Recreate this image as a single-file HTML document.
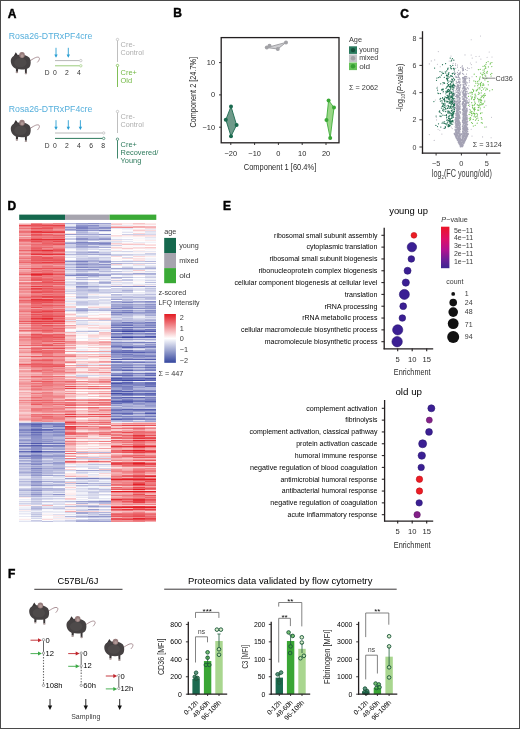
<!DOCTYPE html>
<html><head><meta charset="utf-8"><style>
html,body{margin:0;padding:0;background:#fff;}
body{width:520px;height:729px;overflow:hidden;}
svg{display:block;font-family:"Liberation Sans",sans-serif;will-change:transform;filter:blur(0.3px);}
</style></head><body>
<svg width="520" height="729" viewBox="0 0 520 729">
<rect x="0.5" y="0.5" width="519" height="728" fill="none" stroke="#4a4a4a" stroke-width="1"/>
<text x="7.80" y="17.90" font-size="12" fill="#000" font-weight="bold" style="stroke:#000;stroke-width:0.45px">A</text>
<text x="173.20" y="17.40" font-size="12" fill="#000" font-weight="bold" style="stroke:#000;stroke-width:0.45px">B</text>
<text x="400.20" y="17.80" font-size="12" fill="#000" font-weight="bold" style="stroke:#000;stroke-width:0.45px">C</text>
<text x="7.60" y="210.20" font-size="12" fill="#000" font-weight="bold" style="stroke:#000;stroke-width:0.45px">D</text>
<text x="223.00" y="210.30" font-size="12" fill="#000" font-weight="bold" style="stroke:#000;stroke-width:0.45px">E</text>
<text x="8.00" y="577.60" font-size="12" fill="#000" font-weight="bold" style="stroke:#000;stroke-width:0.45px">F</text>
<defs><symbol id="ms" viewBox="0 0 30 24" overflow="visible">
<path d="M20 9.3 C23.5 7.3 26.5 4.8 29 5.6 C30.6 6.3 29.8 8.6 28 10.4" fill="none" stroke="#a0858a" stroke-width="0.9" stroke-linecap="round"/>
<path d="M6.4 15.5 L6.3 20 L8.3 20.2 L8.7 15.5 Z" fill="#3b3738"/>
<ellipse cx="7.3" cy="20.7" rx="1.3" ry="0.8" fill="#a89696"/>
<path d="M15.2 16 L15.4 21.4 L17.2 21.4 L17.3 16 Z" fill="#3b3738"/>
<ellipse cx="16.3" cy="21.9" rx="1.3" ry="0.8" fill="#a89696"/>
<path d="M2.4 7.5 L6.2 0.6 L8.8 4.2 Z" fill="#343031"/>
<path d="M1.2 9.8 C1 5.8 4 3.6 8 3.3 C12 2.9 17 3.3 19.6 5.9 C21.6 8.3 21.6 13.4 19.6 15.8 C17.2 18 11.5 18.3 7.5 17.4 C3.8 16.5 1.4 13.2 1.2 9.8 Z" fill="#454142"/>
<ellipse cx="10.8" cy="11" rx="6.2" ry="4.6" fill="#4e4a4a"/>
<ellipse cx="12.4" cy="3.4" rx="2.8" ry="3" fill="#967c7c"/>
<ellipse cx="12.6" cy="4.2" rx="1.4" ry="1.6" fill="#b19b98"/>
</symbol>
<marker id="ab" viewBox="0 0 6 6" refX="3" refY="5" markerWidth="6" markerHeight="6" orient="auto-start-reverse" markerUnits="userSpaceOnUse"><path d="M0 0 L3 6 L6 0 Z" fill="#2b9fd3"/></marker>
</defs>
<text x="8.80" y="39.40" font-size="9" fill="#55afdc" textLength="83.6" lengthAdjust="spacingAndGlyphs">Rosa26-DTRxPF4cre</text>
<use href="#ms" x="9.60" y="51.70" width="30" height="24"/>
<line x1="56.00" y1="47.80" x2="56.00" y2="56.40" stroke="#2b9fd3" stroke-width="0.9"/>
<path d="M54.30 54.40 L57.70 54.40 L56.00 57.70 Z" fill="#2b9fd3"/>
<line x1="68.30" y1="47.80" x2="68.30" y2="56.40" stroke="#2b9fd3" stroke-width="0.9"/>
<path d="M66.60 54.40 L70.00 54.40 L68.30 57.70 Z" fill="#2b9fd3"/>
<line x1="55.00" y1="60.60" x2="79.60" y2="60.60" stroke="#b8b8b8" stroke-width="1.0"/>
<circle cx="80.80" cy="60.60" r="1.20" fill="#fff" stroke="#b8b8b8" stroke-width="0.7"/>
<line x1="55.00" y1="65.80" x2="79.60" y2="65.80" stroke="#9ccc7c" stroke-width="1.0"/>
<circle cx="80.80" cy="65.80" r="1.20" fill="#fff" stroke="#9ccc7c" stroke-width="0.7"/>
<text x="44.80" y="75.40" font-size="6.8" fill="#333" textLength="4.8" lengthAdjust="spacingAndGlyphs">D</text>
<text x="54.90" y="75.40" font-size="6.8" fill="#333" text-anchor="middle">0</text>
<text x="66.95" y="75.40" font-size="6.8" fill="#333" text-anchor="middle">2</text>
<text x="79.00" y="75.40" font-size="6.8" fill="#333" text-anchor="middle">4</text>
<circle cx="117.50" cy="39.50" r="1.20" fill="#fff" stroke="#b8b8b8" stroke-width="0.7"/>
<line x1="117.50" y1="40.70" x2="117.50" y2="62.00" stroke="#b8b8b8" stroke-width="0.9"/>
<text x="120.60" y="47.30" font-size="7.4" fill="#aeaeae">Cre-</text>
<text x="120.60" y="55.40" font-size="7.4" fill="#aeaeae" textLength="23.2" lengthAdjust="spacingAndGlyphs">Control</text>
<circle cx="117.50" cy="65.50" r="1.20" fill="#fff" stroke="#72b844" stroke-width="0.7"/>
<line x1="117.50" y1="66.70" x2="117.50" y2="87.00" stroke="#72b844" stroke-width="0.9"/>
<text x="120.60" y="75.30" font-size="7.4" fill="#72b844">Cre+</text>
<text x="120.60" y="83.30" font-size="7.4" fill="#72b844">Old</text>
<text x="8.80" y="111.50" font-size="9" fill="#55afdc" textLength="83.6" lengthAdjust="spacingAndGlyphs">Rosa26-DTRxPF4cre</text>
<use href="#ms" x="9.60" y="119.40" width="30" height="24"/>
<line x1="56.00" y1="120.20" x2="56.00" y2="128.80" stroke="#2b9fd3" stroke-width="0.9"/>
<path d="M54.30 126.80 L57.70 126.80 L56.00 130.10 Z" fill="#2b9fd3"/>
<line x1="68.30" y1="120.20" x2="68.30" y2="128.80" stroke="#2b9fd3" stroke-width="0.9"/>
<path d="M66.60 126.80 L70.00 126.80 L68.30 130.10 Z" fill="#2b9fd3"/>
<line x1="80.40" y1="120.20" x2="80.40" y2="128.80" stroke="#2b9fd3" stroke-width="0.9"/>
<path d="M78.70 126.80 L82.10 126.80 L80.40 130.10 Z" fill="#2b9fd3"/>
<line x1="55.00" y1="133.00" x2="102.50" y2="133.00" stroke="#b8b8b8" stroke-width="1.0"/>
<circle cx="103.70" cy="133.00" r="1.20" fill="#fff" stroke="#b8b8b8" stroke-width="0.7"/>
<line x1="55.00" y1="138.40" x2="102.50" y2="138.40" stroke="#2d7a5c" stroke-width="1.0"/>
<circle cx="103.70" cy="138.40" r="1.20" fill="#fff" stroke="#2d7a5c" stroke-width="0.7"/>
<text x="44.80" y="148.00" font-size="6.8" fill="#333" textLength="4.8" lengthAdjust="spacingAndGlyphs">D</text>
<text x="54.90" y="148.00" font-size="6.8" fill="#333" text-anchor="middle">0</text>
<text x="66.95" y="148.00" font-size="6.8" fill="#333" text-anchor="middle">2</text>
<text x="79.00" y="148.00" font-size="6.8" fill="#333" text-anchor="middle">4</text>
<text x="91.05" y="148.00" font-size="6.8" fill="#333" text-anchor="middle">6</text>
<text x="103.10" y="148.00" font-size="6.8" fill="#333" text-anchor="middle">8</text>
<circle cx="117.50" cy="111.50" r="1.20" fill="#fff" stroke="#b8b8b8" stroke-width="0.7"/>
<line x1="117.50" y1="112.70" x2="117.50" y2="133.00" stroke="#b8b8b8" stroke-width="0.9"/>
<text x="120.60" y="119.20" font-size="7.4" fill="#aeaeae">Cre-</text>
<text x="120.60" y="127.30" font-size="7.4" fill="#aeaeae" textLength="23.2" lengthAdjust="spacingAndGlyphs">Control</text>
<circle cx="117.50" cy="139.20" r="1.20" fill="#fff" stroke="#2d7a5c" stroke-width="0.7"/>
<line x1="117.50" y1="140.40" x2="117.50" y2="158.50" stroke="#2d7a5c" stroke-width="0.9"/>
<text x="120.60" y="147.40" font-size="7.4" fill="#2d7a5c">Cre+</text>
<text x="120.60" y="155.40" font-size="7.4" fill="#2d7a5c">Recovered/</text>
<text x="120.60" y="163.40" font-size="7.4" fill="#2d7a5c">Young</text>
<rect x="221.2" y="37.6" width="117.80" height="105.20" fill="none" stroke="#231f20" stroke-width="1.3"/>
<line x1="230.80" y1="142.80" x2="230.80" y2="145.00" stroke="#231f20" stroke-width="0.9"/>
<text x="230.80" y="155.80" font-size="7.4" fill="#2a2a2a" text-anchor="middle">−20</text>
<line x1="254.60" y1="142.80" x2="254.60" y2="145.00" stroke="#231f20" stroke-width="0.9"/>
<text x="254.60" y="155.80" font-size="7.4" fill="#2a2a2a" text-anchor="middle">−10</text>
<line x1="278.40" y1="142.80" x2="278.40" y2="145.00" stroke="#231f20" stroke-width="0.9"/>
<text x="278.40" y="155.80" font-size="7.4" fill="#2a2a2a" text-anchor="middle">0</text>
<line x1="302.20" y1="142.80" x2="302.20" y2="145.00" stroke="#231f20" stroke-width="0.9"/>
<text x="302.20" y="155.80" font-size="7.4" fill="#2a2a2a" text-anchor="middle">10</text>
<line x1="326.00" y1="142.80" x2="326.00" y2="145.00" stroke="#231f20" stroke-width="0.9"/>
<text x="326.00" y="155.80" font-size="7.4" fill="#2a2a2a" text-anchor="middle">20</text>
<line x1="219.00" y1="62.60" x2="221.20" y2="62.60" stroke="#231f20" stroke-width="0.9"/>
<text x="215.00" y="65.10" font-size="7.4" fill="#2a2a2a" text-anchor="end">10</text>
<line x1="219.00" y1="94.90" x2="221.20" y2="94.90" stroke="#231f20" stroke-width="0.9"/>
<text x="215.00" y="97.40" font-size="7.4" fill="#2a2a2a" text-anchor="end">0</text>
<line x1="219.00" y1="127.20" x2="221.20" y2="127.20" stroke="#231f20" stroke-width="0.9"/>
<text x="215.00" y="129.70" font-size="7.4" fill="#2a2a2a" text-anchor="end">−10</text>
<text x="280.00" y="170.20" font-size="9.6" fill="#2a2a2a" text-anchor="middle" textLength="72.5" lengthAdjust="spacingAndGlyphs">Component 1 [60.4%]</text>
<text x="196.00" y="92.30" font-size="9.6" fill="#2a2a2a" text-anchor="middle" textLength="70.5" lengthAdjust="spacingAndGlyphs" transform="rotate(-90 196.00 92.30)">Component 2 [24.7%]</text>
<polygon points="231.0,106.5 225.8,119.7 231.0,136.2 236.6,125.0" fill="#5f8f7d" fill-opacity="0.9" stroke="#1b6a4f" stroke-width="0.9"/>
<polygon points="266.8,47.6 277.8,49.0 286.0,42.4" fill="#c9c9cc" fill-opacity="0.9" stroke="#9a9a9e" stroke-width="0.9"/>
<polygon points="328.6,100.4 334.0,107.6 330.2,138.0 326.5,120.0" fill="#8fd27a" fill-opacity="0.9" stroke="#3fae3a" stroke-width="0.9"/>
<circle cx="231.00" cy="106.50" r="2.00" fill="#1b6a4f"/>
<circle cx="225.80" cy="119.70" r="2.00" fill="#1b6a4f"/>
<circle cx="231.00" cy="136.20" r="2.00" fill="#1b6a4f"/>
<circle cx="236.60" cy="125.00" r="2.00" fill="#1b6a4f"/>
<circle cx="266.80" cy="47.60" r="2.00" fill="#a2a2a6"/>
<circle cx="277.80" cy="49.00" r="2.00" fill="#a2a2a6"/>
<circle cx="286.00" cy="42.40" r="2.00" fill="#a2a2a6"/>
<circle cx="269.50" cy="45.80" r="2.00" fill="#a2a2a6"/>
<circle cx="328.60" cy="100.40" r="2.00" fill="#3aa935"/>
<circle cx="334.00" cy="107.60" r="2.00" fill="#3aa935"/>
<circle cx="330.20" cy="138.00" r="2.00" fill="#3aa935"/>
<circle cx="326.50" cy="120.00" r="2.00" fill="#3aa935"/>
<text x="349.00" y="41.80" font-size="7.3" fill="#3a3a3a">Age</text>
<rect x="349.0" y="46.30" width="8" height="7.6" fill="#2a7a5e"/>
<circle cx="353.00" cy="50.10" r="2.20" fill="#144f3a"/>
<text x="359.20" y="52.30" font-size="7.3" fill="#3a3a3a" textLength="19.5" lengthAdjust="spacingAndGlyphs">young</text>
<rect x="349.0" y="54.40" width="8" height="7.6" fill="#c4c4c8"/>
<circle cx="353.00" cy="58.20" r="2.20" fill="#a2a2a6"/>
<text x="359.20" y="60.40" font-size="7.3" fill="#3a3a3a" textLength="19.0" lengthAdjust="spacingAndGlyphs">mixed</text>
<rect x="349.0" y="62.50" width="8" height="7.6" fill="#67c15a"/>
<circle cx="353.00" cy="66.30" r="2.20" fill="#36a032"/>
<text x="359.20" y="68.50" font-size="7.3" fill="#3a3a3a" textLength="11.0" lengthAdjust="spacingAndGlyphs">old</text>
<text x="349.00" y="89.90" font-size="7.3" fill="#3a3a3a">Σ = 2062</text>
<line x1="422.50" y1="31.20" x2="422.50" y2="153.75" stroke="#231f20" stroke-width="1.3"/>
<line x1="421.85" y1="153.10" x2="500.40" y2="153.10" stroke="#231f20" stroke-width="1.3"/>
<line x1="419.40" y1="147.00" x2="422.50" y2="147.00" stroke="#231f20" stroke-width="0.9"/>
<text x="416.40" y="149.50" font-size="7" fill="#3a3a3a" text-anchor="end">0</text>
<line x1="419.40" y1="119.80" x2="422.50" y2="119.80" stroke="#231f20" stroke-width="0.9"/>
<text x="416.40" y="122.30" font-size="7" fill="#3a3a3a" text-anchor="end">2</text>
<line x1="419.40" y1="92.60" x2="422.50" y2="92.60" stroke="#231f20" stroke-width="0.9"/>
<text x="416.40" y="95.10" font-size="7" fill="#3a3a3a" text-anchor="end">4</text>
<line x1="419.40" y1="65.40" x2="422.50" y2="65.40" stroke="#231f20" stroke-width="0.9"/>
<text x="416.40" y="67.90" font-size="7" fill="#3a3a3a" text-anchor="end">6</text>
<line x1="419.40" y1="38.20" x2="422.50" y2="38.20" stroke="#231f20" stroke-width="0.9"/>
<text x="416.40" y="40.70" font-size="7" fill="#3a3a3a" text-anchor="end">8</text>
<line x1="436.10" y1="153.10" x2="436.10" y2="155.50" stroke="#231f20" stroke-width="0.9"/>
<text x="436.10" y="165.60" font-size="7.4" fill="#3a3a3a" text-anchor="middle">−5</text>
<line x1="461.40" y1="153.10" x2="461.40" y2="155.50" stroke="#231f20" stroke-width="0.9"/>
<text x="461.40" y="165.60" font-size="7.4" fill="#3a3a3a" text-anchor="middle">0</text>
<line x1="486.70" y1="153.10" x2="486.70" y2="155.50" stroke="#231f20" stroke-width="0.9"/>
<text x="486.70" y="165.60" font-size="7.4" fill="#3a3a3a" text-anchor="middle">5</text>
<text x="431.80" y="177.00" font-size="10" fill="#3a3a3a" textLength="60" lengthAdjust="spacingAndGlyphs">log<tspan font-size="6" dy="1.8">2</tspan><tspan dy="-1.8">(FC young/old)</tspan></text>
<text x="402.80" y="87.50" font-size="8.8" fill="#3a3a3a" text-anchor="middle" textLength="48" lengthAdjust="spacingAndGlyphs" transform="rotate(-90 402.80 87.50)">-log<tspan font-size="5.5" dy="1.8">10</tspan><tspan dy="-1.8">(</tspan><tspan font-style="italic">P</tspan>-value)</text>
<path d="M436.3 117.5h0M474.4 101.0h0M480.2 109.7h0M470.4 63.0h0M429.3 63.9h0M434.2 140.4h0M471.7 67.7h0M453.0 124.2h0M443.4 128.4h0M482.6 136.9h0M431.3 60.9h0M434.7 59.9h0M477.2 116.0h0M469.9 114.8h0M429.3 134.6h0M476.0 56.5h0M484.8 100.2h0M476.2 62.1h0M437.4 64.2h0M472.0 76.7h0M486.0 76.1h0M480.9 59.1h0M440.2 66.7h0M449.1 102.3h0M443.0 92.7h0M481.2 95.5h0M441.9 134.1h0M438.1 129.3h0M471.3 64.6h0M475.8 97.0h0M491.1 137.7h0M437.8 90.7h0M449.9 77.3h0M468.1 77.8h0M451.3 127.0h0M479.2 56.3h0M454.2 60.3h0M437.4 87.1h0M439.8 130.3h0M442.8 84.7h0M486.6 126.9h0M449.2 61.0h0M472.0 136.1h0M486.0 105.6h0M472.2 58.1h0M465.0 78.7h0M486.1 73.1h0M450.1 120.5h0M465.0 54.9h0M471.2 129.3h0M451.7 94.7h0M491.5 117.3h0M435.3 100.0h0M453.5 116.3h0M436.6 119.9h0M452.2 128.6h0M487.1 57.2h0M480.5 36.0h0M471.2 39.8h0M438.3 51.6h0M451.0 56.0h0M471.2 55.0h0M489.2 52.0h0M492.0 57.0h0" stroke="#b9b7c2" stroke-width="1.1" stroke-linecap="round" fill="none"/>
<path d="M449.8 121.5h0M452.5 94.4h0M448.3 105.5h0M448.7 73.9h0M454.4 111.0h0M444.7 105.4h0M453.1 88.8h0M451.8 82.3h0M453.1 115.2h0M450.3 103.3h0M454.6 85.5h0M446.5 78.4h0M452.5 98.4h0M454.3 85.7h0M451.5 110.7h0M445.0 115.4h0M449.3 86.3h0M454.1 80.2h0M447.3 86.7h0M442.9 109.1h0M449.5 90.3h0M446.0 124.1h0M452.9 103.3h0M443.3 91.7h0M454.1 95.1h0M451.3 108.6h0M449.8 123.0h0M453.0 104.2h0M450.8 89.1h0M454.1 87.8h0M453.4 87.1h0M452.9 94.7h0M445.6 111.5h0M442.1 106.3h0M451.5 101.5h0M448.7 126.6h0M454.1 111.1h0M441.4 75.0h0M451.9 95.7h0M444.8 103.0h0M447.8 68.7h0M443.6 99.5h0M450.0 84.4h0M449.0 103.1h0M447.4 83.6h0M450.3 101.4h0M448.1 107.2h0M445.4 127.7h0M451.9 85.2h0M452.5 76.3h0M447.1 123.2h0M452.0 85.6h0M443.1 105.3h0M449.4 93.6h0M442.1 103.6h0M449.9 100.2h0M450.3 125.1h0M448.1 101.3h0M438.5 123.8h0M452.7 106.9h0M448.1 95.2h0M450.9 115.1h0M448.5 84.5h0M451.9 81.4h0M452.5 115.5h0M442.7 89.9h0M436.1 116.0h0M453.2 83.8h0M442.5 64.7h0M451.3 82.1h0M447.4 97.4h0M453.7 60.1h0M437.5 90.0h0M451.2 121.1h0M440.1 77.2h0M453.1 106.9h0M442.1 102.1h0M437.0 88.0h0M451.3 115.5h0M454.1 105.0h0M452.3 101.9h0M441.0 116.1h0M444.6 101.3h0M448.0 105.4h0M450.3 85.9h0M440.0 99.2h0M448.7 99.3h0M442.8 73.6h0M446.9 78.9h0M447.9 76.4h0M447.8 119.8h0M451.4 111.0h0M444.6 121.8h0M453.4 95.8h0M448.6 106.0h0M444.7 128.3h0M450.0 98.8h0M449.4 119.1h0M450.2 93.3h0M439.9 116.1h0M447.9 80.3h0M448.1 126.4h0M450.2 84.5h0M454.0 100.4h0M452.7 97.9h0M449.8 103.1h0M452.1 107.1h0M442.9 115.2h0M452.3 86.4h0M451.5 75.9h0M451.8 100.2h0M452.7 97.5h0M454.6 79.5h0M447.1 77.8h0M450.0 90.0h0M448.4 85.7h0M452.8 89.4h0M451.6 96.3h0M446.6 117.8h0M453.2 117.4h0M451.7 79.0h0M454.1 111.3h0M443.0 82.5h0M448.4 125.1h0M449.1 118.7h0M453.7 106.2h0M447.2 75.4h0M448.6 118.4h0M448.9 111.3h0M446.5 115.5h0M451.3 122.2h0M441.5 89.9h0M446.7 87.2h0M447.1 95.5h0M441.4 108.1h0M452.1 121.3h0M453.3 99.0h0M447.8 112.9h0M444.4 98.3h0M451.2 106.1h0M447.1 98.7h0M446.8 117.0h0M452.1 87.6h0M453.6 93.2h0M440.8 127.0h0M452.6 114.4h0M443.6 73.4h0M452.2 93.7h0M449.5 94.6h0M451.5 118.3h0M443.4 103.5h0M452.5 103.0h0M442.4 106.2h0M451.7 60.0h0M449.2 108.4h0M438.8 93.5h0M450.8 122.2h0M453.1 84.9h0M452.2 97.4h0M452.8 121.0h0M453.8 113.7h0M439.2 111.7h0M452.1 97.1h0M450.8 76.0h0M454.2 111.8h0M450.1 87.6h0M442.1 123.2h0M448.3 120.7h0M452.9 109.2h0M448.3 84.9h0M452.2 73.5h0M451.9 117.7h0M453.5 112.0h0M448.2 112.2h0M451.1 91.9h0M449.2 116.3h0M454.0 107.5h0M452.7 120.3h0M448.3 82.1h0M446.5 114.7h0M453.4 106.2h0M448.6 124.6h0M451.9 85.6h0M454.0 105.3h0M454.7 101.7h0M448.6 89.4h0M445.3 126.7h0M433.9 101.6h0M451.6 81.9h0M446.7 70.9h0M452.3 80.2h0M453.3 106.0h0M450.4 119.2h0M453.6 100.7h0M436.9 78.1h0M451.2 66.5h0M448.4 91.4h0M454.2 98.3h0M448.6 111.0h0M449.1 111.3h0M452.0 124.4h0M452.0 100.3h0M454.2 94.1h0M453.3 104.4h0M447.0 92.4h0M453.6 102.4h0M454.8 73.1h0M448.9 72.5h0M449.3 92.8h0M446.0 88.3h0M448.1 78.3h0M451.7 113.7h0M453.6 113.4h0M443.4 89.1h0M447.9 96.5h0M443.7 111.0h0M454.5 107.8h0M450.6 113.2h0M444.8 100.6h0M452.6 101.2h0M444.3 77.3h0M440.5 93.6h0M438.4 77.6h0M449.4 91.0h0M452.6 96.0h0M443.5 109.0h0M451.5 104.1h0M446.0 92.1h0M446.0 91.4h0M440.4 101.0h0M452.5 79.3h0M445.0 109.7h0M447.4 91.5h0M447.7 69.6h0M440.0 71.5h0M444.8 107.4h0M450.6 107.2h0M453.6 68.3h0M448.3 126.7h0M444.1 107.1h0M451.4 114.0h0M448.5 106.3h0M450.7 75.7h0M447.8 122.1h0M447.4 80.8h0M452.8 65.4h0M440.0 112.3h0M449.5 121.5h0M448.0 97.0h0M446.7 120.2h0M448.6 124.6h0M451.8 118.4h0M444.6 99.1h0M450.3 65.5h0M452.8 103.2h0M444.5 100.2h0M450.7 102.5h0M449.4 95.9h0M451.4 76.0h0M448.9 96.4h0M437.9 93.1h0M451.9 101.5h0M445.8 73.1h0M451.6 68.7h0M454.6 93.6h0M449.3 115.6h0M449.0 116.9h0M454.6 74.3h0M445.1 96.9h0M449.1 113.5h0M453.6 99.0h0M453.7 78.3h0M450.4 87.2h0M449.6 125.2h0M453.9 108.0h0M442.3 89.0h0M445.1 123.6h0M447.7 101.3h0M450.0 86.7h0M448.8 120.7h0M452.7 110.9h0M452.6 86.5h0M434.6 68.0h0M450.2 103.1h0M452.8 85.4h0M446.1 108.8h0M437.5 126.6h0M450.2 58.0h0M452.2 92.9h0M448.4 74.8h0M435.9 125.4h0M450.2 121.4h0M449.7 112.4h0M440.7 83.8h0M454.4 109.4h0M450.9 86.7h0M453.1 88.9h0M450.3 106.5h0M449.0 91.6h0M451.7 116.1h0M450.9 91.4h0M448.6 91.1h0M454.2 104.5h0M451.8 123.9h0M453.0 120.8h0M453.1 114.5h0M444.0 123.4h0M447.1 102.2h0M448.7 126.0h0M449.7 126.1h0M447.5 108.4h0M453.3 94.3h0M441.9 100.7h0M452.0 98.9h0M445.5 108.3h0M448.7 98.8h0M452.1 113.2h0M447.1 90.8h0M439.8 76.8h0M443.0 106.6h0M453.4 68.6h0M452.4 58.5h0M454.5 105.5h0M442.8 98.5h0M451.1 61.0h0M444.6 83.3h0M448.1 112.4h0M454.6 101.5h0M454.2 93.8h0M452.5 103.4h0M451.0 97.4h0M450.8 108.1h0M441.8 89.7h0M446.4 75.8h0M450.7 76.1h0M450.0 107.1h0M452.5 121.2h0M447.9 97.2h0M450.1 118.6h0M454.0 68.4h0M448.1 68.0h0M454.5 104.7h0M452.8 112.5h0M447.3 111.1h0M453.8 84.7h0M445.1 104.0h0M454.5 103.6h0M451.9 97.1h0M450.1 106.4h0M447.7 89.9h0M448.5 116.8h0M445.3 71.8h0M441.0 116.5h0M453.0 121.9h0M440.7 98.3h0M448.2 73.8h0M445.9 93.8h0M451.9 99.5h0M453.1 114.5h0M453.7 85.0h0M446.4 97.5h0M453.2 73.0h0M452.2 115.7h0M451.4 92.2h0M439.7 110.8h0M451.0 104.8h0M453.2 81.8h0M449.6 120.5h0M447.8 91.6h0M442.6 97.6h0M444.4 82.9h0M450.6 96.0h0M450.8 88.6h0M454.2 69.9h0M453.9 94.6h0M452.2 120.5h0M447.9 91.4h0M447.8 86.2h0M449.4 102.0h0M449.6 99.8h0M450.7 83.7h0M450.5 67.8h0M452.1 96.0h0M451.3 110.3h0M450.5 120.9h0M451.2 68.8h0M446.6 75.1h0M436.5 80.3h0M443.1 122.1h0M446.2 101.2h0M449.1 77.0h0M450.1 81.2h0M449.9 97.8h0M445.6 63.5h0M451.6 93.1h0M443.7 104.3h0M454.4 111.4h0M443.0 105.0h0M454.1 104.4h0M448.7 97.9h0M446.1 97.6h0M442.7 110.6h0M454.5 105.0h0M442.0 72.2h0M446.0 106.0h0M450.7 123.3h0M447.3 79.4h0M450.8 92.0h0M454.2 69.5h0M447.0 124.9h0M443.4 82.9h0M452.9 116.3h0M441.3 113.5h0M449.7 121.8h0M450.6 122.0h0M450.0 119.3h0M452.1 86.7h0M451.5 102.6h0M452.5 73.8h0M453.1 91.0h0" stroke="#217054" stroke-width="1.25" stroke-linecap="round" fill="none"/>
<path d="M473.5 90.8h0M474.0 105.3h0M472.9 108.0h0M485.7 67.0h0M489.7 90.8h0M474.6 108.0h0M472.5 123.3h0M483.6 97.7h0M482.0 112.8h0M477.6 89.5h0M481.0 102.4h0M490.2 64.0h0M485.0 75.0h0M474.4 109.1h0M484.4 69.0h0M470.7 118.2h0M483.2 95.5h0M480.3 108.1h0M491.9 62.6h0M480.5 100.2h0M474.4 110.0h0M474.4 115.0h0M481.0 97.6h0M480.5 85.0h0M478.1 88.0h0M482.5 77.2h0M488.4 66.9h0M475.0 114.1h0M486.4 62.5h0M480.5 104.8h0M484.2 107.2h0M485.7 90.1h0M483.1 83.5h0M485.4 76.1h0M473.9 80.9h0M480.6 83.3h0M482.3 85.1h0M479.7 104.1h0M483.4 89.0h0M478.9 80.8h0M484.7 65.5h0M477.7 83.1h0M488.1 61.6h0M477.8 104.9h0M477.8 118.0h0M480.2 76.8h0M476.0 116.5h0M471.4 99.1h0M484.4 71.0h0M483.8 94.9h0M481.6 96.9h0M477.5 81.3h0M469.2 118.3h0M488.1 81.5h0M474.8 86.0h0M485.7 68.4h0M490.6 74.3h0M478.8 101.8h0M486.9 78.0h0M470.7 112.1h0M475.2 94.0h0M474.4 110.9h0M474.5 97.0h0M474.4 113.3h0M479.4 99.3h0M482.5 123.1h0M471.3 92.0h0M468.5 96.3h0M487.1 73.1h0M481.6 90.5h0M470.0 112.2h0M478.3 120.3h0M481.9 119.2h0M471.5 111.8h0M487.8 81.5h0M473.3 126.1h0M474.9 97.5h0M470.4 117.5h0M468.7 102.7h0M483.2 103.4h0M478.7 105.7h0M484.7 93.7h0M471.4 113.3h0M477.6 98.3h0M480.7 99.2h0M485.3 95.4h0M485.9 64.3h0M482.9 104.2h0M472.5 105.6h0M474.8 102.0h0M479.9 88.9h0M472.2 94.2h0M469.1 114.4h0M472.2 105.0h0M470.4 110.0h0M469.5 120.1h0M471.2 92.7h0M475.3 103.4h0M477.5 114.2h0M475.2 109.3h0M472.5 92.6h0M473.5 91.3h0M475.2 125.3h0M480.1 83.9h0M475.6 81.3h0M483.2 85.0h0M480.4 102.0h0M472.1 97.8h0M474.1 116.7h0M487.3 71.4h0M483.8 84.8h0M472.0 111.6h0M474.9 114.2h0M477.2 123.2h0M470.5 119.7h0M484.7 101.8h0M472.3 96.8h0M474.8 107.6h0M478.8 107.4h0M483.3 72.3h0M480.6 85.9h0M481.3 117.7h0M484.5 73.3h0M478.8 92.4h0M478.3 99.3h0M479.2 93.7h0M480.5 113.1h0M474.9 85.8h0M476.3 90.1h0M475.8 95.9h0M482.5 96.0h0M476.3 113.3h0M474.5 108.3h0M472.7 89.3h0M472.1 113.9h0M471.7 102.7h0M473.6 99.7h0M491.1 76.1h0M480.5 113.5h0M484.3 96.0h0M485.1 66.4h0M475.0 98.5h0M478.2 107.5h0M481.8 104.7h0M475.0 94.8h0M473.2 119.4h0M477.7 85.7h0M480.2 69.4h0M484.9 127.0h0M477.3 115.9h0M481.1 99.9h0M481.4 82.3h0M484.9 87.8h0M480.7 73.2h0M473.6 109.0h0M475.8 83.2h0M481.6 100.7h0M490.4 63.1h0M473.4 113.2h0M477.7 110.0h0M474.2 74.2h0M491.8 66.6h0M471.7 97.9h0M487.2 89.4h0M481.3 122.7h0M474.4 99.6h0M475.5 120.2h0M486.9 88.3h0M483.0 70.0h0M483.9 85.1h0M478.6 110.2h0M471.5 122.6h0M479.7 87.6h0M469.9 92.9h0M473.7 90.0h0M483.0 66.3h0M491.8 73.4h0M480.6 83.9h0M475.6 117.1h0M477.2 104.8h0M471.7 115.7h0M479.0 100.5h0M476.5 118.9h0M482.5 75.0h0M484.9 79.9h0M473.9 113.4h0M486.8 72.7h0M474.7 104.6h0M477.0 90.0h0M481.8 103.8h0M480.4 84.1h0M483.1 74.1h0M470.9 96.1h0M482.0 74.5h0M488.3 84.8h0M482.2 87.4h0M486.1 78.6h0M478.4 69.7h0M492.3 89.7h0M479.6 105.8h0M472.5 107.2h0M483.5 78.2h0M479.6 79.3h0M479.7 78.0h0M476.4 76.5h0M468.4 105.3h0M476.3 90.9h0M478.2 94.3h0M478.4 84.0h0M481.2 92.9h0" stroke="#72c456" stroke-width="1.25" stroke-linecap="round" fill="none"/>
<path d="M462.9 137.8h0M465.1 119.5h0M462.9 140.6h0M458.7 108.6h0M465.3 138.8h0M463.9 87.3h0M464.8 125.7h0M463.5 140.2h0M465.1 94.6h0M459.9 101.0h0M466.0 121.5h0M460.1 107.2h0M456.9 115.6h0M463.5 98.1h0M467.0 135.5h0M460.1 146.2h0M462.8 138.4h0M463.7 137.2h0M460.6 141.9h0M463.5 141.9h0M466.0 95.3h0M464.2 139.7h0M465.8 133.0h0M465.6 113.4h0M467.5 135.8h0M457.9 128.8h0M465.5 117.8h0M457.4 128.8h0M455.4 117.6h0M466.5 127.7h0M464.0 120.1h0M465.0 124.9h0M466.6 94.6h0M465.8 106.4h0M466.8 130.0h0M462.5 144.8h0M467.9 133.5h0M457.4 111.9h0M459.1 93.9h0M458.7 110.1h0M465.1 119.5h0M459.0 100.2h0M464.5 140.5h0M462.1 146.8h0M465.0 139.4h0M466.4 91.5h0M465.6 97.7h0M464.0 128.3h0M465.8 107.6h0M467.3 110.5h0M464.7 130.4h0M462.7 144.2h0M465.1 95.9h0M463.1 99.0h0M464.0 113.2h0M459.7 137.9h0M462.7 81.1h0M459.7 118.4h0M460.4 113.2h0M464.9 81.2h0M455.7 127.4h0M465.4 110.0h0M459.5 130.7h0M459.2 82.8h0M465.2 125.3h0M457.4 107.3h0M457.3 130.5h0M456.6 135.4h0M466.5 112.4h0M462.5 120.8h0M463.1 119.6h0M465.2 120.3h0M459.2 107.1h0M458.3 136.0h0M465.4 116.2h0M457.7 139.1h0M462.3 114.1h0M457.6 122.0h0M465.7 136.6h0M467.4 129.5h0M462.8 88.1h0M461.5 139.6h0M460.5 124.3h0M464.2 99.4h0M465.1 128.0h0M457.9 122.7h0M456.5 121.2h0M464.7 82.3h0M456.9 121.6h0M463.8 115.1h0M457.2 116.5h0M465.2 139.6h0M465.6 136.6h0M465.3 140.2h0M465.2 112.2h0M463.0 117.3h0M458.4 129.2h0M455.7 125.6h0M464.5 142.2h0M455.1 133.2h0M457.8 133.7h0M465.7 139.5h0M464.1 86.3h0M465.5 105.0h0M465.1 107.7h0M457.7 98.2h0M462.7 103.5h0M464.9 130.9h0M464.4 122.7h0M459.1 112.2h0M456.4 131.8h0M460.1 126.3h0M463.7 137.9h0M465.8 113.3h0M465.2 86.0h0M464.5 122.0h0M464.6 123.3h0M464.5 88.7h0M456.0 118.2h0M459.7 104.0h0M463.3 108.8h0M466.0 136.8h0M465.8 115.3h0M462.9 138.4h0M457.8 128.2h0M465.0 140.6h0M466.8 129.0h0M466.7 128.3h0M460.0 117.9h0M456.1 114.6h0M458.4 128.6h0M458.8 131.8h0M460.2 146.0h0M459.1 136.0h0M462.9 102.6h0M456.3 88.7h0M463.8 91.3h0M460.4 140.6h0M466.2 125.9h0M459.4 118.3h0M468.3 133.4h0M463.5 111.2h0M460.1 145.2h0M456.2 130.4h0M465.2 100.1h0M461.1 140.1h0M462.9 139.5h0M458.8 141.0h0M456.4 121.6h0M462.9 130.6h0M458.0 90.8h0M467.4 133.2h0M465.6 94.5h0M458.7 128.2h0M460.4 122.8h0M456.5 125.9h0M464.3 126.0h0M455.6 119.0h0M466.4 108.6h0M464.5 106.2h0M455.7 123.8h0M458.9 142.3h0M465.4 129.0h0M465.5 124.0h0M466.4 130.6h0M464.0 112.9h0M455.1 119.5h0M465.5 138.8h0M465.6 111.4h0M463.7 74.5h0M463.5 137.1h0M459.2 120.7h0M457.6 131.8h0M460.2 92.0h0M465.1 117.9h0M458.5 137.6h0M458.6 115.4h0M466.1 128.0h0M457.3 105.8h0M462.0 140.3h0M466.9 123.3h0M466.2 103.8h0M456.6 132.8h0M464.4 122.6h0M457.3 118.6h0M464.7 126.5h0M457.3 101.8h0M467.3 133.7h0M463.7 93.9h0M456.7 124.1h0M461.6 146.1h0M465.7 118.6h0M458.0 101.9h0M455.7 135.9h0M464.0 129.3h0M463.2 108.4h0M466.0 123.7h0M459.8 102.4h0M462.3 146.7h0M458.3 141.0h0M456.7 136.9h0M467.5 118.1h0M456.5 125.5h0M458.8 141.1h0M463.8 141.2h0M465.4 104.1h0M457.8 114.5h0M463.4 140.2h0M457.4 86.8h0M462.8 121.5h0M456.4 127.0h0M464.5 130.5h0M455.6 121.8h0M460.6 129.3h0M459.6 141.6h0M466.4 138.5h0M458.2 142.4h0M457.3 88.0h0M458.4 139.0h0M463.4 142.1h0M456.6 102.2h0M456.0 125.7h0M465.7 78.3h0M457.4 123.2h0M464.2 87.8h0M465.1 139.4h0M457.3 121.6h0M459.0 139.9h0M459.2 103.0h0M460.1 144.5h0M466.6 134.8h0M464.7 86.3h0M459.7 126.9h0M460.3 146.0h0M456.8 113.4h0M465.4 110.8h0M465.7 137.8h0M462.7 132.3h0M458.1 113.0h0M460.2 85.6h0M464.6 141.9h0M458.8 111.7h0M466.5 122.4h0M465.5 116.0h0M457.1 124.0h0M464.2 94.8h0M458.6 85.1h0M463.0 145.3h0M463.5 106.6h0M465.4 136.5h0M465.0 96.0h0M464.1 77.1h0M463.1 113.4h0M462.5 109.3h0M456.7 135.4h0M466.1 135.3h0M459.6 142.3h0M464.8 114.9h0M455.1 122.9h0M460.1 142.8h0M466.0 124.3h0M457.3 123.3h0M457.1 134.6h0M455.7 130.7h0M462.8 145.1h0M457.7 104.3h0M460.4 139.0h0M463.9 132.2h0M463.5 85.7h0M456.7 136.1h0M456.3 133.1h0M464.0 128.4h0M457.8 120.0h0M464.2 135.3h0M458.9 106.9h0M465.0 119.7h0M461.5 146.6h0M464.6 112.8h0M466.0 103.2h0M466.4 137.7h0M457.1 129.6h0M463.8 110.7h0M463.5 128.9h0M458.5 139.3h0M467.0 132.6h0M460.2 141.1h0M464.4 130.1h0M456.9 122.7h0M457.7 100.1h0M465.1 136.7h0M466.1 127.5h0M466.9 134.3h0M463.3 145.1h0M457.8 125.4h0M465.3 138.7h0M459.7 116.1h0M462.7 136.1h0M463.5 136.7h0M465.6 115.3h0M466.5 99.8h0M463.8 119.3h0M466.4 133.6h0M455.7 136.3h0M466.2 120.9h0M458.3 141.9h0M463.1 141.8h0M459.5 138.7h0M465.9 100.3h0M455.7 133.0h0M466.2 115.3h0M465.8 93.6h0M461.7 140.6h0M459.9 130.0h0M461.1 134.3h0M458.6 115.3h0M456.8 113.4h0M460.3 140.5h0M459.0 81.7h0M461.6 144.9h0M457.2 127.4h0M459.5 143.2h0M456.6 125.0h0M458.8 90.7h0M467.6 136.2h0M457.5 118.4h0M458.3 105.5h0M467.0 117.7h0M466.3 110.2h0M464.4 106.5h0M466.6 108.2h0M459.8 88.7h0M462.8 125.0h0M456.9 117.0h0M454.4 134.2h0M462.9 82.3h0M459.8 88.1h0M463.0 77.9h0M464.4 99.9h0M465.7 80.9h0M462.1 139.2h0M457.7 135.9h0M454.9 133.4h0M466.6 118.2h0M464.2 106.3h0M457.6 118.0h0M458.6 125.2h0M465.5 114.3h0M464.0 103.5h0M466.4 129.4h0M459.9 106.1h0M464.9 138.0h0M456.8 117.7h0M463.1 82.6h0M465.0 111.5h0M459.1 121.6h0M458.1 119.5h0M462.0 137.3h0M457.2 138.5h0M457.8 125.8h0M466.1 114.8h0M457.4 140.2h0M464.5 100.2h0M464.3 123.2h0M459.5 144.6h0M456.7 106.0h0M457.9 82.7h0M465.8 128.7h0M456.0 135.7h0M463.1 129.8h0M459.0 113.5h0M461.8 140.6h0M467.4 119.8h0M458.6 109.7h0M460.2 144.9h0M464.3 90.8h0M462.4 145.6h0M459.2 140.6h0M464.5 119.8h0M455.9 127.2h0M466.9 136.1h0M466.0 117.9h0M460.4 95.1h0M463.2 136.2h0M455.1 132.5h0M463.9 140.3h0M464.3 126.8h0M464.5 120.5h0M464.2 101.5h0M466.5 118.6h0M465.9 119.7h0M457.2 132.1h0M465.9 122.0h0M466.1 130.7h0M455.8 100.8h0M459.6 111.8h0M458.8 82.2h0M459.7 108.4h0M464.5 109.0h0M463.7 95.4h0M465.7 122.8h0M456.4 132.7h0M456.3 115.7h0M459.0 129.5h0M462.0 146.6h0M456.5 128.0h0M462.0 144.4h0M465.8 117.8h0M463.3 130.3h0M463.7 115.8h0M457.5 122.8h0M459.6 143.6h0M459.1 137.7h0M457.4 112.9h0M460.2 144.7h0M461.9 146.5h0M466.4 85.3h0M464.2 107.7h0M465.0 118.4h0M463.3 124.1h0M457.0 88.1h0M465.5 121.3h0M455.3 135.9h0M463.4 107.1h0M467.1 124.5h0M459.7 89.8h0M460.5 141.7h0M459.0 85.4h0M456.9 109.6h0M464.6 106.4h0M465.3 121.2h0M458.9 126.9h0M459.4 129.8h0M463.1 145.3h0M459.0 128.5h0M457.5 97.7h0M459.9 97.8h0M465.8 114.6h0M455.2 119.3h0M459.3 117.7h0M458.9 102.9h0M459.0 141.3h0M460.0 136.3h0M458.5 116.6h0M462.5 78.2h0M456.8 117.9h0M463.9 136.1h0M465.6 119.2h0M455.3 120.5h0M460.4 138.4h0M465.1 138.1h0M456.7 118.8h0M464.1 128.7h0M464.5 106.4h0M463.9 77.2h0M457.2 107.0h0M466.1 88.5h0M466.9 137.2h0M457.9 120.6h0M462.5 77.6h0M459.0 97.0h0M457.9 104.1h0M463.1 141.2h0M458.8 125.5h0M455.9 132.3h0M459.9 123.5h0M460.8 135.0h0M462.9 104.3h0M458.7 95.6h0M463.7 118.9h0M458.2 127.5h0M462.7 117.2h0M457.9 86.2h0M459.8 128.3h0M463.3 140.5h0M457.5 129.1h0M458.3 117.2h0M460.0 129.7h0M465.7 137.0h0M458.0 88.1h0M459.7 115.9h0M455.4 117.8h0M455.4 122.4h0M459.1 116.9h0M463.8 117.9h0M466.8 126.2h0M458.5 81.4h0M455.8 125.7h0M466.0 127.3h0M457.6 134.3h0M464.2 129.5h0M465.0 126.7h0M464.6 95.0h0M459.6 144.2h0M456.8 124.2h0M465.4 126.6h0M465.5 82.7h0M459.6 121.0h0M455.9 115.6h0M459.1 116.1h0M458.5 107.8h0M455.7 102.9h0M459.1 144.1h0M466.8 119.4h0M455.5 107.3h0M456.7 139.0h0M464.3 101.3h0M461.8 144.9h0M465.4 97.3h0M466.1 128.8h0M461.9 139.0h0M463.7 122.9h0M457.0 88.9h0M455.3 135.1h0M457.9 130.6h0M465.4 105.1h0M459.9 133.9h0M456.3 103.9h0M459.0 136.4h0M455.6 119.3h0M457.6 82.5h0M464.8 139.2h0M463.4 143.2h0M462.2 139.4h0M465.1 111.2h0M460.3 138.4h0M466.6 108.7h0M459.6 91.1h0M464.1 90.9h0M466.5 129.5h0M459.9 143.1h0M464.9 129.4h0M464.2 113.3h0M464.0 135.2h0M459.6 114.8h0M462.5 128.5h0M466.5 128.5h0M462.8 145.0h0M459.4 128.1h0M465.3 95.0h0M456.6 111.2h0M456.1 98.6h0M464.8 118.3h0M464.9 101.1h0M463.0 106.3h0M463.3 116.7h0M456.5 94.8h0M460.3 73.8h0M457.5 134.9h0M459.7 91.3h0M454.6 133.5h0M458.7 120.7h0M462.7 145.5h0M462.7 73.4h0M457.8 106.2h0M459.0 108.0h0M458.3 129.2h0M464.5 88.8h0M459.7 123.3h0M459.2 128.1h0M464.8 141.6h0M456.1 137.9h0M460.2 104.1h0M459.7 141.2h0M456.5 119.7h0M458.3 136.5h0M455.8 119.4h0M459.0 81.8h0M464.2 123.4h0M460.2 94.0h0M464.2 120.2h0M465.7 89.8h0M464.2 125.2h0M457.1 106.9h0M455.9 122.1h0M457.1 117.3h0M465.3 138.4h0M455.8 136.3h0M464.0 123.7h0M458.4 128.3h0M459.7 72.9h0M462.5 145.7h0M463.5 98.4h0M460.4 127.6h0M460.2 105.9h0M456.1 108.1h0M457.6 135.8h0M464.6 115.2h0M456.4 111.8h0M462.8 101.9h0M457.4 134.1h0M457.9 139.3h0M464.5 101.5h0M467.0 108.8h0M466.6 126.2h0M458.6 113.5h0M457.1 101.1h0M466.7 110.3h0M459.1 109.0h0M461.6 146.2h0M459.3 109.0h0M467.1 108.9h0M459.1 143.8h0M455.9 114.9h0M454.8 129.8h0M456.0 130.9h0M456.0 99.1h0M463.1 128.3h0M460.2 92.7h0M456.7 132.3h0M456.2 125.7h0M457.9 103.9h0M462.3 126.3h0M458.1 107.9h0M464.0 118.0h0M466.1 139.2h0M464.9 139.5h0M463.2 128.4h0M459.1 110.7h0M466.4 105.1h0M457.6 114.9h0M457.2 140.1h0M464.8 119.5h0M454.4 134.6h0M459.3 89.5h0M455.6 130.4h0M459.3 79.3h0M460.6 143.5h0M462.6 102.6h0M459.9 144.1h0M465.7 135.1h0M466.1 112.1h0M463.1 141.6h0M460.0 145.1h0M458.8 142.8h0M462.4 133.7h0M464.2 134.6h0M456.7 138.5h0M462.9 140.4h0M461.6 142.3h0M465.2 135.1h0M460.0 145.1h0M463.1 116.0h0M457.6 116.7h0M463.6 129.9h0M457.7 122.8h0M463.5 132.7h0M462.8 98.3h0M458.5 76.6h0M465.6 116.5h0M466.7 127.7h0M458.4 131.3h0M466.8 124.5h0M458.2 129.3h0M466.9 123.2h0M461.9 145.7h0M464.9 101.6h0M466.3 138.6h0M456.9 123.9h0M466.5 112.4h0M466.3 136.4h0M460.2 145.9h0M460.0 126.1h0M465.8 120.2h0M458.8 137.2h0M457.5 118.1h0M456.6 129.4h0M460.8 143.9h0M457.3 114.2h0M459.5 138.0h0M463.7 112.3h0M459.4 141.4h0M462.2 136.6h0M457.6 116.3h0M465.3 88.4h0M463.5 143.7h0M466.1 113.2h0M457.0 108.8h0M466.7 98.4h0M465.0 110.6h0M458.0 102.0h0M463.2 128.9h0M465.8 93.6h0M464.8 129.3h0M465.9 124.6h0M461.5 146.5h0M458.8 79.9h0M463.4 106.2h0M459.6 130.6h0M462.7 144.0h0M465.3 125.4h0M458.5 133.8h0M464.4 128.9h0M463.8 105.6h0M462.2 142.0h0M462.5 104.9h0M464.1 123.4h0M457.8 113.2h0M467.0 117.7h0M464.7 100.9h0M463.6 140.0h0M455.3 134.4h0M458.8 141.0h0M465.8 133.4h0M463.9 105.9h0M460.6 144.1h0M463.6 142.4h0M463.3 114.7h0M459.1 116.2h0M463.4 111.6h0M466.6 122.7h0M457.3 84.2h0M464.9 126.9h0M458.4 128.1h0M463.5 133.8h0M456.8 127.5h0M456.2 124.2h0M458.7 86.2h0M462.6 141.7h0M455.7 108.7h0M458.8 132.9h0M462.8 131.8h0M457.7 124.1h0M466.8 103.3h0M464.7 119.7h0M460.7 139.5h0M462.6 99.5h0M465.1 80.3h0M465.5 112.8h0M460.3 144.9h0M459.5 78.1h0M460.4 111.5h0M466.1 119.1h0M458.4 140.7h0M463.1 134.8h0M465.7 126.7h0M467.4 134.7h0M456.5 108.0h0M464.9 126.1h0M457.4 132.8h0M460.5 128.9h0M457.6 112.3h0M460.4 141.7h0M462.6 129.7h0M464.5 122.0h0M458.6 141.1h0M463.6 142.0h0M462.0 146.1h0M465.6 93.9h0M465.9 96.9h0M458.7 110.4h0M456.7 136.8h0M463.3 94.8h0M459.0 81.7h0M465.3 88.8h0M463.3 110.2h0M464.8 134.9h0M464.4 107.3h0M457.7 121.0h0M465.4 122.7h0M463.7 114.6h0M458.3 125.4h0M458.2 102.4h0M462.5 146.4h0M458.8 118.9h0M465.6 76.8h0M456.9 138.4h0M463.0 145.7h0M459.7 117.7h0M467.0 108.1h0M457.4 133.7h0M457.6 106.7h0M458.2 77.6h0M464.0 109.5h0M466.1 106.1h0M465.9 132.9h0M456.3 112.7h0M464.1 143.1h0M464.8 122.6h0M457.9 122.1h0M466.0 131.5h0M463.5 135.1h0M457.9 128.7h0M456.0 104.3h0M461.8 141.0h0M456.9 111.4h0M466.6 114.7h0M458.0 121.0h0M462.7 69.5h0M458.0 97.1h0M462.1 137.7h0M466.3 121.8h0M460.1 136.4h0M463.7 101.2h0M460.7 138.5h0M464.3 110.8h0M463.3 102.7h0M457.1 136.1h0M456.5 95.3h0M463.2 123.0h0M464.8 137.5h0M456.5 95.8h0M457.9 102.1h0M465.0 135.4h0M457.3 97.2h0M459.7 136.7h0M462.4 121.9h0M464.0 138.2h0M457.4 134.3h0M467.1 117.5h0M457.7 88.4h0M456.5 111.9h0M466.1 130.3h0M455.3 135.6h0M459.6 136.6h0M465.1 93.3h0M463.2 101.5h0M458.0 137.5h0M455.8 132.0h0M458.9 124.0h0M456.1 130.4h0M464.5 104.5h0M468.0 129.4h0M465.1 119.3h0M457.9 109.0h0M464.4 113.4h0M467.1 111.4h0M465.2 127.5h0M463.3 133.3h0M459.6 88.9h0M456.4 119.5h0M456.2 101.0h0M457.6 103.7h0M464.2 92.9h0M464.5 113.7h0M459.2 98.4h0M465.6 128.2h0M459.4 144.3h0M455.3 117.4h0M464.2 129.0h0M466.8 127.7h0M457.5 105.1h0M464.7 140.4h0M462.6 135.4h0M464.7 120.2h0M455.4 124.7h0M457.7 140.5h0M463.3 108.4h0M467.0 109.5h0M465.3 117.3h0M463.2 110.7h0M465.1 78.8h0M463.4 122.3h0M456.3 115.3h0M458.3 139.3h0M457.8 101.7h0M457.4 140.5h0M462.0 143.6h0M466.2 130.8h0M458.1 97.2h0M458.5 87.1h0M455.7 134.2h0M458.5 92.9h0M465.6 102.1h0M461.9 146.5h0M457.8 132.4h0M468.2 134.6h0M463.3 141.2h0M463.0 114.2h0M463.0 122.3h0M463.7 99.8h0M459.5 134.7h0M463.8 129.5h0M458.7 118.5h0M459.4 134.2h0M462.7 132.4h0M459.0 117.2h0M455.4 130.2h0M458.1 110.5h0M458.3 127.9h0M462.4 142.6h0M463.4 92.7h0M459.8 118.2h0M455.8 136.1h0M457.8 86.2h0M458.1 122.0h0M455.7 113.7h0M459.6 143.5h0M463.3 105.8h0M467.2 115.9h0M465.9 84.3h0M466.0 138.6h0M465.6 106.5h0M457.5 126.9h0M458.5 142.2h0M457.2 125.3h0M458.3 90.7h0M463.7 125.2h0M462.9 73.6h0M459.7 94.2h0M462.5 145.7h0M462.8 104.6h0M457.7 94.5h0M456.8 127.3h0M462.9 106.3h0M462.9 131.6h0M462.7 122.7h0M458.8 109.6h0M462.2 146.0h0M460.3 100.9h0M459.4 112.0h0M465.9 118.6h0M465.5 140.1h0M455.6 118.6h0M457.7 95.3h0M462.6 110.6h0M463.3 127.1h0M465.2 127.1h0M462.9 138.4h0M457.5 122.4h0M464.8 78.0h0M463.8 142.6h0M464.5 120.0h0M458.9 136.3h0M459.6 122.5h0M462.6 109.7h0M463.9 132.3h0M465.2 83.8h0M465.6 138.3h0M459.7 138.1h0M467.1 117.2h0M456.7 138.7h0M466.1 109.9h0M463.3 104.5h0M464.2 119.4h0M458.1 128.0h0M457.6 74.3h0M459.2 120.5h0M456.7 131.3h0M457.8 96.4h0M465.3 122.6h0M463.8 86.3h0M459.1 129.7h0M457.5 127.7h0M459.2 97.6h0M458.5 132.3h0M459.2 121.8h0M463.1 121.3h0M455.6 124.9h0M458.4 141.4h0M459.0 142.9h0M465.7 127.4h0M464.9 113.2h0M467.5 131.4h0M458.6 113.9h0M465.4 89.7h0M464.9 99.8h0M459.1 106.0h0M465.8 138.9h0M462.3 145.2h0M466.7 117.5h0M458.8 114.6h0M458.3 133.2h0M464.2 129.7h0M464.8 139.3h0M463.1 87.3h0M463.9 99.6h0M465.4 118.6h0M458.2 109.5h0M466.1 132.8h0M455.8 103.4h0M464.1 142.6h0M464.7 134.7h0M457.1 127.2h0M458.2 117.8h0M462.6 145.3h0M461.2 143.8h0M463.3 129.7h0M459.2 104.5h0M462.7 142.5h0M466.1 115.9h0M463.3 119.3h0M458.5 124.6h0M458.3 131.5h0M456.8 129.5h0M458.1 116.1h0M457.4 99.7h0M457.8 104.7h0M457.5 115.7h0M462.9 128.1h0M460.5 138.9h0M459.0 89.9h0M465.7 103.2h0M464.0 118.1h0M466.4 132.4h0M458.9 121.1h0M458.5 109.9h0M455.2 129.0h0M457.4 114.9h0M460.9 143.1h0M465.3 91.5h0M464.0 139.2h0M456.4 105.7h0M459.9 132.8h0M463.7 100.8h0M455.7 113.6h0M466.7 133.5h0M459.4 125.5h0M460.1 82.5h0M456.4 110.9h0M464.9 108.9h0M466.1 111.4h0M465.7 133.3h0M457.8 103.2h0M464.7 104.5h0M459.1 95.4h0M463.6 130.1h0M463.7 84.5h0M457.7 110.7h0M457.2 135.0h0M455.4 134.6h0M467.7 124.3h0M464.3 94.7h0M463.3 91.9h0M455.5 131.6h0M460.0 137.3h0M457.6 109.9h0M462.8 132.2h0M458.7 143.2h0M461.1 143.2h0M460.3 145.9h0M467.6 128.2h0M464.9 138.4h0M462.4 145.2h0M457.9 120.5h0M460.1 125.1h0M467.4 136.0h0M458.0 136.9h0M458.1 117.5h0M465.8 102.8h0M459.4 141.6h0M459.9 116.1h0M465.0 121.7h0M456.8 119.7h0M459.6 103.0h0M459.2 94.7h0M456.5 126.2h0M458.4 130.1h0M465.6 92.5h0M463.8 111.9h0M466.5 129.6h0M465.5 69.5h0M463.9 109.8h0M458.8 122.8h0M465.3 120.4h0M458.5 142.1h0M455.0 126.8h0M463.2 120.8h0M465.2 130.5h0M458.7 130.5h0M458.4 136.8h0M456.5 136.9h0M466.9 122.4h0M463.8 116.5h0M459.3 89.4h0M459.1 102.5h0M463.3 141.3h0M457.9 85.1h0M458.8 114.9h0M455.3 120.7h0M466.0 81.6h0M458.3 136.2h0M465.4 100.1h0M462.0 145.1h0M460.8 144.3h0M463.4 102.4h0M457.5 127.2h0M461.7 146.6h0M465.4 133.5h0M457.0 117.4h0M458.7 138.8h0M457.8 127.5h0M462.6 136.3h0M464.5 103.7h0M458.2 127.2h0M460.3 143.0h0M466.9 135.4h0M465.0 104.5h0M459.2 134.5h0M464.4 111.2h0M460.3 143.1h0M466.0 95.8h0M465.2 107.0h0M465.1 109.4h0M464.3 108.2h0M459.6 133.3h0M467.0 120.7h0M465.9 105.4h0M460.8 145.4h0M458.1 97.1h0M455.2 120.4h0M462.9 118.5h0M464.3 127.5h0M456.3 135.7h0M457.1 126.6h0M458.2 141.1h0M464.9 122.2h0M463.7 113.9h0M455.8 117.6h0M464.5 89.7h0M456.1 118.5h0M459.0 77.2h0M458.7 135.4h0M456.7 89.6h0M457.2 124.9h0M463.9 94.8h0M462.3 138.1h0M463.7 84.7h0M463.9 130.1h0M455.8 127.0h0M457.5 119.6h0M458.4 127.7h0M462.4 145.6h0M464.4 103.7h0M464.5 109.2h0M460.0 109.4h0M460.1 125.4h0M459.3 88.0h0M459.4 109.4h0M465.6 128.1h0M458.7 131.6h0M465.5 120.9h0M466.7 118.8h0M456.4 130.6h0M464.9 90.1h0M464.7 142.1h0M459.1 111.0h0M458.4 128.2h0M459.2 139.0h0M465.2 89.8h0M456.4 138.6h0M459.7 145.0h0M464.4 111.3h0M464.5 130.7h0M466.7 131.1h0M463.4 107.8h0M464.8 98.1h0M460.5 133.7h0M463.4 69.4h0M467.2 125.2h0M456.6 120.1h0M464.5 120.7h0M460.0 134.3h0M463.7 131.5h0M456.7 138.8h0M457.0 107.3h0M457.4 110.0h0M463.5 102.4h0M465.1 122.7h0M460.4 146.6h0M459.4 105.9h0M462.3 146.5h0M459.5 129.4h0M466.0 115.8h0M465.5 91.2h0M459.1 143.0h0M459.3 95.1h0M457.9 120.3h0M459.8 99.4h0M460.3 146.0h0M464.4 96.3h0M457.9 92.8h0M458.8 86.9h0M458.6 124.1h0M465.1 126.3h0M456.4 120.8h0M462.6 125.0h0M458.9 134.0h0M456.2 138.1h0M465.1 121.4h0M458.4 85.8h0M456.4 118.6h0M458.7 135.5h0M463.5 78.3h0M459.1 123.7h0M459.4 126.8h0M461.0 146.7h0M459.5 83.7h0M465.5 110.6h0M458.6 90.5h0M458.9 122.1h0M457.3 109.3h0M463.3 87.7h0M466.1 116.8h0M465.6 138.2h0M457.3 120.3h0M458.0 131.1h0M458.6 128.5h0M457.0 124.5h0M464.4 129.3h0M462.5 145.8h0M460.0 129.5h0M464.3 133.2h0M463.2 95.0h0M456.0 134.3h0M461.7 133.5h0M459.1 115.7h0M459.3 134.1h0M456.4 134.0h0M461.7 140.5h0M458.9 130.8h0M454.9 129.9h0M458.5 87.3h0M459.0 99.7h0M465.7 127.4h0M461.6 142.3h0M465.0 120.4h0M458.5 121.9h0M460.4 146.9h0M465.8 103.4h0M466.0 129.7h0M458.6 89.2h0M459.6 131.0h0M456.8 97.5h0M465.4 117.8h0M463.8 94.5h0M457.0 116.5h0M458.3 116.2h0M459.0 142.9h0M457.9 125.7h0M458.3 115.7h0M464.9 125.7h0M456.6 136.5h0M464.6 121.8h0M457.9 133.3h0M460.4 142.7h0M458.3 113.7h0M457.3 90.8h0M462.3 112.2h0M464.6 138.8h0M465.1 138.1h0M456.7 76.6h0M460.9 145.7h0M460.7 144.9h0M456.7 125.3h0M462.4 144.5h0M463.0 110.4h0M456.8 118.7h0M457.1 117.8h0M462.0 146.1h0M463.5 99.3h0M456.6 137.9h0M459.4 109.4h0M464.3 135.5h0M457.2 97.4h0M459.5 126.1h0M456.5 106.0h0M465.0 136.6h0M458.5 109.5h0M455.5 129.6h0M454.9 134.8h0M464.8 138.4h0M464.1 105.8h0M458.2 120.2h0M467.1 129.9h0M464.2 122.6h0M466.9 130.3h0M464.6 89.8h0M458.8 105.8h0M457.6 108.8h0M464.0 100.7h0M459.4 101.3h0M458.0 102.1h0M463.7 122.2h0M457.4 107.9h0M465.2 96.3h0M459.9 118.5h0M459.4 127.7h0M464.7 139.6h0M458.0 105.2h0M465.0 96.4h0M458.0 88.2h0M463.3 107.1h0M463.3 145.1h0M459.4 126.8h0M463.7 122.5h0M458.8 142.1h0M456.6 115.1h0M463.2 136.0h0M466.2 132.3h0M460.2 135.3h0M460.7 142.5h0M464.0 114.8h0M463.2 132.5h0M464.5 140.7h0M457.6 112.5h0M466.3 91.2h0M455.2 135.0h0M459.2 101.4h0M464.9 128.1h0M465.0 134.5h0M459.1 141.6h0M466.0 135.3h0M458.7 119.6h0M462.8 145.3h0M467.1 134.2h0M464.2 132.9h0M463.8 143.7h0M462.6 122.5h0M458.3 112.2h0M457.4 72.4h0M465.2 131.7h0M464.1 129.3h0M466.0 96.9h0M456.2 132.5h0M459.2 82.5h0M457.6 119.7h0M457.3 133.9h0M465.0 128.5h0M463.6 80.3h0M465.2 95.2h0M463.7 81.9h0M460.5 79.0h0M462.5 126.2h0M457.4 129.1h0M463.0 114.3h0M457.9 82.5h0M462.3 109.3h0M464.1 91.1h0M457.0 127.1h0M466.0 119.4h0M458.5 73.7h0M466.5 134.4h0M460.1 131.6h0M463.5 120.7h0M466.4 134.5h0M458.1 118.1h0M458.4 137.2h0M458.9 136.7h0M458.3 75.5h0M465.1 136.4h0M466.8 126.3h0M459.1 101.0h0M459.0 108.0h0M462.5 145.7h0M463.6 101.1h0M457.7 129.4h0M464.5 133.9h0M463.4 123.4h0M465.8 120.5h0M458.2 108.6h0M460.2 105.9h0M457.8 126.8h0M467.5 127.7h0M458.8 82.2h0M464.1 143.3h0M463.0 117.1h0M460.2 111.7h0M461.8 143.7h0M458.4 112.1h0M465.8 107.8h0M466.1 110.6h0M464.3 97.6h0M462.4 88.7h0M463.5 95.8h0M456.4 110.6h0M456.5 138.0h0M463.8 99.4h0M458.8 110.3h0M466.0 119.3h0M459.9 139.6h0M464.9 128.0h0M455.9 125.4h0M460.9 144.1h0M464.6 104.3h0M463.9 143.2h0M462.6 137.2h0M467.0 103.4h0M464.5 110.9h0M467.4 134.6h0M464.8 123.8h0M457.4 110.3h0M458.6 127.6h0M456.3 123.1h0M463.5 122.8h0M461.8 142.2h0M464.9 140.0h0M463.3 105.8h0M458.1 136.8h0M468.1 134.3h0M459.7 81.2h0M463.5 127.4h0M459.3 95.6h0M457.5 111.4h0M459.8 143.8h0M465.3 130.8h0M464.5 95.5h0M456.9 126.9h0M456.0 135.4h0M462.7 104.2h0M465.9 127.5h0M455.6 136.9h0M463.5 90.4h0M465.1 134.4h0M458.3 138.6h0M456.4 133.4h0M462.7 104.5h0M464.3 115.8h0M457.1 110.3h0M459.1 101.5h0M467.5 133.8h0M462.1 140.0h0M457.9 124.3h0M463.3 140.1h0M460.0 118.7h0M457.1 138.2h0M462.4 134.7h0M463.0 126.2h0M456.3 129.5h0M456.8 76.9h0M462.8 96.8h0M458.2 123.6h0M458.8 134.1h0M457.1 111.0h0M466.9 130.3h0M463.8 128.5h0M454.1 133.6h0M459.1 124.9h0M465.8 79.4h0M458.3 103.3h0M465.5 101.9h0M460.4 146.3h0M465.0 131.8h0M463.4 120.8h0M458.6 143.1h0M454.9 134.6h0M465.3 91.0h0M466.2 132.4h0M457.6 138.0h0M461.6 134.5h0M464.3 140.5h0M466.9 128.8h0M463.7 143.1h0M466.5 128.5h0M458.6 130.5h0M467.2 122.1h0M455.8 101.6h0M458.9 132.2h0M457.9 140.7h0M456.6 96.6h0M459.4 138.9h0M465.1 125.5h0M459.6 122.1h0M460.7 141.5h0M458.7 116.3h0M464.3 136.3h0M463.5 124.1h0M466.4 97.7h0M465.1 125.2h0M457.5 114.7h0M456.1 130.6h0M457.9 97.7h0M458.2 92.2h0M462.6 140.0h0M465.3 119.6h0M458.8 132.3h0M457.8 108.2h0M457.1 95.9h0M457.6 128.5h0M463.2 105.7h0M464.4 132.8h0M455.6 135.4h0M456.9 91.8h0M457.6 92.9h0M465.4 116.0h0M464.2 77.9h0M455.8 136.5h0M464.1 141.3h0M464.8 138.3h0M458.5 136.0h0M456.9 132.1h0M466.6 121.9h0M461.7 139.8h0M457.7 123.4h0M456.6 102.0h0M459.9 97.4h0M459.2 143.4h0M457.3 118.6h0M463.1 141.9h0M463.4 86.6h0M457.5 95.6h0M466.4 102.4h0M462.8 84.8h0M465.1 105.6h0M463.2 138.1h0M457.5 88.0h0M466.2 135.8h0M461.1 139.0h0M464.8 108.3h0M463.4 101.7h0M456.1 131.4h0M458.1 139.1h0M459.1 136.5h0M458.9 138.1h0M464.4 100.7h0M456.5 113.7h0M465.8 93.0h0M467.8 131.0h0M466.5 127.0h0M459.1 115.3h0M458.3 139.0h0M457.4 86.1h0M459.2 144.1h0M459.0 140.3h0M460.4 144.8h0M461.7 142.9h0M457.0 119.5h0M466.7 113.7h0M457.8 113.0h0M456.5 104.8h0M467.1 124.4h0M459.4 129.2h0M464.9 138.0h0M467.4 128.2h0M463.0 132.7h0M463.7 128.7h0M456.6 115.1h0M464.1 80.7h0M462.7 146.4h0M463.2 88.8h0M466.3 114.6h0M465.4 140.6h0M466.8 123.4h0M456.2 92.4h0M465.4 128.1h0M463.6 86.2h0M457.4 103.5h0M457.9 88.4h0M456.1 127.2h0M458.4 127.0h0M464.5 107.4h0M458.2 119.8h0M465.5 103.0h0M456.2 113.9h0M466.6 136.2h0M458.3 132.0h0M460.4 101.5h0M462.5 101.8h0M461.0 141.1h0M465.3 132.7h0M463.3 91.3h0M464.5 116.9h0M467.8 121.6h0M465.0 107.2h0M457.1 124.2h0M456.3 117.8h0M465.2 129.2h0M462.3 103.3h0M463.9 135.2h0M458.6 139.1h0M462.1 145.2h0M465.7 126.9h0M456.5 89.6h0M462.4 120.4h0M465.2 140.1h0M459.6 135.3h0M460.0 124.8h0M456.3 112.8h0M466.9 103.0h0M456.2 108.7h0M457.6 114.5h0M459.8 144.4h0M458.2 113.9h0M456.6 135.0h0M459.0 137.9h0M460.2 142.6h0M462.6 144.2h0M456.5 131.3h0M462.8 119.1h0M463.7 123.6h0M462.6 139.6h0M463.9 112.1h0M456.1 127.8h0M464.7 76.3h0M464.8 117.0h0M463.4 140.6h0M459.1 96.0h0M460.4 138.2h0M466.8 115.4h0M468.4 134.5h0M464.0 105.3h0M459.3 102.5h0M463.0 89.0h0M459.6 140.1h0M457.4 107.7h0M464.0 120.9h0M463.3 142.4h0M463.4 88.7h0M462.9 145.1h0M462.0 146.6h0M458.4 108.8h0M459.9 94.0h0M466.3 129.3h0M459.1 134.9h0M467.2 115.6h0M467.1 109.2h0M456.9 105.7h0M462.8 127.3h0M465.3 139.8h0M458.0 119.7h0M464.0 116.3h0M460.0 117.3h0M466.3 125.8h0M464.2 112.6h0M466.5 85.2h0M460.0 126.8h0M457.9 108.6h0M464.4 122.0h0M456.1 115.9h0M455.1 130.2h0M458.6 70.3h0M457.9 113.8h0M463.3 103.4h0M463.2 142.2h0M456.2 110.8h0M460.9 140.3h0M463.4 142.5h0M458.5 141.0h0M464.0 78.9h0M458.6 106.0h0M463.0 135.5h0M456.8 87.3h0M455.3 134.8h0M455.6 132.5h0M458.1 105.3h0M457.4 122.4h0M455.9 132.2h0M457.2 111.8h0M467.8 131.6h0M462.7 109.8h0M456.8 106.8h0M465.3 119.6h0M455.3 117.3h0M465.3 129.5h0M461.1 135.9h0M467.7 127.7h0M455.5 135.8h0M461.1 146.7h0M459.3 124.5h0M462.7 135.1h0M465.2 113.9h0M462.5 131.4h0M456.9 104.2h0M465.5 134.5h0M465.4 118.0h0M459.8 99.0h0M456.8 133.0h0M458.3 128.6h0M457.8 138.0h0M460.5 101.4h0M462.0 137.3h0M464.7 114.5h0M465.1 135.2h0M456.1 105.6h0M456.9 95.0h0M464.2 101.1h0M466.3 89.6h0M461.0 139.7h0M463.0 143.7h0M458.7 140.5h0M463.5 141.9h0M463.1 87.0h0M459.4 99.5h0M458.9 141.7h0M467.2 129.1h0M460.1 145.7h0M465.6 92.2h0M463.6 133.3h0M456.4 121.1h0M457.1 138.5h0M463.8 93.2h0M460.4 128.9h0M460.1 106.6h0M458.7 139.7h0M459.5 74.6h0M460.3 108.8h0M458.0 116.2h0M455.5 121.2h0M465.8 92.1h0M460.2 128.5h0M462.8 122.1h0M458.7 113.8h0M459.2 121.1h0M460.0 106.0h0M457.4 106.8h0M457.8 118.7h0M456.2 114.2h0M463.4 133.4h0M459.3 144.2h0M462.5 145.5h0M458.2 102.1h0M459.0 141.9h0M461.9 142.0h0M460.0 143.1h0M464.5 128.7h0M467.0 127.9h0M458.0 120.6h0M459.1 97.8h0M456.4 129.8h0M457.8 95.3h0M460.5 139.5h0M457.2 133.7h0M458.6 119.7h0M458.6 116.8h0M464.1 140.1h0M459.3 131.2h0M460.5 138.1h0M458.5 114.5h0M457.2 123.8h0M458.9 110.8h0M458.9 118.1h0M455.9 104.2h0M464.7 79.9h0M465.6 119.8h0M466.1 121.9h0M456.7 82.2h0M456.7 125.7h0M466.8 112.3h0M466.3 89.1h0M456.7 131.6h0M459.2 108.2h0M459.9 91.7h0M464.6 116.9h0M462.1 144.0h0M462.0 145.2h0M465.4 120.8h0M462.9 115.7h0M457.4 114.9h0M465.1 93.3h0M457.6 93.0h0M464.8 128.9h0M459.3 143.7h0M466.3 110.0h0M456.1 137.5h0M459.5 144.5h0M464.2 84.2h0M462.9 141.4h0M462.9 132.7h0M463.9 125.0h0M459.5 144.4h0M464.7 125.8h0M459.9 98.2h0M457.4 95.2h0M465.6 88.1h0M462.0 104.1h0M462.8 70.1h0M467.7 100.9h0M465.5 100.9h0M458.8 92.2h0M463.6 91.2h0M458.5 99.9h0M456.4 96.5h0M469.3 101.0h0M463.1 89.1h0M464.2 83.0h0M464.0 107.4h0M459.7 87.8h0M466.7 76.5h0M458.0 79.4h0M462.2 92.1h0M455.2 85.8h0M463.9 93.6h0M465.0 94.8h0M455.6 65.3h0M467.1 108.2h0M464.4 99.3h0M469.0 99.3h0M453.6 90.4h0M457.2 97.1h0M461.9 90.8h0M453.5 100.5h0M464.9 78.6h0M456.8 86.5h0M459.5 73.2h0M460.1 81.1h0M465.9 84.5h0M469.6 106.5h0M467.5 67.9h0M458.0 88.3h0M458.6 102.7h0M457.7 104.7h0M456.7 101.9h0M467.9 88.2h0M455.1 107.1h0M453.7 90.0h0M457.1 77.5h0M454.6 93.3h0M458.9 89.7h0M467.7 93.1h0M463.7 102.6h0M460.6 72.1h0M466.3 77.1h0M456.4 95.9h0M457.4 102.0h0M466.4 82.5h0M462.5 73.6h0M455.6 73.5h0M467.3 98.1h0M462.1 67.1h0M464.7 94.6h0M453.3 91.5h0M468.9 85.7h0M465.8 102.1h0M463.0 96.3h0M457.6 109.8h0M455.4 86.2h0M462.5 65.7h0M465.8 101.4h0M458.0 74.6h0M464.6 100.2h0M459.7 93.2h0M464.6 110.8h0M467.9 88.1h0M456.2 81.1h0M454.9 93.0h0M465.3 88.8h0M469.6 78.0h0M465.1 88.1h0M460.2 87.5h0M453.9 100.1h0M455.6 63.8h0M469.4 109.2h0M466.3 97.2h0M464.2 90.4h0M455.3 96.4h0M465.9 93.5h0M456.2 94.6h0M466.3 93.3h0M454.7 86.8h0M454.8 101.3h0M455.7 68.2h0M460.5 86.0h0M466.8 103.5h0M458.4 84.8h0M455.2 76.0h0M464.5 79.6h0M454.5 86.6h0M453.6 107.2h0M462.7 70.8h0M463.9 108.7h0M458.7 106.8h0M466.0 83.6h0M467.6 102.3h0M460.5 67.5h0M467.1 70.5h0M463.9 81.2h0M465.4 112.1h0M466.2 104.9h0M458.5 96.4h0M468.4 103.1h0M464.1 94.0h0M468.4 88.8h0M467.3 91.2h0M460.2 98.3h0M463.1 82.8h0M462.1 66.0h0M462.9 79.2h0M469.5 82.0h0M469.7 104.8h0M454.5 93.8h0M458.7 87.3h0M464.6 87.6h0M453.3 77.5h0M463.0 68.2h0M469.3 78.8h0M457.5 67.1h0M459.2 87.3h0M454.3 102.6h0M462.8 92.9h0M464.9 87.1h0M453.1 80.9h0M468.4 93.6h0M453.1 94.8h0M459.1 88.5h0M453.9 95.0h0M462.7 94.0h0M469.1 68.5h0M465.5 107.2h0M457.5 65.0h0M466.4 89.0h0M458.4 75.5h0M467.2 87.5h0M465.6 94.1h0M459.8 101.0h0M467.0 78.4h0M456.7 87.0h0M456.3 77.5h0M468.8 102.6h0M457.2 90.6h0M453.2 102.8h0M463.8 102.8h0M453.1 63.2h0M462.3 68.3h0M466.8 101.0h0M460.6 84.2h0M462.5 104.9h0M458.4 93.1h0M462.1 96.8h0M458.9 73.6h0M455.3 90.8h0M454.6 71.5h0M454.8 73.3h0M457.9 85.9h0M456.8 109.4h0M460.9 84.7h0M458.2 74.8h0M456.2 96.1h0M467.7 82.8h0M453.3 102.5h0M464.7 89.2h0M463.4 68.0h0M463.5 70.3h0M456.4 81.7h0M465.2 101.0h0M457.2 85.5h0M460.4 112.4h0M456.1 83.4h0M455.7 77.0h0M469.4 80.5h0M466.5 74.1h0M465.7 76.2h0" stroke="#a4a2b4" stroke-width="1.15" stroke-linecap="round" fill="none"/>
<line x1="482.30" y1="78.20" x2="495.20" y2="78.20" stroke="#808080" stroke-width="0.9"/>
<text x="495.60" y="80.90" font-size="7.2" fill="#3a3a3a">Cd36</text>
<text x="472.80" y="147.00" font-size="7.3" fill="#3a3a3a">Σ = 3124</text>
<rect x="19.2" y="214.6" width="45.80" height="5.3" fill="#15684d"/>
<rect x="65.0" y="214.6" width="44.60" height="5.3" fill="#a6a4ae"/>
<rect x="109.6" y="214.6" width="46.70" height="5.3" fill="#3aaa36"/>
<style>.hm rect{width:11.49px;height:1.057px}</style>
<g class="hm" shape-rendering="crispEdges" style="filter:blur(0.3px)">
<g transform="translate(19.20,0)">
<rect y="223.2" fill="#f9d3d4"/><rect y="224.2" fill="#f4a6a9"/><rect y="225.2" fill="#e8484f"/><rect y="226.2" fill="#ee7c81"/><rect y="227.2" fill="#f19498"/><rect y="228.2" fill="#ed7478"/><rect y="229.2" fill="#f3a1a5"/><rect y="230.2" fill="#f19195"/><rect y="231.2" fill="#ec6d72"/><rect y="232.2" fill="#ed7277"/><rect y="233.2" fill="#f29da0"/><rect y="234.2" fill="#f2969a"/><rect y="235.2" fill="#ef8489"/><rect y="236.2" fill="#f7c2c4"/><rect y="237.2" fill="#f18e92"/><rect y="238.2" fill="#f29b9e"/><rect y="239.2" fill="#eb6167"/><rect y="240.2" fill="#eb6268"/><rect y="241.2" fill="#ee777c"/><rect y="242.1" fill="#f39ea2"/><rect y="243.1" fill="#f19094"/><rect y="244.1" fill="#f0868a"/><rect y="245.1" fill="#f4adb0"/><rect y="246.1" fill="#f29699"/><rect y="247.1" fill="#f08c90"/><rect y="248.1" fill="#f08c91"/><rect y="249.1" fill="#f29599"/><rect y="250.1" fill="#eb6369"/><rect y="251.1" fill="#f19598"/><rect y="252.1" fill="#f3a4a7"/><rect y="253.1" fill="#ee7d81"/><rect y="254.1" fill="#f0868b"/><rect y="255.1" fill="#f6b6b8"/><rect y="256.1" fill="#f19094"/><rect y="257.1" fill="#f0898d"/><rect y="258.1" fill="#ed7277"/><rect y="259.1" fill="#f29da0"/><rect y="260.1" fill="#ef8084"/><rect y="261.1" fill="#ef8085"/><rect y="262.1" fill="#ec686d"/><rect y="263.1" fill="#f29a9d"/><rect y="264.1" fill="#f19498"/><rect y="265.1" fill="#f5b3b6"/><rect y="266.1" fill="#f29ca0"/><rect y="267.1" fill="#f4a6aa"/><rect y="268.1" fill="#ec6b71"/><rect y="269.1" fill="#f6b7ba"/><rect y="270.1" fill="#f3a1a5"/><rect y="271.1" fill="#f3a3a6"/><rect y="272.1" fill="#f08d91"/><rect y="273.1" fill="#f0868a"/><rect y="274.1" fill="#eb5f65"/><rect y="275.1" fill="#f3a2a5"/><rect y="276.1" fill="#f6b8bb"/><rect y="277.1" fill="#f08b8f"/><rect y="278.1" fill="#f39fa2"/><rect y="279.1" fill="#f29699"/><rect y="280.0" fill="#ef8589"/><rect y="281.0" fill="#f8ccce"/><rect y="282.0" fill="#ef8489"/><rect y="283.0" fill="#ed757a"/><rect y="284.0" fill="#f2979b"/><rect y="285.0" fill="#f4abae"/><rect y="286.0" fill="#ee7d81"/><rect y="287.0" fill="#f3a4a7"/><rect y="288.0" fill="#ef8286"/><rect y="289.0" fill="#ee7a7f"/><rect y="290.0" fill="#f3a1a4"/><rect y="291.0" fill="#f08d91"/><rect y="292.0" fill="#f19094"/><rect y="293.0" fill="#f5afb1"/><rect y="294.0" fill="#f39ea2"/><rect y="295.0" fill="#f2969a"/><rect y="296.0" fill="#ef8488"/><rect y="297.0" fill="#ec686d"/><rect y="298.0" fill="#f19497"/><rect y="299.0" fill="#f19296"/><rect y="300.0" fill="#eb6167"/><rect y="301.0" fill="#ee797e"/><rect y="302.0" fill="#ed767b"/><rect y="303.0" fill="#f29ca0"/><rect y="304.0" fill="#f5adb0"/><rect y="305.0" fill="#f08d91"/><rect y="306.0" fill="#f0868a"/><rect y="307.0" fill="#f19195"/><rect y="308.0" fill="#f3a0a4"/><rect y="309.0" fill="#f08c90"/><rect y="310.0" fill="#ef8488"/><rect y="311.0" fill="#ed7378"/><rect y="312.0" fill="#f39ea1"/><rect y="313.0" fill="#f3a4a7"/><rect y="314.0" fill="#f0868b"/><rect y="315.0" fill="#f3a0a3"/><rect y="316.0" fill="#f08b8f"/><rect y="316.9" fill="#f19296"/><rect y="317.9" fill="#ef8287"/><rect y="318.9" fill="#f08a8e"/><rect y="319.9" fill="#f08d91"/><rect y="320.9" fill="#ea595f"/><rect y="321.9" fill="#f3a0a3"/><rect y="322.9" fill="#ec6c71"/><rect y="323.9" fill="#f6babd"/><rect y="324.9" fill="#f39fa2"/><rect y="325.9" fill="#f6bcbe"/><rect y="326.9" fill="#f29699"/><rect y="327.9" fill="#f08a8e"/><rect y="328.9" fill="#f5b2b5"/><rect y="329.9" fill="#ec696e"/><rect y="330.9" fill="#f19497"/><rect y="331.9" fill="#f9cfd1"/><rect y="332.9" fill="#f8cacc"/><rect y="333.9" fill="#f2989c"/><rect y="334.9" fill="#f4a9ac"/><rect y="335.9" fill="#ef7e82"/><rect y="336.9" fill="#ee7c80"/><rect y="337.9" fill="#f39ea1"/><rect y="338.9" fill="#f08a8e"/><rect y="339.9" fill="#f18e92"/><rect y="340.9" fill="#f39fa2"/><rect y="341.9" fill="#f3a2a5"/><rect y="342.9" fill="#f3a1a4"/><rect y="343.9" fill="#f5aeb1"/><rect y="344.9" fill="#ed6f74"/><rect y="345.9" fill="#f8c8ca"/><rect y="346.9" fill="#f8c5c7"/><rect y="347.9" fill="#ee7c81"/><rect y="348.9" fill="#f6babc"/><rect y="349.9" fill="#f4a9ac"/><rect y="350.9" fill="#f3a1a4"/><rect y="351.9" fill="#f18f93"/><rect y="352.9" fill="#f6b9bb"/><rect y="353.9" fill="#f7c4c6"/><rect y="354.8" fill="#f7bec0"/><rect y="355.8" fill="#ee7d81"/><rect y="356.8" fill="#f8cbcd"/><rect y="357.8" fill="#f6bcbe"/><rect y="358.8" fill="#f3a2a5"/><rect y="359.8" fill="#f4abae"/><rect y="360.8" fill="#f3a3a6"/><rect y="361.8" fill="#f6babc"/><rect y="362.8" fill="#f3a1a4"/><rect y="363.8" fill="#ea595f"/><rect y="364.8" fill="#f0878c"/><rect y="365.8" fill="#f08b90"/><rect y="366.8" fill="#f4acaf"/><rect y="367.8" fill="#f3a5a8"/><rect y="368.8" fill="#f9ced0"/><rect y="369.8" fill="#f39fa2"/><rect y="370.8" fill="#f2989b"/><rect y="371.8" fill="#f5b3b5"/><rect y="372.8" fill="#f7bfc2"/><rect y="373.8" fill="#f5b0b2"/><rect y="374.8" fill="#f6bcbe"/><rect y="375.8" fill="#f19498"/><rect y="376.8" fill="#f4adb0"/><rect y="377.8" fill="#f8c7c9"/><rect y="378.8" fill="#f2999d"/><rect y="379.8" fill="#f6bbbd"/><rect y="380.8" fill="#f4a9ac"/><rect y="381.8" fill="#f29ca0"/><rect y="382.8" fill="#f19195"/><rect y="383.8" fill="#f2989c"/><rect y="384.8" fill="#f5adb0"/><rect y="385.8" fill="#f29a9e"/><rect y="386.8" fill="#f6b9bb"/><rect y="387.8" fill="#f5b2b4"/><rect y="388.8" fill="#f29b9f"/><rect y="389.8" fill="#f7c3c5"/><rect y="390.8" fill="#fad8d9"/><rect y="391.7" fill="#f4abae"/><rect y="392.7" fill="#f7bfc1"/><rect y="393.7" fill="#f6b7ba"/><rect y="394.7" fill="#f8c6c8"/><rect y="395.7" fill="#f8cccd"/><rect y="396.7" fill="#f29a9e"/><rect y="397.7" fill="#f6babc"/><rect y="398.7" fill="#f7bdbf"/><rect y="399.7" fill="#ef8287"/><rect y="400.7" fill="#f5b1b4"/><rect y="401.7" fill="#f19195"/><rect y="402.7" fill="#f4aaad"/><rect y="403.7" fill="#f4aaad"/><rect y="404.7" fill="#f7bfc1"/><rect y="405.7" fill="#f5b0b3"/><rect y="406.7" fill="#f4abae"/><rect y="407.7" fill="#f4abae"/><rect y="408.7" fill="#f7bec0"/><rect y="409.7" fill="#f5adb0"/><rect y="410.7" fill="#f5b2b5"/><rect y="411.7" fill="#f9d0d2"/><rect y="412.7" fill="#f8cbcd"/><rect y="413.7" fill="#f6b6b9"/><rect y="414.7" fill="#f3a5a8"/><rect y="415.7" fill="#f6b9bc"/><rect y="416.7" fill="#f6b5b8"/><rect y="417.7" fill="#f3a0a4"/><rect y="418.7" fill="#f2969a"/><rect y="419.7" fill="#f6babc"/><rect y="420.7" fill="#fbe2e3"/><rect y="421.7" fill="#dfe1f0"/><rect y="422.7" fill="#8086c4"/><rect y="423.7" fill="#787ec0"/><rect y="424.7" fill="#8a90c8"/><rect y="425.7" fill="#9ba0d0"/><rect y="426.7" fill="#a7acd6"/><rect y="427.7" fill="#a7acd6"/><rect y="428.7" fill="#8188c4"/><rect y="429.6" fill="#7d84c2"/><rect y="430.6" fill="#9da2d1"/><rect y="431.6" fill="#868cc6"/><rect y="432.6" fill="#acb0d8"/><rect y="433.6" fill="#9a9fd0"/><rect y="434.6" fill="#8b91c9"/><rect y="435.6" fill="#a3a7d4"/><rect y="436.6" fill="#acb0d8"/><rect y="437.6" fill="#c2c5e2"/><rect y="438.6" fill="#9fa4d2"/><rect y="439.6" fill="#8f95cb"/><rect y="440.6" fill="#afb3d9"/><rect y="441.6" fill="#b4b7dc"/><rect y="442.6" fill="#767dbf"/><rect y="443.6" fill="#c7cae5"/><rect y="444.6" fill="#6970b9"/><rect y="445.6" fill="#878dc7"/><rect y="446.6" fill="#c6c8e4"/><rect y="447.6" fill="#a7abd6"/><rect y="448.6" fill="#969bce"/><rect y="449.6" fill="#c5c8e4"/><rect y="450.6" fill="#646cb7"/><rect y="451.6" fill="#969cce"/><rect y="452.6" fill="#b5b9dc"/><rect y="453.6" fill="#c2c5e2"/><rect y="454.6" fill="#898fc8"/><rect y="455.6" fill="#757cbf"/><rect y="456.6" fill="#b0b4da"/><rect y="457.6" fill="#9a9fd0"/><rect y="458.6" fill="#d8daed"/><rect y="459.6" fill="#a3a8d4"/><rect y="460.6" fill="#b6badd"/><rect y="461.6" fill="#d3d6eb"/><rect y="462.6" fill="#9399cd"/><rect y="463.6" fill="#b5b8dc"/><rect y="464.6" fill="#c7cae5"/><rect y="465.6" fill="#b4b7dc"/><rect y="466.5" fill="#cccee7"/><rect y="467.5" fill="#b0b4da"/><rect y="468.5" fill="#b5b9dd"/><rect y="469.5" fill="#cacce6"/><rect y="470.5" fill="#b8bcde"/><rect y="471.5" fill="#a3a7d4"/><rect y="472.5" fill="#bbbfdf"/><rect y="473.5" fill="#cfd1e8"/><rect y="474.5" fill="#c1c4e2"/><rect y="475.5" fill="#e9eaf5"/><rect y="476.5" fill="#ebecf6"/><rect y="477.5" fill="#dbddee"/><rect y="478.5" fill="#c2c5e2"/><rect y="479.5" fill="#dcdeef"/><rect y="480.5" fill="#b3b7dc"/><rect y="481.5" fill="#ced0e8"/><rect y="482.5" fill="#cdd0e8"/><rect y="483.5" fill="#c0c3e2"/><rect y="484.5" fill="#c3c6e3"/><rect y="485.5" fill="#ebecf6"/><rect y="486.5" fill="#f6f6fb"/><rect y="487.5" fill="#cfd1e9"/><rect y="488.5" fill="#b8bcde"/><rect y="489.5" fill="#aaaed7"/><rect y="490.5" fill="#d6d9ec"/><rect y="491.5" fill="#cacde6"/><rect y="492.5" fill="#d2d4ea"/><rect y="493.5" fill="#b8bcde"/><rect y="494.5" fill="#d0d3e9"/><rect y="495.5" fill="#bec1e0"/><rect y="496.5" fill="#fce9ea"/><rect y="497.5" fill="#fffdfd"/><rect y="498.5" fill="#eeeff7"/><rect y="499.5" fill="#f8f9fc"/><rect y="500.5" fill="#d3d5ea"/><rect y="501.5" fill="#edeef6"/><rect y="502.5" fill="#d0d3e9"/><rect y="503.5" fill="#fffdfd"/><rect y="504.4" fill="#e3e4f2"/><rect y="505.4" fill="#fad6d8"/><rect y="506.4" fill="#f7f7fb"/><rect y="507.4" fill="#f0f1f8"/><rect y="508.4" fill="#eeeff7"/><rect y="509.4" fill="#dcdeef"/><rect y="510.4" fill="#fdeeef"/><rect y="511.4" fill="#e6e8f4"/><rect y="512.4" fill="#f7f7fb"/><rect y="513.4" fill="#e7e8f4"/><rect y="514.4" fill="#f2f2f9"/><rect y="515.4" fill="#fefeff"/><rect y="516.4" fill="#e6e7f3"/><rect y="517.4" fill="#fffefe"/><rect y="518.4" fill="#fefafa"/><rect y="519.4" fill="#fcebec"/><rect y="520.4" fill="#f5f6fa"/><rect y="521.4" fill="#e1e3f1"/>
</g>
<g transform="translate(30.62,0)">
<rect y="223.2" fill="#f08a8e"/><rect y="224.2" fill="#ea575d"/><rect y="225.2" fill="#e95359"/><rect y="226.2" fill="#eb656b"/><rect y="227.2" fill="#ee787d"/><rect y="228.2" fill="#e84c52"/><rect y="229.2" fill="#ee777c"/><rect y="230.2" fill="#ee787d"/><rect y="231.2" fill="#e5363d"/><rect y="232.2" fill="#e63b42"/><rect y="233.2" fill="#ef7e83"/><rect y="234.2" fill="#e95056"/><rect y="235.2" fill="#ea5b61"/><rect y="236.2" fill="#ee7d82"/><rect y="237.2" fill="#ed7479"/><rect y="238.2" fill="#ec676c"/><rect y="239.2" fill="#e42e35"/><rect y="240.2" fill="#ea5c62"/><rect y="241.2" fill="#e84b51"/><rect y="242.1" fill="#ee767b"/><rect y="243.1" fill="#ef8489"/><rect y="244.1" fill="#ec676d"/><rect y="245.1" fill="#ee777c"/><rect y="246.1" fill="#ee787d"/><rect y="247.1" fill="#eb656b"/><rect y="248.1" fill="#ea5d63"/><rect y="249.1" fill="#eb666c"/><rect y="250.1" fill="#e63d44"/><rect y="251.1" fill="#ec676c"/><rect y="252.1" fill="#ed767b"/><rect y="253.1" fill="#e9555b"/><rect y="254.1" fill="#e5353c"/><rect y="255.1" fill="#f39ea2"/><rect y="256.1" fill="#eb6065"/><rect y="257.1" fill="#eb6167"/><rect y="258.1" fill="#eb5f65"/><rect y="259.1" fill="#eb6066"/><rect y="260.1" fill="#ea575d"/><rect y="261.1" fill="#ed7176"/><rect y="262.1" fill="#e94f55"/><rect y="263.1" fill="#eb6268"/><rect y="264.1" fill="#f08c90"/><rect y="265.1" fill="#f19094"/><rect y="266.1" fill="#f0878b"/><rect y="267.1" fill="#f18f93"/><rect y="268.1" fill="#e84c52"/><rect y="269.1" fill="#ee777c"/><rect y="270.1" fill="#ef8489"/><rect y="271.1" fill="#ec6a6f"/><rect y="272.1" fill="#f0888c"/><rect y="273.1" fill="#e95056"/><rect y="274.1" fill="#e3222a"/><rect y="275.1" fill="#e7444b"/><rect y="276.1" fill="#ef8488"/><rect y="277.1" fill="#eb646a"/><rect y="278.1" fill="#eb6166"/><rect y="279.1" fill="#e95359"/><rect y="280.0" fill="#e9555b"/><rect y="281.0" fill="#f4abad"/><rect y="282.0" fill="#ea5c61"/><rect y="283.0" fill="#eb656a"/><rect y="284.0" fill="#ec6e73"/><rect y="285.0" fill="#f18f93"/><rect y="286.0" fill="#e63a41"/><rect y="287.0" fill="#f08c90"/><rect y="288.0" fill="#e63c42"/><rect y="289.0" fill="#e95359"/><rect y="290.0" fill="#ef7e83"/><rect y="291.0" fill="#ea575d"/><rect y="292.0" fill="#e84b52"/><rect y="293.0" fill="#ef8185"/><rect y="294.0" fill="#ef8185"/><rect y="295.0" fill="#ed7176"/><rect y="296.0" fill="#e95359"/><rect y="297.0" fill="#eb6369"/><rect y="298.0" fill="#ee7c81"/><rect y="299.0" fill="#e42d34"/><rect y="300.0" fill="#e7434a"/><rect y="301.0" fill="#e84e54"/><rect y="302.0" fill="#ea595f"/><rect y="303.0" fill="#ea5d63"/><rect y="304.0" fill="#ed7378"/><rect y="305.0" fill="#ec696e"/><rect y="306.0" fill="#ed7378"/><rect y="307.0" fill="#e94f55"/><rect y="308.0" fill="#f3a0a3"/><rect y="309.0" fill="#ec696f"/><rect y="310.0" fill="#ec696f"/><rect y="311.0" fill="#e95359"/><rect y="312.0" fill="#e84f55"/><rect y="313.0" fill="#ee7e82"/><rect y="314.0" fill="#e84e55"/><rect y="315.0" fill="#ed7075"/><rect y="316.0" fill="#ea5c62"/><rect y="316.9" fill="#eb6469"/><rect y="317.9" fill="#e5353c"/><rect y="318.9" fill="#ea5a60"/><rect y="319.9" fill="#ed7075"/><rect y="320.9" fill="#e5363d"/><rect y="321.9" fill="#ed7075"/><rect y="322.9" fill="#e84d54"/><rect y="323.9" fill="#ef7e83"/><rect y="324.9" fill="#ec686e"/><rect y="325.9" fill="#ee7c81"/><rect y="326.9" fill="#ed7277"/><rect y="327.9" fill="#ec676c"/><rect y="328.9" fill="#ef8589"/><rect y="329.9" fill="#ea5a60"/><rect y="330.9" fill="#ef7f84"/><rect y="331.9" fill="#f3a2a6"/><rect y="332.9" fill="#f19296"/><rect y="333.9" fill="#e84e54"/><rect y="334.9" fill="#eb646a"/><rect y="335.9" fill="#eb6469"/><rect y="336.9" fill="#e95157"/><rect y="337.9" fill="#eb656a"/><rect y="338.9" fill="#eb666b"/><rect y="339.9" fill="#ee777b"/><rect y="340.9" fill="#ee7a7f"/><rect y="341.9" fill="#ee7c80"/><rect y="342.9" fill="#ed7075"/><rect y="343.9" fill="#ef8388"/><rect y="344.9" fill="#ea5e64"/><rect y="345.9" fill="#f6b7b9"/><rect y="346.9" fill="#ef8287"/><rect y="347.9" fill="#ea5c62"/><rect y="348.9" fill="#ed7479"/><rect y="349.9" fill="#ee7b80"/><rect y="350.9" fill="#ea595f"/><rect y="351.9" fill="#eb6066"/><rect y="352.9" fill="#f19094"/><rect y="353.9" fill="#f39fa3"/><rect y="354.8" fill="#f6b5b8"/><rect y="355.8" fill="#e95056"/><rect y="356.8" fill="#f29a9d"/><rect y="357.8" fill="#f4a8ab"/><rect y="358.8" fill="#ee7d82"/><rect y="359.8" fill="#ea5b61"/><rect y="360.8" fill="#ef8287"/><rect y="361.8" fill="#f0878b"/><rect y="362.8" fill="#ec686e"/><rect y="363.8" fill="#ea5b61"/><rect y="364.8" fill="#ec696f"/><rect y="365.8" fill="#eb6166"/><rect y="366.8" fill="#ef8488"/><rect y="367.8" fill="#f19598"/><rect y="368.8" fill="#f2999d"/><rect y="369.8" fill="#eb656b"/><rect y="370.8" fill="#ed7176"/><rect y="371.8" fill="#f39ea2"/><rect y="372.8" fill="#f6b9bc"/><rect y="373.8" fill="#f39fa3"/><rect y="374.8" fill="#f4abae"/><rect y="375.8" fill="#ea5e64"/><rect y="376.8" fill="#f0898d"/><rect y="377.8" fill="#f4aaad"/><rect y="378.8" fill="#f19397"/><rect y="379.8" fill="#f08b8f"/><rect y="380.8" fill="#eb6065"/><rect y="381.8" fill="#f4a6a9"/><rect y="382.8" fill="#ed7378"/><rect y="383.8" fill="#f18f93"/><rect y="384.8" fill="#ef8387"/><rect y="385.8" fill="#ec696f"/><rect y="386.8" fill="#f19397"/><rect y="387.8" fill="#ee7d82"/><rect y="388.8" fill="#ed6f74"/><rect y="389.8" fill="#f19094"/><rect y="390.8" fill="#f6b6b9"/><rect y="391.7" fill="#f3a2a6"/><rect y="392.7" fill="#ee767b"/><rect y="393.7" fill="#f4a5a8"/><rect y="394.7" fill="#f19296"/><rect y="395.7" fill="#f19598"/><rect y="396.7" fill="#ec6b70"/><rect y="397.7" fill="#f08c90"/><rect y="398.7" fill="#f29699"/><rect y="399.7" fill="#ea5b61"/><rect y="400.7" fill="#f2979b"/><rect y="401.7" fill="#ee767b"/><rect y="402.7" fill="#ee797e"/><rect y="403.7" fill="#ea5a60"/><rect y="404.7" fill="#f3a2a5"/><rect y="405.7" fill="#f3a2a5"/><rect y="406.7" fill="#f3a3a7"/><rect y="407.7" fill="#ed767b"/><rect y="408.7" fill="#ed757a"/><rect y="409.7" fill="#ee777b"/><rect y="410.7" fill="#f08b8f"/><rect y="411.7" fill="#f4a7aa"/><rect y="412.7" fill="#f7c1c3"/><rect y="413.7" fill="#ed7176"/><rect y="414.7" fill="#ef8186"/><rect y="415.7" fill="#ed7277"/><rect y="416.7" fill="#f19498"/><rect y="417.7" fill="#f0878c"/><rect y="418.7" fill="#ef8387"/><rect y="419.7" fill="#ee7e82"/><rect y="420.7" fill="#f3a0a4"/><rect y="421.7" fill="#afb3d9"/><rect y="422.7" fill="#747bbe"/><rect y="423.7" fill="#5860b1"/><rect y="424.7" fill="#6e75bb"/><rect y="425.7" fill="#6c73ba"/><rect y="426.7" fill="#949acd"/><rect y="427.7" fill="#868cc6"/><rect y="428.7" fill="#5962b2"/><rect y="429.6" fill="#626ab5"/><rect y="430.6" fill="#8a90c8"/><rect y="431.6" fill="#5d65b3"/><rect y="432.6" fill="#888ec7"/><rect y="433.6" fill="#7077bc"/><rect y="434.6" fill="#7d83c2"/><rect y="435.6" fill="#878dc7"/><rect y="436.6" fill="#888ec8"/><rect y="437.6" fill="#8c92c9"/><rect y="438.6" fill="#8e93ca"/><rect y="439.6" fill="#8c92c9"/><rect y="440.6" fill="#8c92c9"/><rect y="441.6" fill="#9499cd"/><rect y="442.6" fill="#4f58ad"/><rect y="443.6" fill="#a4a9d5"/><rect y="444.6" fill="#525bae"/><rect y="445.6" fill="#777ebf"/><rect y="446.6" fill="#8c92c9"/><rect y="447.6" fill="#888ec7"/><rect y="448.6" fill="#878dc7"/><rect y="449.6" fill="#979cce"/><rect y="450.6" fill="#3842a2"/><rect y="451.6" fill="#6d75bb"/><rect y="452.6" fill="#a4a9d5"/><rect y="453.6" fill="#979cce"/><rect y="454.6" fill="#7178bd"/><rect y="455.6" fill="#7b81c1"/><rect y="456.6" fill="#8389c5"/><rect y="457.6" fill="#868cc6"/><rect y="458.6" fill="#a9aed7"/><rect y="459.6" fill="#9ca1d1"/><rect y="460.6" fill="#8c92c9"/><rect y="461.6" fill="#a8acd6"/><rect y="462.6" fill="#8d93ca"/><rect y="463.6" fill="#8187c4"/><rect y="464.6" fill="#babddf"/><rect y="465.6" fill="#9ca1d1"/><rect y="466.5" fill="#b0b4da"/><rect y="467.5" fill="#7a81c1"/><rect y="468.5" fill="#a2a7d4"/><rect y="469.5" fill="#979ccf"/><rect y="470.5" fill="#a7acd6"/><rect y="471.5" fill="#888ec7"/><rect y="472.5" fill="#a5aad5"/><rect y="473.5" fill="#a3a8d4"/><rect y="474.5" fill="#8f95cb"/><rect y="475.5" fill="#c1c4e2"/><rect y="476.5" fill="#b9bcde"/><rect y="477.5" fill="#c7cae5"/><rect y="478.5" fill="#b4b8dc"/><rect y="479.5" fill="#c4c7e3"/><rect y="480.5" fill="#888ec7"/><rect y="481.5" fill="#9da2d1"/><rect y="482.5" fill="#a9add7"/><rect y="483.5" fill="#a3a7d4"/><rect y="484.5" fill="#888ec7"/><rect y="485.5" fill="#cdcfe8"/><rect y="486.5" fill="#c8cbe5"/><rect y="487.5" fill="#a7acd6"/><rect y="488.5" fill="#a5aad5"/><rect y="489.5" fill="#8a90c9"/><rect y="490.5" fill="#c3c6e3"/><rect y="491.5" fill="#a6abd6"/><rect y="492.5" fill="#b2b6db"/><rect y="493.5" fill="#8a8fc8"/><rect y="494.5" fill="#b4b7dc"/><rect y="495.5" fill="#abb0d8"/><rect y="496.5" fill="#dcdeef"/><rect y="497.5" fill="#c6c9e4"/><rect y="498.5" fill="#c4c7e3"/><rect y="499.5" fill="#d9dbed"/><rect y="500.5" fill="#bec1e0"/><rect y="501.5" fill="#d0d2e9"/><rect y="502.5" fill="#c7cae5"/><rect y="503.5" fill="#eaebf5"/><rect y="504.4" fill="#cfd2e9"/><rect y="505.4" fill="#fdf0f1"/><rect y="506.4" fill="#bec2e1"/><rect y="507.4" fill="#bbbedf"/><rect y="508.4" fill="#adb1d9"/><rect y="509.4" fill="#c0c3e2"/><rect y="510.4" fill="#dee0f0"/><rect y="511.4" fill="#eeeff7"/><rect y="512.4" fill="#ced0e8"/><rect y="513.4" fill="#d5d7eb"/><rect y="514.4" fill="#bfc3e1"/><rect y="515.4" fill="#dddfef"/><rect y="516.4" fill="#bec2e1"/><rect y="517.4" fill="#eaebf5"/><rect y="518.4" fill="#d3d6eb"/><rect y="519.4" fill="#fbfbfd"/><rect y="520.4" fill="#c8cbe5"/><rect y="521.4" fill="#d7d9ec"/>
</g>
<g transform="translate(42.05,0)">
<rect y="223.2" fill="#f4a7aa"/><rect y="224.2" fill="#ed7479"/><rect y="225.2" fill="#e7444b"/><rect y="226.2" fill="#ec6c71"/><rect y="227.2" fill="#eb5f64"/><rect y="228.2" fill="#e95258"/><rect y="229.2" fill="#ee7a7f"/><rect y="230.2" fill="#ed7378"/><rect y="231.2" fill="#e95157"/><rect y="232.2" fill="#e53239"/><rect y="233.2" fill="#f29699"/><rect y="234.2" fill="#eb6267"/><rect y="235.2" fill="#ec686d"/><rect y="236.2" fill="#ef8085"/><rect y="237.2" fill="#ed7277"/><rect y="238.2" fill="#ef8286"/><rect y="239.2" fill="#e42f36"/><rect y="240.2" fill="#ea5d63"/><rect y="241.2" fill="#ec696e"/><rect y="242.1" fill="#ec686d"/><rect y="243.1" fill="#eb5f64"/><rect y="244.1" fill="#ec676d"/><rect y="245.1" fill="#ed7378"/><rect y="246.1" fill="#ef8489"/><rect y="247.1" fill="#ec676d"/><rect y="248.1" fill="#f08a8f"/><rect y="249.1" fill="#ed757a"/><rect y="250.1" fill="#e42c33"/><rect y="251.1" fill="#ea5c62"/><rect y="252.1" fill="#ec6e73"/><rect y="253.1" fill="#eb6066"/><rect y="254.1" fill="#e42c33"/><rect y="255.1" fill="#f19195"/><rect y="256.1" fill="#f0898d"/><rect y="257.1" fill="#e95359"/><rect y="258.1" fill="#e95157"/><rect y="259.1" fill="#eb6167"/><rect y="260.1" fill="#e95056"/><rect y="261.1" fill="#ee7a7f"/><rect y="262.1" fill="#e63a41"/><rect y="263.1" fill="#ec686d"/><rect y="264.1" fill="#f19094"/><rect y="265.1" fill="#ef858a"/><rect y="266.1" fill="#ed7176"/><rect y="267.1" fill="#ef7e82"/><rect y="268.1" fill="#e95157"/><rect y="269.1" fill="#ef868a"/><rect y="270.1" fill="#ec6d73"/><rect y="271.1" fill="#ed7479"/><rect y="272.1" fill="#ed7176"/><rect y="273.1" fill="#e84c52"/><rect y="274.1" fill="#e42e36"/><rect y="275.1" fill="#ed7277"/><rect y="276.1" fill="#ed7378"/><rect y="277.1" fill="#ef8085"/><rect y="278.1" fill="#ec6b70"/><rect y="279.1" fill="#ea5d62"/><rect y="280.0" fill="#ec676d"/><rect y="281.0" fill="#eb6368"/><rect y="282.0" fill="#e84e55"/><rect y="283.0" fill="#ec696f"/><rect y="284.0" fill="#ec6e73"/><rect y="285.0" fill="#ee797e"/><rect y="286.0" fill="#e84d54"/><rect y="287.0" fill="#ee7c81"/><rect y="288.0" fill="#e9545a"/><rect y="289.0" fill="#eb6469"/><rect y="290.0" fill="#ec696e"/><rect y="291.0" fill="#e9565c"/><rect y="292.0" fill="#ea595f"/><rect y="293.0" fill="#ef858a"/><rect y="294.0" fill="#eb656b"/><rect y="295.0" fill="#ee7c80"/><rect y="296.0" fill="#e74249"/><rect y="297.0" fill="#e84c52"/><rect y="298.0" fill="#f19397"/><rect y="299.0" fill="#e5363d"/><rect y="300.0" fill="#e63a41"/><rect y="301.0" fill="#e9565c"/><rect y="302.0" fill="#e84d54"/><rect y="303.0" fill="#ee7c80"/><rect y="304.0" fill="#ee797d"/><rect y="305.0" fill="#ea575d"/><rect y="306.0" fill="#ec6e73"/><rect y="307.0" fill="#ed7378"/><rect y="308.0" fill="#f0868b"/><rect y="309.0" fill="#ee7b80"/><rect y="310.0" fill="#ea5a60"/><rect y="311.0" fill="#e73f46"/><rect y="312.0" fill="#eb656a"/><rect y="313.0" fill="#ec6c72"/><rect y="314.0" fill="#ea5c62"/><rect y="315.0" fill="#ea595f"/><rect y="316.0" fill="#e84b51"/><rect y="316.9" fill="#eb6065"/><rect y="317.9" fill="#e42830"/><rect y="318.9" fill="#e7464d"/><rect y="319.9" fill="#ec6e73"/><rect y="320.9" fill="#e63b42"/><rect y="321.9" fill="#ed7277"/><rect y="322.9" fill="#e8494f"/><rect y="323.9" fill="#f2989b"/><rect y="324.9" fill="#e84e55"/><rect y="325.9" fill="#ec6d72"/><rect y="326.9" fill="#ed7478"/><rect y="327.9" fill="#ed7075"/><rect y="328.9" fill="#ed7277"/><rect y="329.9" fill="#e9565c"/><rect y="330.9" fill="#ec696e"/><rect y="331.9" fill="#ee7d81"/><rect y="332.9" fill="#f5adb0"/><rect y="333.9" fill="#eb646a"/><rect y="334.9" fill="#e9565c"/><rect y="335.9" fill="#ea575d"/><rect y="336.9" fill="#ea5b61"/><rect y="337.9" fill="#ec6b70"/><rect y="338.9" fill="#ec6b70"/><rect y="339.9" fill="#ec6c71"/><rect y="340.9" fill="#eb6166"/><rect y="341.9" fill="#f19195"/><rect y="342.9" fill="#f19094"/><rect y="343.9" fill="#eb666b"/><rect y="344.9" fill="#e84e54"/><rect y="345.9" fill="#f29da1"/><rect y="346.9" fill="#f0888d"/><rect y="347.9" fill="#e95157"/><rect y="348.9" fill="#f4acaf"/><rect y="349.9" fill="#ec696e"/><rect y="350.9" fill="#ec6b70"/><rect y="351.9" fill="#eb6267"/><rect y="352.9" fill="#ed7075"/><rect y="353.9" fill="#ef8287"/><rect y="354.8" fill="#ef7f83"/><rect y="355.8" fill="#ea5a60"/><rect y="356.8" fill="#f29c9f"/><rect y="357.8" fill="#f39da1"/><rect y="358.8" fill="#ec686e"/><rect y="359.8" fill="#ea5a60"/><rect y="360.8" fill="#ee7b80"/><rect y="361.8" fill="#ef8488"/><rect y="362.8" fill="#ed7479"/><rect y="363.8" fill="#ea575d"/><rect y="364.8" fill="#ec696e"/><rect y="365.8" fill="#ea585e"/><rect y="366.8" fill="#ee7d82"/><rect y="367.8" fill="#f0898d"/><rect y="368.8" fill="#ee7b80"/><rect y="369.8" fill="#ed7277"/><rect y="370.8" fill="#f08c90"/><rect y="371.8" fill="#ee7c80"/><rect y="372.8" fill="#f19094"/><rect y="373.8" fill="#f0898d"/><rect y="374.8" fill="#f3a3a6"/><rect y="375.8" fill="#ec6a6f"/><rect y="376.8" fill="#f08a8e"/><rect y="377.8" fill="#f2999d"/><rect y="378.8" fill="#ee7b7f"/><rect y="379.8" fill="#f29da0"/><rect y="380.8" fill="#ea575d"/><rect y="381.8" fill="#ee787c"/><rect y="382.8" fill="#ed7479"/><rect y="383.8" fill="#ee7a7f"/><rect y="384.8" fill="#ed7478"/><rect y="385.8" fill="#ef868a"/><rect y="386.8" fill="#f08b8f"/><rect y="387.8" fill="#f18f93"/><rect y="388.8" fill="#ef8085"/><rect y="389.8" fill="#f19498"/><rect y="390.8" fill="#f5b2b5"/><rect y="391.7" fill="#ee7e82"/><rect y="392.7" fill="#ef8388"/><rect y="393.7" fill="#f18e92"/><rect y="394.7" fill="#ef8287"/><rect y="395.7" fill="#ef8185"/><rect y="396.7" fill="#f0898d"/><rect y="397.7" fill="#f18e92"/><rect y="398.7" fill="#f0898d"/><rect y="399.7" fill="#ec676d"/><rect y="400.7" fill="#f19094"/><rect y="401.7" fill="#ec686d"/><rect y="402.7" fill="#ef8589"/><rect y="403.7" fill="#ee7b7f"/><rect y="404.7" fill="#f08b8f"/><rect y="405.7" fill="#f19094"/><rect y="406.7" fill="#f29c9f"/><rect y="407.7" fill="#ed7176"/><rect y="408.7" fill="#ef8085"/><rect y="409.7" fill="#ef8489"/><rect y="410.7" fill="#f0878b"/><rect y="411.7" fill="#f2979b"/><rect y="412.7" fill="#f6b8ba"/><rect y="413.7" fill="#ec666c"/><rect y="414.7" fill="#f19599"/><rect y="415.7" fill="#eb666b"/><rect y="416.7" fill="#ed7479"/><rect y="417.7" fill="#ed7176"/><rect y="418.7" fill="#f08a8e"/><rect y="419.7" fill="#f19498"/><rect y="420.7" fill="#f08d91"/><rect y="421.7" fill="#c5c8e4"/><rect y="422.7" fill="#747bbe"/><rect y="423.7" fill="#7b81c1"/><rect y="424.7" fill="#9da2d1"/><rect y="425.7" fill="#9da2d1"/><rect y="426.7" fill="#979cce"/><rect y="427.7" fill="#c6c9e4"/><rect y="428.7" fill="#5a63b2"/><rect y="429.6" fill="#7178bd"/><rect y="430.6" fill="#a3a8d4"/><rect y="431.6" fill="#8086c4"/><rect y="432.6" fill="#a9add7"/><rect y="433.6" fill="#a3a8d4"/><rect y="434.6" fill="#9a9fd0"/><rect y="435.6" fill="#a0a5d3"/><rect y="436.6" fill="#a8acd6"/><rect y="437.6" fill="#aeb2d9"/><rect y="438.6" fill="#959acd"/><rect y="439.6" fill="#a1a5d3"/><rect y="440.6" fill="#8b91c9"/><rect y="441.6" fill="#aaaed7"/><rect y="442.6" fill="#676fb8"/><rect y="443.6" fill="#d5d7eb"/><rect y="444.6" fill="#7178bd"/><rect y="445.6" fill="#7d83c2"/><rect y="446.6" fill="#c2c5e2"/><rect y="447.6" fill="#aaaed7"/><rect y="448.6" fill="#9fa4d2"/><rect y="449.6" fill="#dcdeef"/><rect y="450.6" fill="#676fb8"/><rect y="451.6" fill="#9499cd"/><rect y="452.6" fill="#b4b8dc"/><rect y="453.6" fill="#c4c7e3"/><rect y="454.6" fill="#9ba0d0"/><rect y="455.6" fill="#8c91c9"/><rect y="456.6" fill="#a9add7"/><rect y="457.6" fill="#b8bbde"/><rect y="458.6" fill="#dddfef"/><rect y="459.6" fill="#b8bbde"/><rect y="460.6" fill="#b5b9dc"/><rect y="461.6" fill="#c4c7e4"/><rect y="462.6" fill="#979cce"/><rect y="463.6" fill="#c6c9e4"/><rect y="464.6" fill="#ced0e8"/><rect y="465.6" fill="#b2b6db"/><rect y="466.5" fill="#bcbfe0"/><rect y="467.5" fill="#a2a6d3"/><rect y="468.5" fill="#bdc0e0"/><rect y="469.5" fill="#b1b5db"/><rect y="470.5" fill="#b8bcde"/><rect y="471.5" fill="#b4b8dc"/><rect y="472.5" fill="#b5b8dc"/><rect y="473.5" fill="#cdcfe7"/><rect y="474.5" fill="#999ecf"/><rect y="475.5" fill="#f3f4fa"/><rect y="476.5" fill="#e3e4f2"/><rect y="477.5" fill="#e7e8f4"/><rect y="478.5" fill="#cccee7"/><rect y="479.5" fill="#dee0f0"/><rect y="480.5" fill="#9fa4d2"/><rect y="481.5" fill="#e1e2f1"/><rect y="482.5" fill="#cacce6"/><rect y="483.5" fill="#c2c6e3"/><rect y="484.5" fill="#999ecf"/><rect y="485.5" fill="#dee0f0"/><rect y="486.5" fill="#e9eaf5"/><rect y="487.5" fill="#acb0d8"/><rect y="488.5" fill="#b5b9dd"/><rect y="489.5" fill="#b3b6db"/><rect y="490.5" fill="#e4e5f2"/><rect y="491.5" fill="#dadcee"/><rect y="492.5" fill="#d8daed"/><rect y="493.5" fill="#b6badd"/><rect y="494.5" fill="#e0e1f0"/><rect y="495.5" fill="#c6c9e4"/><rect y="496.5" fill="#edeef7"/><rect y="497.5" fill="#cacde6"/><rect y="498.5" fill="#dbddee"/><rect y="499.5" fill="#fbfbfd"/><rect y="500.5" fill="#bfc3e1"/><rect y="501.5" fill="#e7e8f4"/><rect y="502.5" fill="#f8f8fc"/><rect y="503.5" fill="#f0f1f8"/><rect y="504.4" fill="#d8daed"/><rect y="505.4" fill="#f6b7b9"/><rect y="506.4" fill="#e3e5f2"/><rect y="507.4" fill="#dfe1f0"/><rect y="508.4" fill="#c5c7e4"/><rect y="509.4" fill="#f6f6fb"/><rect y="510.4" fill="#fcfcfd"/><rect y="511.4" fill="#e5e7f3"/><rect y="512.4" fill="#eeeff7"/><rect y="513.4" fill="#fef7f8"/><rect y="514.4" fill="#f0f1f8"/><rect y="515.4" fill="#fdeeef"/><rect y="516.4" fill="#ffffff"/><rect y="517.4" fill="#fcfcfd"/><rect y="518.4" fill="#fdf3f3"/><rect y="519.4" fill="#fadadc"/><rect y="520.4" fill="#fbfbfd"/><rect y="521.4" fill="#bbbfdf"/>
</g>
<g transform="translate(53.48,0)">
<rect y="223.2" fill="#ef8287"/><rect y="224.2" fill="#f0868a"/><rect y="225.2" fill="#e63f46"/><rect y="226.2" fill="#eb656a"/><rect y="227.2" fill="#ed7176"/><rect y="228.2" fill="#ee7d81"/><rect y="229.2" fill="#f2989c"/><rect y="230.2" fill="#f0888d"/><rect y="231.2" fill="#e84b51"/><rect y="232.2" fill="#e63e45"/><rect y="233.2" fill="#f19397"/><rect y="234.2" fill="#ef8287"/><rect y="235.2" fill="#ea5d63"/><rect y="236.2" fill="#ee797e"/><rect y="237.2" fill="#ec6d72"/><rect y="238.2" fill="#ee7d82"/><rect y="239.2" fill="#e42a31"/><rect y="240.2" fill="#eb6469"/><rect y="241.2" fill="#e8484f"/><rect y="242.1" fill="#ee787c"/><rect y="243.1" fill="#eb6369"/><rect y="244.1" fill="#e95157"/><rect y="245.1" fill="#f0898d"/><rect y="246.1" fill="#f19497"/><rect y="247.1" fill="#f0878b"/><rect y="248.1" fill="#ee777c"/><rect y="249.1" fill="#ea595f"/><rect y="250.1" fill="#e84e55"/><rect y="251.1" fill="#eb6166"/><rect y="252.1" fill="#f08d91"/><rect y="253.1" fill="#eb646a"/><rect y="254.1" fill="#e5363d"/><rect y="255.1" fill="#f39fa2"/><rect y="256.1" fill="#ee777c"/><rect y="257.1" fill="#ec6b70"/><rect y="258.1" fill="#ec676c"/><rect y="259.1" fill="#ea5e64"/><rect y="260.1" fill="#e95258"/><rect y="261.1" fill="#ec6a6f"/><rect y="262.1" fill="#e7464d"/><rect y="263.1" fill="#ed7378"/><rect y="264.1" fill="#ee7d82"/><rect y="265.1" fill="#f3a3a6"/><rect y="266.1" fill="#ef8085"/><rect y="267.1" fill="#ef8085"/><rect y="268.1" fill="#e8484e"/><rect y="269.1" fill="#f08b8f"/><rect y="270.1" fill="#f08a8e"/><rect y="271.1" fill="#ec696f"/><rect y="272.1" fill="#f0868a"/><rect y="273.1" fill="#ec6d72"/><rect y="274.1" fill="#e84d53"/><rect y="275.1" fill="#ef8489"/><rect y="276.1" fill="#ee7d82"/><rect y="277.1" fill="#ed7378"/><rect y="278.1" fill="#ee797e"/><rect y="279.1" fill="#ed7478"/><rect y="280.0" fill="#e94f55"/><rect y="281.0" fill="#f18e92"/><rect y="282.0" fill="#e95258"/><rect y="283.0" fill="#ec6b71"/><rect y="284.0" fill="#eb6167"/><rect y="285.0" fill="#f29da0"/><rect y="286.0" fill="#ed6e74"/><rect y="287.0" fill="#ed757a"/><rect y="288.0" fill="#ec676c"/><rect y="289.0" fill="#ea575d"/><rect y="290.0" fill="#ee7d82"/><rect y="291.0" fill="#eb5f65"/><rect y="292.0" fill="#eb6469"/><rect y="293.0" fill="#ee7d81"/><rect y="294.0" fill="#ed7277"/><rect y="295.0" fill="#ed7479"/><rect y="296.0" fill="#e84e54"/><rect y="297.0" fill="#e95258"/><rect y="298.0" fill="#ed757a"/><rect y="299.0" fill="#e9565c"/><rect y="300.0" fill="#e7434a"/><rect y="301.0" fill="#ec6b70"/><rect y="302.0" fill="#eb646a"/><rect y="303.0" fill="#ef7e83"/><rect y="304.0" fill="#f08d91"/><rect y="305.0" fill="#eb5f65"/><rect y="306.0" fill="#ef8085"/><rect y="307.0" fill="#ee777c"/><rect y="308.0" fill="#f3a1a4"/><rect y="309.0" fill="#ec6a6f"/><rect y="310.0" fill="#ec6b70"/><rect y="311.0" fill="#e84b51"/><rect y="312.0" fill="#ee7c80"/><rect y="313.0" fill="#ed7277"/><rect y="314.0" fill="#ec6d72"/><rect y="315.0" fill="#eb656b"/><rect y="316.0" fill="#e84d53"/><rect y="316.9" fill="#ee797e"/><rect y="317.9" fill="#ea5b61"/><rect y="318.9" fill="#ed7378"/><rect y="319.9" fill="#ea5d63"/><rect y="320.9" fill="#e6383f"/><rect y="321.9" fill="#ef7f84"/><rect y="322.9" fill="#ea575d"/><rect y="323.9" fill="#f3a3a6"/><rect y="324.9" fill="#eb656a"/><rect y="325.9" fill="#ee7c81"/><rect y="326.9" fill="#f0878c"/><rect y="327.9" fill="#ea5c62"/><rect y="328.9" fill="#ee797e"/><rect y="329.9" fill="#ed6e73"/><rect y="330.9" fill="#ec6c71"/><rect y="331.9" fill="#f3a4a7"/><rect y="332.9" fill="#f3a3a6"/><rect y="333.9" fill="#ea5a60"/><rect y="334.9" fill="#ec6c71"/><rect y="335.9" fill="#eb666b"/><rect y="336.9" fill="#e94f55"/><rect y="337.9" fill="#ee767b"/><rect y="338.9" fill="#ec686d"/><rect y="339.9" fill="#f19093"/><rect y="340.9" fill="#e9555b"/><rect y="341.9" fill="#f3a3a6"/><rect y="342.9" fill="#ea5e63"/><rect y="343.9" fill="#f2999c"/><rect y="344.9" fill="#eb666b"/><rect y="345.9" fill="#f39ea1"/><rect y="346.9" fill="#ef8084"/><rect y="347.9" fill="#e84d53"/><rect y="348.9" fill="#f3a3a7"/><rect y="349.9" fill="#ed7176"/><rect y="350.9" fill="#ed7075"/><rect y="351.9" fill="#ed6f74"/><rect y="352.9" fill="#f19296"/><rect y="353.9" fill="#f2989c"/><rect y="354.8" fill="#f29a9d"/><rect y="355.8" fill="#eb6369"/><rect y="356.8" fill="#f19599"/><rect y="357.8" fill="#f29a9d"/><rect y="358.8" fill="#ef8185"/><rect y="359.8" fill="#ee7b80"/><rect y="360.8" fill="#f19195"/><rect y="361.8" fill="#f29b9e"/><rect y="362.8" fill="#f19397"/><rect y="363.8" fill="#eb666b"/><rect y="364.8" fill="#eb6369"/><rect y="365.8" fill="#e9545a"/><rect y="366.8" fill="#f2989c"/><rect y="367.8" fill="#ef8488"/><rect y="368.8" fill="#f2979a"/><rect y="369.8" fill="#ef858a"/><rect y="370.8" fill="#ee787d"/><rect y="371.8" fill="#ef8488"/><rect y="372.8" fill="#f39ea1"/><rect y="373.8" fill="#f3a0a4"/><rect y="374.8" fill="#f8cccd"/><rect y="375.8" fill="#ec696e"/><rect y="376.8" fill="#f3a1a4"/><rect y="377.8" fill="#f2979b"/><rect y="378.8" fill="#f2969a"/><rect y="379.8" fill="#f3a1a4"/><rect y="380.8" fill="#ed7176"/><rect y="381.8" fill="#f2969a"/><rect y="382.8" fill="#f08d91"/><rect y="383.8" fill="#ef7f83"/><rect y="384.8" fill="#f0868a"/><rect y="385.8" fill="#f19195"/><rect y="386.8" fill="#f29b9f"/><rect y="387.8" fill="#ef8387"/><rect y="388.8" fill="#f19094"/><rect y="389.8" fill="#f3a2a5"/><rect y="390.8" fill="#f6bbbe"/><rect y="391.7" fill="#f5b5b7"/><rect y="392.7" fill="#f3a2a5"/><rect y="393.7" fill="#f4a9ac"/><rect y="394.7" fill="#f19397"/><rect y="395.7" fill="#ef8287"/><rect y="396.7" fill="#f0868a"/><rect y="397.7" fill="#f3a4a7"/><rect y="398.7" fill="#f5aeb1"/><rect y="399.7" fill="#ee7c81"/><rect y="400.7" fill="#f4adb0"/><rect y="401.7" fill="#ee777c"/><rect y="402.7" fill="#f19094"/><rect y="403.7" fill="#ec696e"/><rect y="404.7" fill="#f4a8ab"/><rect y="405.7" fill="#f19195"/><rect y="406.7" fill="#f19195"/><rect y="407.7" fill="#ee7a7f"/><rect y="408.7" fill="#f0878b"/><rect y="409.7" fill="#f29b9f"/><rect y="410.7" fill="#ef8085"/><rect y="411.7" fill="#f2999d"/><rect y="412.7" fill="#f7c4c6"/><rect y="413.7" fill="#ed7378"/><rect y="414.7" fill="#f2989c"/><rect y="415.7" fill="#f0868a"/><rect y="416.7" fill="#ef8084"/><rect y="417.7" fill="#ee797d"/><rect y="418.7" fill="#ef7f84"/><rect y="419.7" fill="#f29ca0"/><rect y="420.7" fill="#f3a2a6"/><rect y="421.7" fill="#c9cce6"/><rect y="422.7" fill="#7e84c3"/><rect y="423.7" fill="#747bbe"/><rect y="424.7" fill="#858bc6"/><rect y="425.7" fill="#6e75bb"/><rect y="426.7" fill="#abafd8"/><rect y="427.7" fill="#a7abd6"/><rect y="428.7" fill="#7178bd"/><rect y="429.6" fill="#9ba0d0"/><rect y="430.6" fill="#898fc8"/><rect y="431.6" fill="#7e85c3"/><rect y="432.6" fill="#a5aad5"/><rect y="433.6" fill="#9096cb"/><rect y="434.6" fill="#898fc8"/><rect y="435.6" fill="#a1a6d3"/><rect y="436.6" fill="#b7bbdd"/><rect y="437.6" fill="#b7badd"/><rect y="438.6" fill="#a5a9d5"/><rect y="439.6" fill="#969bce"/><rect y="440.6" fill="#b1b5db"/><rect y="441.6" fill="#a7acd6"/><rect y="442.6" fill="#6970b9"/><rect y="443.6" fill="#c6c9e5"/><rect y="444.6" fill="#757cbf"/><rect y="445.6" fill="#838ac5"/><rect y="446.6" fill="#b1b5da"/><rect y="447.6" fill="#a8add6"/><rect y="448.6" fill="#9fa4d2"/><rect y="449.6" fill="#d3d5eb"/><rect y="450.6" fill="#7279bd"/><rect y="451.6" fill="#8d93ca"/><rect y="452.6" fill="#c1c4e2"/><rect y="453.6" fill="#afb3da"/><rect y="454.6" fill="#959acd"/><rect y="455.6" fill="#9196cc"/><rect y="456.6" fill="#b4b8dc"/><rect y="457.6" fill="#a9add7"/><rect y="458.6" fill="#babedf"/><rect y="459.6" fill="#b7bbdd"/><rect y="460.6" fill="#c5c8e4"/><rect y="461.6" fill="#999ecf"/><rect y="462.6" fill="#959bce"/><rect y="463.6" fill="#abafd8"/><rect y="464.6" fill="#bcc0e0"/><rect y="465.6" fill="#b9bdde"/><rect y="466.5" fill="#b2b6db"/><rect y="467.5" fill="#989dcf"/><rect y="468.5" fill="#b9bcde"/><rect y="469.5" fill="#b9bdde"/><rect y="470.5" fill="#ced0e8"/><rect y="471.5" fill="#b8bbde"/><rect y="472.5" fill="#bcbfe0"/><rect y="473.5" fill="#ecedf6"/><rect y="474.5" fill="#a8add7"/><rect y="475.5" fill="#d9dbed"/><rect y="476.5" fill="#e0e2f1"/><rect y="477.5" fill="#edeef7"/><rect y="478.5" fill="#cfd2e9"/><rect y="479.5" fill="#dfe1f0"/><rect y="480.5" fill="#a9add7"/><rect y="481.5" fill="#b5b9dd"/><rect y="482.5" fill="#dddfef"/><rect y="483.5" fill="#b1b5db"/><rect y="484.5" fill="#a4a8d4"/><rect y="485.5" fill="#ececf6"/><rect y="486.5" fill="#fbfbfd"/><rect y="487.5" fill="#b9bcde"/><rect y="488.5" fill="#b3b7dc"/><rect y="489.5" fill="#b9bcde"/><rect y="490.5" fill="#d8daed"/><rect y="491.5" fill="#c7cae5"/><rect y="492.5" fill="#eaebf5"/><rect y="493.5" fill="#8d93ca"/><rect y="494.5" fill="#d5d7ec"/><rect y="495.5" fill="#c5c8e4"/><rect y="496.5" fill="#f6f6fb"/><rect y="497.5" fill="#cfd1e8"/><rect y="498.5" fill="#e9eaf5"/><rect y="499.5" fill="#f7f8fb"/><rect y="500.5" fill="#ced1e8"/><rect y="501.5" fill="#e1e2f1"/><rect y="502.5" fill="#e3e4f2"/><rect y="503.5" fill="#e6e8f3"/><rect y="504.4" fill="#d8daed"/><rect y="505.4" fill="#fefafa"/><rect y="506.4" fill="#d6d8ec"/><rect y="507.4" fill="#d7d9ec"/><rect y="508.4" fill="#bfc2e1"/><rect y="509.4" fill="#e2e4f2"/><rect y="510.4" fill="#fbfbfd"/><rect y="511.4" fill="#ecedf6"/><rect y="512.4" fill="#e9ebf5"/><rect y="513.4" fill="#fffbfc"/><rect y="514.4" fill="#dcdeef"/><rect y="515.4" fill="#fce7e8"/><rect y="516.4" fill="#edeef6"/><rect y="517.4" fill="#fce9ea"/><rect y="518.4" fill="#ecedf6"/><rect y="519.4" fill="#fdf2f3"/><rect y="520.4" fill="#e6e8f4"/><rect y="521.4" fill="#dadcee"/>
</g>
<g transform="translate(64.90,0)">
<rect y="223.2" fill="#acb0d8"/><rect y="224.2" fill="#e6e7f3"/><rect y="225.2" fill="#eaecf5"/><rect y="226.2" fill="#c7cae5"/><rect y="227.2" fill="#9096cb"/><rect y="228.2" fill="#bcc0e0"/><rect y="229.2" fill="#9499cd"/><rect y="230.2" fill="#b2b6db"/><rect y="231.2" fill="#fcfcfe"/><rect y="232.2" fill="#ffffff"/><rect y="233.2" fill="#fbe3e4"/><rect y="234.2" fill="#999ecf"/><rect y="235.2" fill="#f8f8fc"/><rect y="236.2" fill="#dddeef"/><rect y="237.2" fill="#f8f8fc"/><rect y="238.2" fill="#c9cce6"/><rect y="239.2" fill="#c4c7e3"/><rect y="240.2" fill="#fefeff"/><rect y="241.2" fill="#eeeff7"/><rect y="242.1" fill="#b2b6db"/><rect y="243.1" fill="#969bce"/><rect y="244.1" fill="#d1d3ea"/><rect y="245.1" fill="#cdd0e8"/><rect y="246.1" fill="#c8cbe5"/><rect y="247.1" fill="#bbbedf"/><rect y="248.1" fill="#e7e8f4"/><rect y="249.1" fill="#f8f8fc"/><rect y="250.1" fill="#fffdfd"/><rect y="251.1" fill="#d6d8ec"/><rect y="252.1" fill="#d4d6eb"/><rect y="253.1" fill="#eaebf5"/><rect y="254.1" fill="#b5b9dc"/><rect y="255.1" fill="#e6e7f3"/><rect y="256.1" fill="#f2f3f9"/><rect y="257.1" fill="#dcdeef"/><rect y="258.1" fill="#fffefe"/><rect y="259.1" fill="#fcfcfe"/><rect y="260.1" fill="#c8cbe6"/><rect y="261.1" fill="#8b91c9"/><rect y="262.1" fill="#d5d7eb"/><rect y="263.1" fill="#d0d2e9"/><rect y="264.1" fill="#a8acd6"/><rect y="265.1" fill="#d0d2e9"/><rect y="266.1" fill="#d5d7ec"/><rect y="267.1" fill="#b7bbdd"/><rect y="268.1" fill="#e1e2f1"/><rect y="269.1" fill="#b3b7db"/><rect y="270.1" fill="#dddfef"/><rect y="271.1" fill="#d8daed"/><rect y="272.1" fill="#ebecf6"/><rect y="273.1" fill="#ced0e8"/><rect y="274.1" fill="#b5b8dc"/><rect y="275.1" fill="#8289c5"/><rect y="276.1" fill="#e6e7f3"/><rect y="277.1" fill="#f4f5fa"/><rect y="278.1" fill="#fdf0f1"/><rect y="279.1" fill="#e0e1f0"/><rect y="280.0" fill="#fbfbfd"/><rect y="281.0" fill="#e1e3f1"/><rect y="282.0" fill="#d6d8ec"/><rect y="283.0" fill="#e9eaf5"/><rect y="284.0" fill="#ced0e8"/><rect y="285.0" fill="#dadbee"/><rect y="286.0" fill="#ebecf6"/><rect y="287.0" fill="#eeeff7"/><rect y="288.0" fill="#fdf0f0"/><rect y="289.0" fill="#dfe0f0"/><rect y="290.0" fill="#e0e1f0"/><rect y="291.0" fill="#cdcfe7"/><rect y="292.0" fill="#f3f3f9"/><rect y="293.0" fill="#d4d6eb"/><rect y="294.0" fill="#fdf0f0"/><rect y="295.0" fill="#fefeff"/><rect y="296.0" fill="#fbe2e3"/><rect y="297.0" fill="#f7f8fb"/><rect y="298.0" fill="#edeef7"/><rect y="299.0" fill="#fdeced"/><rect y="300.0" fill="#eeeff7"/><rect y="301.0" fill="#d9dbed"/><rect y="302.0" fill="#f2f3f9"/><rect y="303.0" fill="#fce7e8"/><rect y="304.0" fill="#e8e9f4"/><rect y="305.0" fill="#f1f2f9"/><rect y="306.0" fill="#f9cfd0"/><rect y="307.0" fill="#f9ced0"/><rect y="308.0" fill="#e2e4f2"/><rect y="309.0" fill="#e1e2f1"/><rect y="310.0" fill="#bdc0e0"/><rect y="311.0" fill="#e9eaf5"/><rect y="312.0" fill="#fefbfb"/><rect y="313.0" fill="#fce8e9"/><rect y="314.0" fill="#f7c3c5"/><rect y="315.0" fill="#fce5e6"/><rect y="316.0" fill="#fef8f8"/><rect y="316.9" fill="#f8cbcd"/><rect y="317.9" fill="#f8cbcc"/><rect y="318.9" fill="#f7bcbf"/><rect y="319.9" fill="#e4e5f2"/><rect y="320.9" fill="#f6b8ba"/><rect y="321.9" fill="#fbe1e2"/><rect y="322.9" fill="#fce6e6"/><rect y="323.9" fill="#fef7f7"/><rect y="324.9" fill="#f39ea2"/><rect y="325.9" fill="#f9d4d5"/><rect y="326.9" fill="#f6b8bb"/><rect y="327.9" fill="#f8c9cb"/><rect y="328.9" fill="#fbfbfd"/><rect y="329.9" fill="#fffcfc"/><rect y="330.9" fill="#eeeef7"/><rect y="331.9" fill="#f6b7ba"/><rect y="332.9" fill="#fbdcdd"/><rect y="333.9" fill="#fad9db"/><rect y="334.9" fill="#f29da1"/><rect y="335.9" fill="#f6babc"/><rect y="336.9" fill="#f9cdce"/><rect y="337.9" fill="#f8c8ca"/><rect y="338.9" fill="#f6b6b9"/><rect y="339.9" fill="#f7c4c6"/><rect y="340.9" fill="#ef8186"/><rect y="341.9" fill="#f19195"/><rect y="342.9" fill="#f2979a"/><rect y="343.9" fill="#f7c4c6"/><rect y="344.9" fill="#f39da1"/><rect y="345.9" fill="#fbe0e2"/><rect y="346.9" fill="#f3a1a5"/><rect y="347.9" fill="#f5afb2"/><rect y="348.9" fill="#fad5d7"/><rect y="349.9" fill="#fdf0f1"/><rect y="350.9" fill="#f39ea2"/><rect y="351.9" fill="#fafafc"/><rect y="352.9" fill="#fdefef"/><rect y="353.9" fill="#f3a3a6"/><rect y="354.8" fill="#f19397"/><rect y="355.8" fill="#ee787c"/><rect y="356.8" fill="#fad4d6"/><rect y="357.8" fill="#fbdfe0"/><rect y="358.8" fill="#f9cdcf"/><rect y="359.8" fill="#fad6d8"/><rect y="360.8" fill="#f29b9f"/><rect y="361.8" fill="#ef8084"/><rect y="362.8" fill="#fadbdc"/><rect y="363.8" fill="#fefafa"/><rect y="364.8" fill="#f2999c"/><rect y="365.8" fill="#fce9ea"/><rect y="366.8" fill="#f5adb0"/><rect y="367.8" fill="#f5b2b5"/><rect y="368.8" fill="#f3a3a7"/><rect y="369.8" fill="#f6b5b7"/><rect y="370.8" fill="#f6b6b8"/><rect y="371.8" fill="#ee7d81"/><rect y="372.8" fill="#f5b2b5"/><rect y="373.8" fill="#f9d2d4"/><rect y="374.8" fill="#eff0f7"/><rect y="375.8" fill="#f5b2b5"/><rect y="376.8" fill="#f5b1b4"/><rect y="377.8" fill="#fbdcdd"/><rect y="378.8" fill="#f3a4a7"/><rect y="379.8" fill="#f4a7aa"/><rect y="380.8" fill="#eb6267"/><rect y="381.8" fill="#f0868a"/><rect y="382.8" fill="#f3a3a6"/><rect y="383.8" fill="#ef7e83"/><rect y="384.8" fill="#f9cdcf"/><rect y="385.8" fill="#e84e54"/><rect y="386.8" fill="#f6bcbe"/><rect y="387.8" fill="#e74249"/><rect y="388.8" fill="#f9ced0"/><rect y="389.8" fill="#fbdcde"/><rect y="390.8" fill="#f3a0a4"/><rect y="391.7" fill="#fad6d7"/><rect y="392.7" fill="#f0878c"/><rect y="393.7" fill="#f8c6c8"/><rect y="394.7" fill="#f7bdbf"/><rect y="395.7" fill="#f5afb2"/><rect y="396.7" fill="#f9cdce"/><rect y="397.7" fill="#fbe0e1"/><rect y="398.7" fill="#ee787d"/><rect y="399.7" fill="#ed7176"/><rect y="400.7" fill="#fad4d6"/><rect y="401.7" fill="#ec6e73"/><rect y="402.7" fill="#ef8388"/><rect y="403.7" fill="#ec6b71"/><rect y="404.7" fill="#ea5e63"/><rect y="405.7" fill="#fad4d6"/><rect y="406.7" fill="#ec6a70"/><rect y="407.7" fill="#f4a8ab"/><rect y="408.7" fill="#f8c8ca"/><rect y="409.7" fill="#f29ca0"/><rect y="410.7" fill="#ed7479"/><rect y="411.7" fill="#f2969a"/><rect y="412.7" fill="#f39ea2"/><rect y="413.7" fill="#e63d44"/><rect y="414.7" fill="#f7bcbf"/><rect y="415.7" fill="#e63e44"/><rect y="416.7" fill="#f29da0"/><rect y="417.7" fill="#f5b0b3"/><rect y="418.7" fill="#f6babd"/><rect y="419.7" fill="#f5afb1"/><rect y="420.7" fill="#ef7f83"/><rect y="421.7" fill="#e74046"/><rect y="422.7" fill="#ee767b"/><rect y="423.7" fill="#ed7579"/><rect y="424.7" fill="#fad9da"/><rect y="425.7" fill="#e53138"/><rect y="426.7" fill="#e84e54"/><rect y="427.7" fill="#e84e54"/><rect y="428.7" fill="#ea595f"/><rect y="429.6" fill="#f39fa3"/><rect y="430.6" fill="#f2979b"/><rect y="431.6" fill="#eb6066"/><rect y="432.6" fill="#ea595f"/><rect y="433.6" fill="#eb6268"/><rect y="434.6" fill="#f7c3c5"/><rect y="435.6" fill="#f39fa2"/><rect y="436.6" fill="#f7bec1"/><rect y="437.6" fill="#ec6c71"/><rect y="438.6" fill="#fbddde"/><rect y="439.6" fill="#f8c6c8"/><rect y="440.6" fill="#ee787d"/><rect y="441.6" fill="#f6b7b9"/><rect y="442.6" fill="#f18e92"/><rect y="443.6" fill="#f2979b"/><rect y="444.6" fill="#f6b6b8"/><rect y="445.6" fill="#f7c2c4"/><rect y="446.6" fill="#f9ccce"/><rect y="447.6" fill="#f5b0b3"/><rect y="448.6" fill="#f6b6b9"/><rect y="449.6" fill="#f9ced0"/><rect y="450.6" fill="#ef7e83"/><rect y="451.6" fill="#f5f6fa"/><rect y="452.6" fill="#ec6a6f"/><rect y="453.6" fill="#fbe3e4"/><rect y="454.6" fill="#f7bfc1"/><rect y="455.6" fill="#f29a9d"/><rect y="456.6" fill="#ffffff"/><rect y="457.6" fill="#ee797e"/><rect y="458.6" fill="#d5d7ec"/><rect y="459.6" fill="#f9d3d5"/><rect y="460.6" fill="#ea595f"/><rect y="461.6" fill="#ef8287"/><rect y="462.6" fill="#fad8da"/><rect y="463.6" fill="#e8eaf4"/><rect y="464.6" fill="#fef9f9"/><rect y="465.6" fill="#d3d5ea"/><rect y="466.5" fill="#fbdddf"/><rect y="467.5" fill="#fffefe"/><rect y="468.5" fill="#f9d0d2"/><rect y="469.5" fill="#ced1e8"/><rect y="470.5" fill="#f4f5fa"/><rect y="471.5" fill="#fffcfc"/><rect y="472.5" fill="#fce5e6"/><rect y="473.5" fill="#fce6e6"/><rect y="474.5" fill="#fbddde"/><rect y="475.5" fill="#f5aeb0"/><rect y="476.5" fill="#f8f9fc"/><rect y="477.5" fill="#9a9fd0"/><rect y="478.5" fill="#e0e2f1"/><rect y="479.5" fill="#fdfdfe"/><rect y="480.5" fill="#d3d5ea"/><rect y="481.5" fill="#f8c5c7"/><rect y="482.5" fill="#babddf"/><rect y="483.5" fill="#fce8e9"/><rect y="484.5" fill="#e1e3f1"/><rect y="485.5" fill="#fdf2f2"/><rect y="486.5" fill="#fad4d6"/><rect y="487.5" fill="#fdf0f0"/><rect y="488.5" fill="#e3e4f2"/><rect y="489.5" fill="#fdf0f1"/><rect y="490.5" fill="#fef7f7"/><rect y="491.5" fill="#fef4f5"/><rect y="492.5" fill="#fdeeef"/><rect y="493.5" fill="#fcebeb"/><rect y="494.5" fill="#e9eaf5"/><rect y="495.5" fill="#fdf0f0"/><rect y="496.5" fill="#fef6f7"/><rect y="497.5" fill="#f8c8ca"/><rect y="498.5" fill="#f9d1d2"/><rect y="499.5" fill="#f4f5fa"/><rect y="500.5" fill="#b8bcde"/><rect y="501.5" fill="#e6e7f3"/><rect y="502.5" fill="#fefbfb"/><rect y="503.5" fill="#fefeff"/><rect y="504.4" fill="#f8cacc"/><rect y="505.4" fill="#ecedf6"/><rect y="506.4" fill="#b0b4da"/><rect y="507.4" fill="#fce5e6"/><rect y="508.4" fill="#fdf1f2"/><rect y="509.4" fill="#d9daed"/><rect y="510.4" fill="#fdedee"/><rect y="511.4" fill="#f4a9ac"/><rect y="512.4" fill="#d2d5ea"/><rect y="513.4" fill="#f6f6fb"/><rect y="514.4" fill="#e3e5f2"/><rect y="515.4" fill="#fafafd"/><rect y="516.4" fill="#b1b5db"/><rect y="517.4" fill="#e7e8f4"/><rect y="518.4" fill="#fbe1e2"/><rect y="519.4" fill="#eff0f8"/><rect y="520.4" fill="#cacde6"/><rect y="521.4" fill="#d2d5ea"/>
</g>
<g transform="translate(76.33,0)">
<rect y="223.2" fill="#969cce"/><rect y="224.2" fill="#b3b7dc"/><rect y="225.2" fill="#8f95cb"/><rect y="226.2" fill="#878dc7"/><rect y="227.2" fill="#797fc0"/><rect y="228.2" fill="#787fc0"/><rect y="229.2" fill="#a0a5d3"/><rect y="230.2" fill="#7e85c3"/><rect y="231.2" fill="#bdc1e0"/><rect y="232.2" fill="#b1b5db"/><rect y="233.2" fill="#bfc2e1"/><rect y="234.2" fill="#9ca1d1"/><rect y="235.2" fill="#dedfef"/><rect y="236.2" fill="#b5b8dc"/><rect y="237.2" fill="#bec1e0"/><rect y="238.2" fill="#8c91c9"/><rect y="239.2" fill="#898fc8"/><rect y="240.2" fill="#c2c5e2"/><rect y="241.2" fill="#bfc2e1"/><rect y="242.1" fill="#7c82c2"/><rect y="243.1" fill="#969cce"/><rect y="244.1" fill="#9a9fd0"/><rect y="245.1" fill="#afb3d9"/><rect y="246.1" fill="#9a9fd0"/><rect y="247.1" fill="#a5aad5"/><rect y="248.1" fill="#cccfe7"/><rect y="249.1" fill="#cbcee7"/><rect y="250.1" fill="#e0e1f0"/><rect y="251.1" fill="#c8cae5"/><rect y="252.1" fill="#acb0d8"/><rect y="253.1" fill="#bcbfe0"/><rect y="254.1" fill="#aaafd7"/><rect y="255.1" fill="#dedfef"/><rect y="256.1" fill="#d7d9ec"/><rect y="257.1" fill="#d9dbed"/><rect y="258.1" fill="#c7c9e5"/><rect y="259.1" fill="#cccee7"/><rect y="260.1" fill="#abafd8"/><rect y="261.1" fill="#797fc0"/><rect y="262.1" fill="#aeb2d9"/><rect y="263.1" fill="#a5aad5"/><rect y="264.1" fill="#8288c4"/><rect y="265.1" fill="#aeb2d9"/><rect y="266.1" fill="#a8acd6"/><rect y="267.1" fill="#7f85c3"/><rect y="268.1" fill="#d7d9ec"/><rect y="269.1" fill="#9197cc"/><rect y="270.1" fill="#b7badd"/><rect y="271.1" fill="#b3b7db"/><rect y="272.1" fill="#dddfef"/><rect y="273.1" fill="#a9aed7"/><rect y="274.1" fill="#8a90c9"/><rect y="275.1" fill="#7e84c3"/><rect y="276.1" fill="#e0e2f1"/><rect y="277.1" fill="#abafd8"/><rect y="278.1" fill="#e0e1f0"/><rect y="279.1" fill="#afb3d9"/><rect y="280.0" fill="#eff0f8"/><rect y="281.0" fill="#ebecf6"/><rect y="282.0" fill="#a8acd6"/><rect y="283.0" fill="#afb3d9"/><rect y="284.0" fill="#b5b9dd"/><rect y="285.0" fill="#d5d8ec"/><rect y="286.0" fill="#888ec7"/><rect y="287.0" fill="#a6abd5"/><rect y="288.0" fill="#c6c9e5"/><rect y="289.0" fill="#bfc2e1"/><rect y="290.0" fill="#b6badd"/><rect y="291.0" fill="#c7c9e5"/><rect y="292.0" fill="#cdd0e8"/><rect y="293.0" fill="#c8cae5"/><rect y="294.0" fill="#c7cae5"/><rect y="295.0" fill="#d7d9ec"/><rect y="296.0" fill="#bec1e1"/><rect y="297.0" fill="#a7abd6"/><rect y="298.0" fill="#cdd0e8"/><rect y="299.0" fill="#eff0f8"/><rect y="300.0" fill="#e4e5f2"/><rect y="301.0" fill="#c7cae5"/><rect y="302.0" fill="#bfc2e1"/><rect y="303.0" fill="#c5c8e4"/><rect y="304.0" fill="#c7c9e5"/><rect y="305.0" fill="#d7d9ec"/><rect y="306.0" fill="#fafbfd"/><rect y="307.0" fill="#fefeff"/><rect y="308.0" fill="#b3b7dc"/><rect y="309.0" fill="#a7abd6"/><rect y="310.0" fill="#959ace"/><rect y="311.0" fill="#c4c7e3"/><rect y="312.0" fill="#d7d9ec"/><rect y="313.0" fill="#e2e3f1"/><rect y="314.0" fill="#fef9f9"/><rect y="315.0" fill="#e9eaf5"/><rect y="316.0" fill="#d9dbed"/><rect y="316.9" fill="#f9cfd0"/><rect y="317.9" fill="#f8c6c8"/><rect y="318.9" fill="#fdfdfe"/><rect y="319.9" fill="#c9cbe6"/><rect y="320.9" fill="#e6e8f3"/><rect y="321.9" fill="#e3e4f2"/><rect y="322.9" fill="#e1e2f1"/><rect y="323.9" fill="#ced1e8"/><rect y="324.9" fill="#fbe1e2"/><rect y="325.9" fill="#fce5e6"/><rect y="326.9" fill="#fcebeb"/><rect y="327.9" fill="#fef6f7"/><rect y="328.9" fill="#f7f8fb"/><rect y="329.9" fill="#edeef6"/><rect y="330.9" fill="#bec1e0"/><rect y="331.9" fill="#fdeeee"/><rect y="332.9" fill="#eaebf5"/><rect y="333.9" fill="#fef4f4"/><rect y="334.9" fill="#fdeced"/><rect y="335.9" fill="#fcfcfe"/><rect y="336.9" fill="#fefbfb"/><rect y="337.9" fill="#f1f2f9"/><rect y="338.9" fill="#ffffff"/><rect y="339.9" fill="#fffefe"/><rect y="340.9" fill="#f7c2c4"/><rect y="341.9" fill="#f7c1c3"/><rect y="342.9" fill="#f7c1c3"/><rect y="343.9" fill="#fad7d8"/><rect y="344.9" fill="#fef7f7"/><rect y="345.9" fill="#f3f4f9"/><rect y="346.9" fill="#fce5e6"/><rect y="347.9" fill="#fefbfb"/><rect y="348.9" fill="#ecedf6"/><rect y="349.9" fill="#f0f0f8"/><rect y="350.9" fill="#f4a7ab"/><rect y="351.9" fill="#e3e5f2"/><rect y="352.9" fill="#f8f8fc"/><rect y="353.9" fill="#f7c3c5"/><rect y="354.8" fill="#f9d1d3"/><rect y="355.8" fill="#f6b6b9"/><rect y="356.8" fill="#fbdfe0"/><rect y="357.8" fill="#f9d1d2"/><rect y="358.8" fill="#e8e9f4"/><rect y="359.8" fill="#fefafa"/><rect y="360.8" fill="#f8c5c7"/><rect y="361.8" fill="#fad5d7"/><rect y="362.8" fill="#fadadb"/><rect y="363.8" fill="#d5d7eb"/><rect y="364.8" fill="#f29a9e"/><rect y="365.8" fill="#dcdeef"/><rect y="366.8" fill="#f4a9ac"/><rect y="367.8" fill="#fbe0e1"/><rect y="368.8" fill="#fce8e9"/><rect y="369.8" fill="#fdefef"/><rect y="370.8" fill="#f9cfd0"/><rect y="371.8" fill="#f5b4b7"/><rect y="372.8" fill="#fce7e7"/><rect y="373.8" fill="#ebecf6"/><rect y="374.8" fill="#cccee7"/><rect y="375.8" fill="#d0d3e9"/><rect y="376.8" fill="#f5adb0"/><rect y="377.8" fill="#f8c9cb"/><rect y="378.8" fill="#fad4d6"/><rect y="379.8" fill="#fef5f5"/><rect y="380.8" fill="#ef7e83"/><rect y="381.8" fill="#f8cacc"/><rect y="382.8" fill="#f6bbbd"/><rect y="383.8" fill="#f3a0a3"/><rect y="384.8" fill="#fbe3e4"/><rect y="385.8" fill="#ef8488"/><rect y="386.8" fill="#fadbdc"/><rect y="387.8" fill="#ee7d82"/><rect y="388.8" fill="#fbdfe1"/><rect y="389.8" fill="#fffcfd"/><rect y="390.8" fill="#f7c1c3"/><rect y="391.7" fill="#fffdfd"/><rect y="392.7" fill="#f9d1d2"/><rect y="393.7" fill="#f8cbcd"/><rect y="394.7" fill="#fbe1e2"/><rect y="395.7" fill="#fadadb"/><rect y="396.7" fill="#fcfcfd"/><rect y="397.7" fill="#f4f5fa"/><rect y="398.7" fill="#f3a4a7"/><rect y="399.7" fill="#f0898d"/><rect y="400.7" fill="#fadbdc"/><rect y="401.7" fill="#f19396"/><rect y="402.7" fill="#f5b4b6"/><rect y="403.7" fill="#f08b8f"/><rect y="404.7" fill="#f08b8f"/><rect y="405.7" fill="#fffbfb"/><rect y="406.7" fill="#f08d91"/><rect y="407.7" fill="#f7c4c6"/><rect y="408.7" fill="#fef3f4"/><rect y="409.7" fill="#f6bbbe"/><rect y="410.7" fill="#f8c6c8"/><rect y="411.7" fill="#f9d0d1"/><rect y="412.7" fill="#fad4d6"/><rect y="413.7" fill="#ee7e82"/><rect y="414.7" fill="#f8c7c9"/><rect y="415.7" fill="#ec6a6f"/><rect y="416.7" fill="#f7bdc0"/><rect y="417.7" fill="#fef9f9"/><rect y="418.7" fill="#fbdfe0"/><rect y="419.7" fill="#f6babd"/><rect y="420.7" fill="#f8cacc"/><rect y="421.7" fill="#ee7a7e"/><rect y="422.7" fill="#f19396"/><rect y="423.7" fill="#f19397"/><rect y="424.7" fill="#fad8da"/><rect y="425.7" fill="#ea5a60"/><rect y="426.7" fill="#f5aeb1"/><rect y="427.7" fill="#f08c90"/><rect y="428.7" fill="#f5b1b4"/><rect y="429.6" fill="#fad4d6"/><rect y="430.6" fill="#fce6e7"/><rect y="431.6" fill="#f19599"/><rect y="432.6" fill="#ed7479"/><rect y="433.6" fill="#ef8085"/><rect y="434.6" fill="#f6babd"/><rect y="435.6" fill="#f19397"/><rect y="436.6" fill="#f9d2d4"/><rect y="437.6" fill="#f5b4b7"/><rect y="438.6" fill="#fdedee"/><rect y="439.6" fill="#fdeff0"/><rect y="440.6" fill="#f19599"/><rect y="441.6" fill="#fbe0e1"/><rect y="442.6" fill="#f7bdbf"/><rect y="443.6" fill="#f9cfd1"/><rect y="444.6" fill="#fdf2f2"/><rect y="445.6" fill="#fbe0e1"/><rect y="446.6" fill="#fefafa"/><rect y="447.6" fill="#fadbdc"/><rect y="448.6" fill="#fbdee0"/><rect y="449.6" fill="#fef9f9"/><rect y="450.6" fill="#f6bbbd"/><rect y="451.6" fill="#b2b6db"/><rect y="452.6" fill="#f3a4a7"/><rect y="453.6" fill="#fbdcdd"/><rect y="454.6" fill="#fef9f9"/><rect y="455.6" fill="#f6bbbe"/><rect y="456.6" fill="#c1c4e2"/><rect y="457.6" fill="#f6b8ba"/><rect y="458.6" fill="#dadcee"/><rect y="459.6" fill="#fef6f6"/><rect y="460.6" fill="#f08c90"/><rect y="461.6" fill="#f5aeb0"/><rect y="462.6" fill="#fceaeb"/><rect y="463.6" fill="#e1e3f1"/><rect y="464.6" fill="#ecedf6"/><rect y="465.6" fill="#d8daed"/><rect y="466.5" fill="#eaebf5"/><rect y="467.5" fill="#ffffff"/><rect y="468.5" fill="#fef6f7"/><rect y="469.5" fill="#9fa4d2"/><rect y="470.5" fill="#e4e5f2"/><rect y="471.5" fill="#cdcfe8"/><rect y="472.5" fill="#dee0f0"/><rect y="473.5" fill="#fdecec"/><rect y="474.5" fill="#fce4e5"/><rect y="475.5" fill="#f8c8ca"/><rect y="476.5" fill="#dadcee"/><rect y="477.5" fill="#8389c5"/><rect y="478.5" fill="#c5c8e4"/><rect y="479.5" fill="#e9eaf5"/><rect y="480.5" fill="#d0d3e9"/><rect y="481.5" fill="#dadcee"/><rect y="482.5" fill="#9196cb"/><rect y="483.5" fill="#f3f3f9"/><rect y="484.5" fill="#b4b8dc"/><rect y="485.5" fill="#e0e1f0"/><rect y="486.5" fill="#f6f7fb"/><rect y="487.5" fill="#d8daed"/><rect y="488.5" fill="#e1e3f1"/><rect y="489.5" fill="#e3e5f2"/><rect y="490.5" fill="#d7d9ec"/><rect y="491.5" fill="#eff0f8"/><rect y="492.5" fill="#f2f2f9"/><rect y="493.5" fill="#e7e8f4"/><rect y="494.5" fill="#d8daed"/><rect y="495.5" fill="#f5f6fa"/><rect y="496.5" fill="#e6e7f3"/><rect y="497.5" fill="#fffcfc"/><rect y="498.5" fill="#eaebf5"/><rect y="499.5" fill="#f6f7fb"/><rect y="500.5" fill="#9a9fd0"/><rect y="501.5" fill="#cbcee7"/><rect y="502.5" fill="#abafd8"/><rect y="503.5" fill="#cccfe7"/><rect y="504.4" fill="#fbddde"/><rect y="505.4" fill="#c3c6e3"/><rect y="506.4" fill="#b0b4da"/><rect y="507.4" fill="#e9eaf5"/><rect y="508.4" fill="#f1f2f8"/><rect y="509.4" fill="#d3d5ea"/><rect y="510.4" fill="#c5c8e4"/><rect y="511.4" fill="#f9d4d5"/><rect y="512.4" fill="#a1a5d3"/><rect y="513.4" fill="#a4a9d4"/><rect y="514.4" fill="#e9eaf5"/><rect y="515.4" fill="#d3d5ea"/><rect y="516.4" fill="#a5aad5"/><rect y="517.4" fill="#c9cce6"/><rect y="518.4" fill="#ffffff"/><rect y="519.4" fill="#d6d8ec"/><rect y="520.4" fill="#aeb2d9"/><rect y="521.4" fill="#a4a8d4"/>
</g>
<g transform="translate(87.75,0)">
<rect y="223.2" fill="#888ec7"/><rect y="224.2" fill="#c4c7e4"/><rect y="225.2" fill="#878dc7"/><rect y="226.2" fill="#9fa4d2"/><rect y="227.2" fill="#9ba0d0"/><rect y="228.2" fill="#8a90c8"/><rect y="229.2" fill="#b1b5db"/><rect y="230.2" fill="#9095cb"/><rect y="231.2" fill="#e8e9f4"/><rect y="232.2" fill="#ced0e8"/><rect y="233.2" fill="#c9cce6"/><rect y="234.2" fill="#a3a7d4"/><rect y="235.2" fill="#d4d6eb"/><rect y="236.2" fill="#bcbfe0"/><rect y="237.2" fill="#bcc0e0"/><rect y="238.2" fill="#b2b6db"/><rect y="239.2" fill="#989ecf"/><rect y="240.2" fill="#c7cae5"/><rect y="241.2" fill="#f8f8fc"/><rect y="242.1" fill="#8a90c8"/><rect y="243.1" fill="#8c92c9"/><rect y="244.1" fill="#979cce"/><rect y="245.1" fill="#d7d9ec"/><rect y="246.1" fill="#a8acd6"/><rect y="247.1" fill="#a8acd6"/><rect y="248.1" fill="#e1e2f1"/><rect y="249.1" fill="#d7d9ec"/><rect y="250.1" fill="#fefefe"/><rect y="251.1" fill="#c1c4e2"/><rect y="252.1" fill="#9a9fd0"/><rect y="253.1" fill="#cfd1e9"/><rect y="254.1" fill="#a1a6d3"/><rect y="255.1" fill="#f0f1f8"/><rect y="256.1" fill="#edeef6"/><rect y="257.1" fill="#c9cbe6"/><rect y="258.1" fill="#bfc2e1"/><rect y="259.1" fill="#c8cbe5"/><rect y="260.1" fill="#a9add7"/><rect y="261.1" fill="#a8acd6"/><rect y="262.1" fill="#cbcde6"/><rect y="263.1" fill="#a8acd6"/><rect y="264.1" fill="#9ba0d0"/><rect y="265.1" fill="#b1b5da"/><rect y="266.1" fill="#b0b4da"/><rect y="267.1" fill="#9398cc"/><rect y="268.1" fill="#cdd0e8"/><rect y="269.1" fill="#888ec7"/><rect y="270.1" fill="#bdc0e0"/><rect y="271.1" fill="#d2d4ea"/><rect y="272.1" fill="#efeff7"/><rect y="273.1" fill="#aaaed7"/><rect y="274.1" fill="#979cce"/><rect y="275.1" fill="#8b91c9"/><rect y="276.1" fill="#b5b9dd"/><rect y="277.1" fill="#d3d5ea"/><rect y="278.1" fill="#f8f8fc"/><rect y="279.1" fill="#c2c5e3"/><rect y="280.0" fill="#fef4f5"/><rect y="281.0" fill="#fffefe"/><rect y="282.0" fill="#cacde6"/><rect y="283.0" fill="#dbddee"/><rect y="284.0" fill="#dadcee"/><rect y="285.0" fill="#d9dbed"/><rect y="286.0" fill="#a2a7d4"/><rect y="287.0" fill="#cacde6"/><rect y="288.0" fill="#d8daed"/><rect y="289.0" fill="#b5b9dc"/><rect y="290.0" fill="#abb0d8"/><rect y="291.0" fill="#bdc0e0"/><rect y="292.0" fill="#c7cae5"/><rect y="293.0" fill="#e0e2f1"/><rect y="294.0" fill="#fcebec"/><rect y="295.0" fill="#f3f4f9"/><rect y="296.0" fill="#d5d7eb"/><rect y="297.0" fill="#d6d8ec"/><rect y="298.0" fill="#dfe1f0"/><rect y="299.0" fill="#f9f9fc"/><rect y="300.0" fill="#d5d7eb"/><rect y="301.0" fill="#d6d8ec"/><rect y="302.0" fill="#d6d8ec"/><rect y="303.0" fill="#d0d3e9"/><rect y="304.0" fill="#ced1e8"/><rect y="305.0" fill="#e9eaf5"/><rect y="306.0" fill="#fdeced"/><rect y="307.0" fill="#f9d3d5"/><rect y="308.0" fill="#e9eaf4"/><rect y="309.0" fill="#c2c6e3"/><rect y="310.0" fill="#b7badd"/><rect y="311.0" fill="#f7f7fb"/><rect y="312.0" fill="#e7e8f4"/><rect y="313.0" fill="#fdfdfe"/><rect y="314.0" fill="#f6f6fb"/><rect y="315.0" fill="#fce6e7"/><rect y="316.0" fill="#fffcfd"/><rect y="316.9" fill="#fdefef"/><rect y="317.9" fill="#f7c2c4"/><rect y="318.9" fill="#fbdedf"/><rect y="319.9" fill="#cacce6"/><rect y="320.9" fill="#fef8f9"/><rect y="321.9" fill="#fceaeb"/><rect y="322.9" fill="#eff0f8"/><rect y="323.9" fill="#ebecf6"/><rect y="324.9" fill="#f9d2d3"/><rect y="325.9" fill="#f8f8fc"/><rect y="326.9" fill="#fad4d6"/><rect y="327.9" fill="#fbe1e2"/><rect y="328.9" fill="#fef6f6"/><rect y="329.9" fill="#e2e3f1"/><rect y="330.9" fill="#afb3d9"/><rect y="331.9" fill="#fefbfb"/><rect y="332.9" fill="#f3f4f9"/><rect y="333.9" fill="#fbe3e4"/><rect y="334.9" fill="#f9d1d2"/><rect y="335.9" fill="#fad7d9"/><rect y="336.9" fill="#fbe0e1"/><rect y="337.9" fill="#e9eaf5"/><rect y="338.9" fill="#fbe1e3"/><rect y="339.9" fill="#fce6e7"/><rect y="340.9" fill="#f9ced0"/><rect y="341.9" fill="#f6b5b8"/><rect y="342.9" fill="#f5b3b6"/><rect y="343.9" fill="#fadbdc"/><rect y="344.9" fill="#f9d1d3"/><rect y="345.9" fill="#fafafc"/><rect y="346.9" fill="#f8cacb"/><rect y="347.9" fill="#fffdfd"/><rect y="348.9" fill="#fdefef"/><rect y="349.9" fill="#fffbfb"/><rect y="350.9" fill="#f3a5a8"/><rect y="351.9" fill="#e5e6f3"/><rect y="352.9" fill="#fffcfc"/><rect y="353.9" fill="#f6bbbd"/><rect y="354.8" fill="#fce7e8"/><rect y="355.8" fill="#f4a7aa"/><rect y="356.8" fill="#f9d2d3"/><rect y="357.8" fill="#fdecec"/><rect y="358.8" fill="#fffbfb"/><rect y="359.8" fill="#fef4f4"/><rect y="360.8" fill="#f7c4c6"/><rect y="361.8" fill="#f6b6b8"/><rect y="362.8" fill="#fbe1e2"/><rect y="363.8" fill="#e7e8f4"/><rect y="364.8" fill="#f5b3b5"/><rect y="365.8" fill="#f7f7fb"/><rect y="366.8" fill="#f6babc"/><rect y="367.8" fill="#f8c5c7"/><rect y="368.8" fill="#f7c1c3"/><rect y="369.8" fill="#f5b4b6"/><rect y="370.8" fill="#fbdfe0"/><rect y="371.8" fill="#f39ea2"/><rect y="372.8" fill="#fbe3e4"/><rect y="373.8" fill="#fce6e7"/><rect y="374.8" fill="#d3d5ea"/><rect y="375.8" fill="#fafafd"/><rect y="376.8" fill="#fadcdd"/><rect y="377.8" fill="#f8cbcd"/><rect y="378.8" fill="#f6bcbe"/><rect y="379.8" fill="#f8c9ca"/><rect y="380.8" fill="#f08d91"/><rect y="381.8" fill="#f3a0a3"/><rect y="382.8" fill="#fad7d8"/><rect y="383.8" fill="#f4abad"/><rect y="384.8" fill="#fef4f4"/><rect y="385.8" fill="#eb666b"/><rect y="386.8" fill="#f9d3d4"/><rect y="387.8" fill="#eb656a"/><rect y="388.8" fill="#f9ced0"/><rect y="389.8" fill="#fdfdfe"/><rect y="390.8" fill="#f6bbbe"/><rect y="391.7" fill="#fbe1e2"/><rect y="392.7" fill="#f3a3a6"/><rect y="393.7" fill="#fbdcdd"/><rect y="394.7" fill="#fcfcfd"/><rect y="395.7" fill="#f7bec1"/><rect y="396.7" fill="#ffffff"/><rect y="397.7" fill="#fce4e5"/><rect y="398.7" fill="#f29c9f"/><rect y="399.7" fill="#ee797e"/><rect y="400.7" fill="#fad4d5"/><rect y="401.7" fill="#eb6369"/><rect y="402.7" fill="#f2989c"/><rect y="403.7" fill="#f18e92"/><rect y="404.7" fill="#ef8286"/><rect y="405.7" fill="#fef8f9"/><rect y="406.7" fill="#eb6268"/><rect y="407.7" fill="#f2969a"/><rect y="408.7" fill="#f5adb0"/><rect y="409.7" fill="#f5b1b4"/><rect y="410.7" fill="#f2979b"/><rect y="411.7" fill="#f6babc"/><rect y="412.7" fill="#f9ccce"/><rect y="413.7" fill="#e95056"/><rect y="414.7" fill="#f8c6c8"/><rect y="415.7" fill="#eb6066"/><rect y="416.7" fill="#fad7d8"/><rect y="417.7" fill="#f9d1d2"/><rect y="418.7" fill="#f7c3c5"/><rect y="419.7" fill="#f19498"/><rect y="420.7" fill="#f8c5c7"/><rect y="421.7" fill="#eb656a"/><rect y="422.7" fill="#f5b0b2"/><rect y="423.7" fill="#ef8589"/><rect y="424.7" fill="#fbdcdd"/><rect y="425.7" fill="#ef8084"/><rect y="426.7" fill="#f4aaad"/><rect y="427.7" fill="#f08d91"/><rect y="428.7" fill="#f29a9d"/><rect y="429.6" fill="#f6b9bc"/><rect y="430.6" fill="#fad9da"/><rect y="431.6" fill="#ef868a"/><rect y="432.6" fill="#f08d91"/><rect y="433.6" fill="#f4a5a8"/><rect y="434.6" fill="#f9cfd1"/><rect y="435.6" fill="#fbe1e2"/><rect y="436.6" fill="#fce5e6"/><rect y="437.6" fill="#f6b9bb"/><rect y="438.6" fill="#e4e5f2"/><rect y="439.6" fill="#fbe1e2"/><rect y="440.6" fill="#f29da0"/><rect y="441.6" fill="#fefeff"/><rect y="442.6" fill="#f7bfc1"/><rect y="443.6" fill="#fceaea"/><rect y="444.6" fill="#fef6f6"/><rect y="445.6" fill="#fbdedf"/><rect y="446.6" fill="#fafafd"/><rect y="447.6" fill="#f8c8ca"/><rect y="448.6" fill="#eff0f7"/><rect y="449.6" fill="#fceaea"/><rect y="450.6" fill="#f9d0d1"/><rect y="451.6" fill="#c0c3e1"/><rect y="452.6" fill="#f4acaf"/><rect y="453.6" fill="#fffdfd"/><rect y="454.6" fill="#fef4f5"/><rect y="455.6" fill="#fad8d9"/><rect y="456.6" fill="#c7cae5"/><rect y="457.6" fill="#f6b5b8"/><rect y="458.6" fill="#c5c8e4"/><rect y="459.6" fill="#f8cbcc"/><rect y="460.6" fill="#e9545a"/><rect y="461.6" fill="#f7c1c3"/><rect y="462.6" fill="#e7e8f4"/><rect y="463.6" fill="#c0c3e1"/><rect y="464.6" fill="#ebecf6"/><rect y="465.6" fill="#d7d9ec"/><rect y="466.5" fill="#dbdcee"/><rect y="467.5" fill="#cacde6"/><rect y="468.5" fill="#fdf2f3"/><rect y="469.5" fill="#9ea3d2"/><rect y="470.5" fill="#edeef6"/><rect y="471.5" fill="#e3e4f2"/><rect y="472.5" fill="#fefbfb"/><rect y="473.5" fill="#e2e4f2"/><rect y="474.5" fill="#ebecf6"/><rect y="475.5" fill="#fce9ea"/><rect y="476.5" fill="#dddfef"/><rect y="477.5" fill="#787fc0"/><rect y="478.5" fill="#d9dbed"/><rect y="479.5" fill="#d2d4ea"/><rect y="480.5" fill="#c7cae5"/><rect y="481.5" fill="#eff0f8"/><rect y="482.5" fill="#afb3d9"/><rect y="483.5" fill="#dcddef"/><rect y="484.5" fill="#bcc0e0"/><rect y="485.5" fill="#f3f4f9"/><rect y="486.5" fill="#f4f5fa"/><rect y="487.5" fill="#c0c4e2"/><rect y="488.5" fill="#c6c9e4"/><rect y="489.5" fill="#ebecf5"/><rect y="490.5" fill="#ced0e8"/><rect y="491.5" fill="#c4c7e3"/><rect y="492.5" fill="#d9dbed"/><rect y="493.5" fill="#d5d7eb"/><rect y="494.5" fill="#d4d6eb"/><rect y="495.5" fill="#e3e4f2"/><rect y="496.5" fill="#d6d8ec"/><rect y="497.5" fill="#d2d4ea"/><rect y="498.5" fill="#f9fafc"/><rect y="499.5" fill="#e2e3f1"/><rect y="500.5" fill="#9499cd"/><rect y="501.5" fill="#b2b6db"/><rect y="502.5" fill="#dbddee"/><rect y="503.5" fill="#c9cbe6"/><rect y="504.4" fill="#fdeeef"/><rect y="505.4" fill="#c2c5e2"/><rect y="506.4" fill="#9499cd"/><rect y="507.4" fill="#cccfe7"/><rect y="508.4" fill="#fef4f5"/><rect y="509.4" fill="#969cce"/><rect y="510.4" fill="#d0d2e9"/><rect y="511.4" fill="#f9d0d1"/><rect y="512.4" fill="#b5b8dc"/><rect y="513.4" fill="#c8cbe5"/><rect y="514.4" fill="#c7cae5"/><rect y="515.4" fill="#d7d9ec"/><rect y="516.4" fill="#8c92c9"/><rect y="517.4" fill="#c1c4e2"/><rect y="518.4" fill="#e9eaf5"/><rect y="519.4" fill="#bcbfe0"/><rect y="520.4" fill="#b5b9dc"/><rect y="521.4" fill="#999ecf"/>
</g>
<g transform="translate(99.18,0)">
<rect y="223.2" fill="#9ba0d0"/><rect y="224.2" fill="#cacde6"/><rect y="225.2" fill="#bdc0e0"/><rect y="226.2" fill="#bcc0e0"/><rect y="227.2" fill="#858bc6"/><rect y="228.2" fill="#8b91c9"/><rect y="229.2" fill="#c5c8e4"/><rect y="230.2" fill="#737abd"/><rect y="231.2" fill="#dedfef"/><rect y="232.2" fill="#fafafd"/><rect y="233.2" fill="#f3f4f9"/><rect y="234.2" fill="#858cc6"/><rect y="235.2" fill="#e5e7f3"/><rect y="236.2" fill="#ced0e8"/><rect y="237.2" fill="#bec2e1"/><rect y="238.2" fill="#9a9fd0"/><rect y="239.2" fill="#8c92c9"/><rect y="240.2" fill="#dfe1f0"/><rect y="241.2" fill="#dbdcee"/><rect y="242.1" fill="#9a9fd0"/><rect y="243.1" fill="#7c83c2"/><rect y="244.1" fill="#9297cc"/><rect y="245.1" fill="#c5c8e4"/><rect y="246.1" fill="#d9dbed"/><rect y="247.1" fill="#a6abd5"/><rect y="248.1" fill="#fcfcfd"/><rect y="249.1" fill="#ced1e8"/><rect y="250.1" fill="#e8e9f4"/><rect y="251.1" fill="#e1e3f1"/><rect y="252.1" fill="#c6c9e5"/><rect y="253.1" fill="#cbcde6"/><rect y="254.1" fill="#9ea3d2"/><rect y="255.1" fill="#dadbee"/><rect y="256.1" fill="#f0f1f8"/><rect y="257.1" fill="#cccee7"/><rect y="258.1" fill="#dadcee"/><rect y="259.1" fill="#dee0f0"/><rect y="260.1" fill="#c0c3e2"/><rect y="261.1" fill="#8a8fc8"/><rect y="262.1" fill="#999ecf"/><rect y="263.1" fill="#d8daed"/><rect y="264.1" fill="#8b90c9"/><rect y="265.1" fill="#babedf"/><rect y="266.1" fill="#a7abd6"/><rect y="267.1" fill="#8f94ca"/><rect y="268.1" fill="#c9cce6"/><rect y="269.1" fill="#c6c8e4"/><rect y="270.1" fill="#d0d3e9"/><rect y="271.1" fill="#b3b7db"/><rect y="272.1" fill="#e1e2f1"/><rect y="273.1" fill="#d8daed"/><rect y="274.1" fill="#9ea3d2"/><rect y="275.1" fill="#969bce"/><rect y="276.1" fill="#e4e6f3"/><rect y="277.1" fill="#dddeef"/><rect y="278.1" fill="#e7e8f4"/><rect y="279.1" fill="#d0d3e9"/><rect y="280.0" fill="#edeef7"/><rect y="281.0" fill="#c9cce6"/><rect y="282.0" fill="#a1a5d3"/><rect y="283.0" fill="#b2b6db"/><rect y="284.0" fill="#f2f3f9"/><rect y="285.0" fill="#e7e8f4"/><rect y="286.0" fill="#b3b7dc"/><rect y="287.0" fill="#d3d5eb"/><rect y="288.0" fill="#fcfcfe"/><rect y="289.0" fill="#ced0e8"/><rect y="290.0" fill="#cccfe7"/><rect y="291.0" fill="#d2d4ea"/><rect y="292.0" fill="#c3c6e3"/><rect y="293.0" fill="#dddeef"/><rect y="294.0" fill="#fafafd"/><rect y="295.0" fill="#fef4f4"/><rect y="296.0" fill="#e3e4f2"/><rect y="297.0" fill="#ced0e8"/><rect y="298.0" fill="#fefafa"/><rect y="299.0" fill="#dddfef"/><rect y="300.0" fill="#d7d9ec"/><rect y="301.0" fill="#e8e9f4"/><rect y="302.0" fill="#dcddee"/><rect y="303.0" fill="#dbddee"/><rect y="304.0" fill="#f2f3f9"/><rect y="305.0" fill="#f6f7fb"/><rect y="306.0" fill="#fceaeb"/><rect y="307.0" fill="#fbdcde"/><rect y="308.0" fill="#cacde6"/><rect y="309.0" fill="#c0c3e2"/><rect y="310.0" fill="#afb3da"/><rect y="311.0" fill="#f2f2f9"/><rect y="312.0" fill="#f2f2f9"/><rect y="313.0" fill="#fffefe"/><rect y="314.0" fill="#fbdee0"/><rect y="315.0" fill="#fef6f6"/><rect y="316.0" fill="#fffbfb"/><rect y="316.9" fill="#fce7e8"/><rect y="317.9" fill="#f8c6c8"/><rect y="318.9" fill="#f6bcbe"/><rect y="319.9" fill="#c2c5e3"/><rect y="320.9" fill="#fef7f8"/><rect y="321.9" fill="#fdf3f3"/><rect y="322.9" fill="#f0f1f8"/><rect y="323.9" fill="#f1f1f8"/><rect y="324.9" fill="#fce5e6"/><rect y="325.9" fill="#fce4e5"/><rect y="326.9" fill="#f9d3d5"/><rect y="327.9" fill="#f9ced0"/><rect y="328.9" fill="#f7f8fb"/><rect y="329.9" fill="#e7e8f4"/><rect y="330.9" fill="#f2f3f9"/><rect y="331.9" fill="#f7bfc1"/><rect y="332.9" fill="#f8c8ca"/><rect y="333.9" fill="#f8cbcc"/><rect y="334.9" fill="#fadbdc"/><rect y="335.9" fill="#fbdfe1"/><rect y="336.9" fill="#fef5f6"/><rect y="337.9" fill="#fffcfc"/><rect y="338.9" fill="#f9d0d2"/><rect y="339.9" fill="#fdfdfe"/><rect y="340.9" fill="#f5adb0"/><rect y="341.9" fill="#f2989c"/><rect y="342.9" fill="#f6b7b9"/><rect y="343.9" fill="#f5b0b3"/><rect y="344.9" fill="#fad4d6"/><rect y="345.9" fill="#f7f7fb"/><rect y="346.9" fill="#f7c0c2"/><rect y="347.9" fill="#fbdcdd"/><rect y="348.9" fill="#fcebeb"/><rect y="349.9" fill="#e5e6f3"/><rect y="350.9" fill="#f3a0a3"/><rect y="351.9" fill="#e2e3f1"/><rect y="352.9" fill="#eaebf5"/><rect y="353.9" fill="#f6b9bb"/><rect y="354.8" fill="#f9d2d3"/><rect y="355.8" fill="#f08b8f"/><rect y="356.8" fill="#fbe3e4"/><rect y="357.8" fill="#fad7d8"/><rect y="358.8" fill="#fce8e9"/><rect y="359.8" fill="#fce9ea"/><rect y="360.8" fill="#f19599"/><rect y="361.8" fill="#f4aaad"/><rect y="362.8" fill="#fdf3f3"/><rect y="363.8" fill="#d0d3e9"/><rect y="364.8" fill="#f29b9e"/><rect y="365.8" fill="#fdf1f2"/><rect y="366.8" fill="#f6b7ba"/><rect y="367.8" fill="#f4a5a8"/><rect y="368.8" fill="#fbddde"/><rect y="369.8" fill="#f8c7c9"/><rect y="370.8" fill="#fadcdd"/><rect y="371.8" fill="#f0898d"/><rect y="372.8" fill="#fad5d7"/><rect y="373.8" fill="#f9d0d2"/><rect y="374.8" fill="#dbddee"/><rect y="375.8" fill="#fdeced"/><rect y="376.8" fill="#f8c6c8"/><rect y="377.8" fill="#f9d0d2"/><rect y="378.8" fill="#f29da0"/><rect y="379.8" fill="#f4acaf"/><rect y="380.8" fill="#ed7176"/><rect y="381.8" fill="#f08d91"/><rect y="382.8" fill="#f7c1c3"/><rect y="383.8" fill="#f5b1b4"/><rect y="384.8" fill="#fefeff"/><rect y="385.8" fill="#ee777b"/><rect y="386.8" fill="#fad5d6"/><rect y="387.8" fill="#ec6e73"/><rect y="388.8" fill="#f9d0d2"/><rect y="389.8" fill="#fef7f7"/><rect y="390.8" fill="#f5adb0"/><rect y="391.7" fill="#fad7d9"/><rect y="392.7" fill="#f08a8e"/><rect y="393.7" fill="#fad8d9"/><rect y="394.7" fill="#f9d2d3"/><rect y="395.7" fill="#f4a9ac"/><rect y="396.7" fill="#fdecec"/><rect y="397.7" fill="#fef7f7"/><rect y="398.7" fill="#ee7b80"/><rect y="399.7" fill="#ee7d82"/><rect y="400.7" fill="#f7c3c6"/><rect y="401.7" fill="#ec6d72"/><rect y="402.7" fill="#f08a8e"/><rect y="403.7" fill="#ed7478"/><rect y="404.7" fill="#f18f93"/><rect y="405.7" fill="#fbfbfd"/><rect y="406.7" fill="#f19094"/><rect y="407.7" fill="#f7bdbf"/><rect y="408.7" fill="#f19498"/><rect y="409.7" fill="#ef7e82"/><rect y="410.7" fill="#f5aeb1"/><rect y="411.7" fill="#f5adb0"/><rect y="412.7" fill="#f7c3c5"/><rect y="413.7" fill="#e94f56"/><rect y="414.7" fill="#f6bcbe"/><rect y="415.7" fill="#ea595f"/><rect y="416.7" fill="#f6babd"/><rect y="417.7" fill="#f8c8ca"/><rect y="418.7" fill="#f6b9bb"/><rect y="419.7" fill="#f08c90"/><rect y="420.7" fill="#f4a6a9"/><rect y="421.7" fill="#eb646a"/><rect y="422.7" fill="#f29a9d"/><rect y="423.7" fill="#ee787d"/><rect y="424.7" fill="#fdefef"/><rect y="425.7" fill="#f08d91"/><rect y="426.7" fill="#eb656b"/><rect y="427.7" fill="#ee797e"/><rect y="428.7" fill="#f18f93"/><rect y="429.6" fill="#f6b5b8"/><rect y="430.6" fill="#f6b5b8"/><rect y="431.6" fill="#ee767b"/><rect y="432.6" fill="#ef8488"/><rect y="433.6" fill="#eb666b"/><rect y="434.6" fill="#f7bdbf"/><rect y="435.6" fill="#f6b9bb"/><rect y="436.6" fill="#fdeff0"/><rect y="437.6" fill="#f6babc"/><rect y="438.6" fill="#e9eaf5"/><rect y="439.6" fill="#fceaea"/><rect y="440.6" fill="#ef7e83"/><rect y="441.6" fill="#f9f9fc"/><rect y="442.6" fill="#f4acaf"/><rect y="443.6" fill="#fad5d6"/><rect y="444.6" fill="#fadadb"/><rect y="445.6" fill="#fce9ea"/><rect y="446.6" fill="#fef4f5"/><rect y="447.6" fill="#f3a1a4"/><rect y="448.6" fill="#fef4f4"/><rect y="449.6" fill="#fce7e8"/><rect y="450.6" fill="#fad8da"/><rect y="451.6" fill="#b3b7dc"/><rect y="452.6" fill="#f5afb2"/><rect y="453.6" fill="#fdf1f1"/><rect y="454.6" fill="#fbe3e4"/><rect y="455.6" fill="#f8c7c9"/><rect y="456.6" fill="#d9dbed"/><rect y="457.6" fill="#f5afb2"/><rect y="458.6" fill="#cbcee7"/><rect y="459.6" fill="#fbdee0"/><rect y="460.6" fill="#ed7075"/><rect y="461.6" fill="#f7bfc1"/><rect y="462.6" fill="#fdf0f0"/><rect y="463.6" fill="#bec1e0"/><rect y="464.6" fill="#ebecf6"/><rect y="465.6" fill="#e8e9f4"/><rect y="466.5" fill="#fffdfd"/><rect y="467.5" fill="#d2d4ea"/><rect y="468.5" fill="#f7c1c3"/><rect y="469.5" fill="#b1b5da"/><rect y="470.5" fill="#e4e5f2"/><rect y="471.5" fill="#e2e4f2"/><rect y="472.5" fill="#fad4d6"/><rect y="473.5" fill="#fef3f4"/><rect y="474.5" fill="#fce7e7"/><rect y="475.5" fill="#fdf0f0"/><rect y="476.5" fill="#e5e7f3"/><rect y="477.5" fill="#999ecf"/><rect y="478.5" fill="#cfd1e8"/><rect y="479.5" fill="#f5f6fb"/><rect y="480.5" fill="#e0e1f0"/><rect y="481.5" fill="#e8eaf4"/><rect y="482.5" fill="#aaaed7"/><rect y="483.5" fill="#dcdeef"/><rect y="484.5" fill="#aeb2d9"/><rect y="485.5" fill="#fce8e9"/><rect y="486.5" fill="#f6f6fb"/><rect y="487.5" fill="#e5e7f3"/><rect y="488.5" fill="#bcbfe0"/><rect y="489.5" fill="#d2d4ea"/><rect y="490.5" fill="#c5c8e4"/><rect y="491.5" fill="#e5e6f3"/><rect y="492.5" fill="#fffbfc"/><rect y="493.5" fill="#cfd2e9"/><rect y="494.5" fill="#e6e7f3"/><rect y="495.5" fill="#fbfbfd"/><rect y="496.5" fill="#fdfefe"/><rect y="497.5" fill="#e2e4f2"/><rect y="498.5" fill="#f4f5fa"/><rect y="499.5" fill="#d1d3e9"/><rect y="500.5" fill="#848ac5"/><rect y="501.5" fill="#aeb2d9"/><rect y="502.5" fill="#b7bbdd"/><rect y="503.5" fill="#bbbedf"/><rect y="504.4" fill="#f8c7c9"/><rect y="505.4" fill="#dfe1f0"/><rect y="506.4" fill="#acb0d8"/><rect y="507.4" fill="#d8daed"/><rect y="508.4" fill="#fffbfb"/><rect y="509.4" fill="#cccee7"/><rect y="510.4" fill="#dfe1f0"/><rect y="511.4" fill="#fce6e7"/><rect y="512.4" fill="#b1b5db"/><rect y="513.4" fill="#e5e6f3"/><rect y="514.4" fill="#a6abd6"/><rect y="515.4" fill="#cfd1e8"/><rect y="516.4" fill="#9298cc"/><rect y="517.4" fill="#c9cce6"/><rect y="518.4" fill="#e4e5f2"/><rect y="519.4" fill="#bfc2e1"/><rect y="520.4" fill="#bfc3e1"/><rect y="521.4" fill="#989dcf"/>
</g>
<g transform="translate(110.60,0)">
<rect y="223.2" fill="#fad8d9"/><rect y="224.2" fill="#f8c8ca"/><rect y="225.2" fill="#eeeff7"/><rect y="226.2" fill="#f7bdbf"/><rect y="227.2" fill="#f08c90"/><rect y="228.2" fill="#e7e8f4"/><rect y="229.2" fill="#fffdfd"/><rect y="230.2" fill="#fffbfb"/><rect y="231.2" fill="#fffcfc"/><rect y="232.2" fill="#fffcfc"/><rect y="233.2" fill="#fefafa"/><rect y="234.2" fill="#fefefe"/><rect y="235.2" fill="#fad9da"/><rect y="236.2" fill="#fce6e7"/><rect y="237.2" fill="#f6f7fb"/><rect y="238.2" fill="#f8f8fc"/><rect y="239.2" fill="#d6d8ec"/><rect y="240.2" fill="#fce7e8"/><rect y="241.2" fill="#dfe1f0"/><rect y="242.1" fill="#e7e9f4"/><rect y="243.1" fill="#f9ced0"/><rect y="244.1" fill="#fbe3e4"/><rect y="245.1" fill="#cfd1e8"/><rect y="246.1" fill="#fef6f6"/><rect y="247.1" fill="#f9d3d4"/><rect y="248.1" fill="#fce4e5"/><rect y="249.1" fill="#fcfcfd"/><rect y="250.1" fill="#fceaeb"/><rect y="251.1" fill="#d9dbed"/><rect y="252.1" fill="#f9fafc"/><rect y="253.1" fill="#f8f9fc"/><rect y="254.1" fill="#cdd0e8"/><rect y="255.1" fill="#c6c9e5"/><rect y="256.1" fill="#fad8da"/><rect y="257.1" fill="#fffdfd"/><rect y="258.1" fill="#fef9f9"/><rect y="259.1" fill="#fef6f6"/><rect y="260.1" fill="#fffbfb"/><rect y="261.1" fill="#bcbfe0"/><rect y="262.1" fill="#f6f7fb"/><rect y="263.1" fill="#acb1d8"/><rect y="264.1" fill="#f9cfd1"/><rect y="265.1" fill="#e4e6f3"/><rect y="266.1" fill="#fdfdfe"/><rect y="267.1" fill="#f6f7fb"/><rect y="268.1" fill="#9ea3d2"/><rect y="269.1" fill="#d9dbed"/><rect y="270.1" fill="#fefefe"/><rect y="271.1" fill="#bdc1e0"/><rect y="272.1" fill="#f2f3f9"/><rect y="273.1" fill="#bdc0e0"/><rect y="274.1" fill="#aeb2d9"/><rect y="275.1" fill="#f7f8fb"/><rect y="276.1" fill="#f7f8fb"/><rect y="277.1" fill="#a9add7"/><rect y="278.1" fill="#cdcfe7"/><rect y="279.1" fill="#fdf3f4"/><rect y="280.0" fill="#c8cbe5"/><rect y="281.0" fill="#fceaea"/><rect y="282.0" fill="#dfe0f0"/><rect y="283.0" fill="#f1f2f9"/><rect y="284.0" fill="#dddfef"/><rect y="285.0" fill="#fce5e6"/><rect y="286.0" fill="#969bce"/><rect y="287.0" fill="#fefeff"/><rect y="288.0" fill="#cccee7"/><rect y="289.0" fill="#d4d6eb"/><rect y="290.0" fill="#d2d4ea"/><rect y="291.0" fill="#d7d9ed"/><rect y="292.0" fill="#b8bcde"/><rect y="293.0" fill="#ffffff"/><rect y="294.0" fill="#b4b8dc"/><rect y="295.0" fill="#cacce6"/><rect y="296.0" fill="#d1d3e9"/><rect y="297.0" fill="#bbbfdf"/><rect y="298.0" fill="#ced0e8"/><rect y="299.0" fill="#9ba0d0"/><rect y="300.0" fill="#fdfdfe"/><rect y="301.0" fill="#9ca1d1"/><rect y="302.0" fill="#aaaed7"/><rect y="303.0" fill="#c7cae5"/><rect y="304.0" fill="#9ea3d2"/><rect y="305.0" fill="#a4a8d4"/><rect y="306.0" fill="#9ca1d1"/><rect y="307.0" fill="#abafd8"/><rect y="308.0" fill="#777ebf"/><rect y="309.0" fill="#c8cbe5"/><rect y="310.0" fill="#9a9fd0"/><rect y="311.0" fill="#a7acd6"/><rect y="312.0" fill="#787fc0"/><rect y="313.0" fill="#a6aad5"/><rect y="314.0" fill="#8c92c9"/><rect y="315.0" fill="#b7badd"/><rect y="316.0" fill="#d2d5ea"/><rect y="316.9" fill="#bec1e1"/><rect y="317.9" fill="#dadcee"/><rect y="318.9" fill="#d1d3ea"/><rect y="319.9" fill="#a4a8d4"/><rect y="320.9" fill="#b1b5db"/><rect y="321.9" fill="#9da2d1"/><rect y="322.9" fill="#9196cb"/><rect y="323.9" fill="#888ec7"/><rect y="324.9" fill="#7078bc"/><rect y="325.9" fill="#a5a9d5"/><rect y="326.9" fill="#6e75bb"/><rect y="327.9" fill="#cacde6"/><rect y="328.9" fill="#7f85c3"/><rect y="329.9" fill="#787fc0"/><rect y="330.9" fill="#555eb0"/><rect y="331.9" fill="#d4d6eb"/><rect y="332.9" fill="#777dbf"/><rect y="333.9" fill="#8b91c9"/><rect y="334.9" fill="#9fa4d2"/><rect y="335.9" fill="#838ac5"/><rect y="336.9" fill="#525bae"/><rect y="337.9" fill="#c6c9e4"/><rect y="338.9" fill="#8288c4"/><rect y="339.9" fill="#cdd0e8"/><rect y="340.9" fill="#c7cae5"/><rect y="341.9" fill="#8187c4"/><rect y="342.9" fill="#a5a9d5"/><rect y="343.9" fill="#9fa4d2"/><rect y="344.9" fill="#898fc8"/><rect y="345.9" fill="#6e75bb"/><rect y="346.9" fill="#8c92c9"/><rect y="347.9" fill="#b7bbdd"/><rect y="348.9" fill="#aaaed7"/><rect y="349.9" fill="#8086c4"/><rect y="350.9" fill="#7279bd"/><rect y="351.9" fill="#656db7"/><rect y="352.9" fill="#9298cc"/><rect y="353.9" fill="#858bc6"/><rect y="354.8" fill="#979cce"/><rect y="355.8" fill="#9197cc"/><rect y="356.8" fill="#969bce"/><rect y="357.8" fill="#c4c7e4"/><rect y="358.8" fill="#515aae"/><rect y="359.8" fill="#e3e5f2"/><rect y="360.8" fill="#797fc0"/><rect y="361.8" fill="#6f76bc"/><rect y="362.8" fill="#d2d4ea"/><rect y="363.8" fill="#9197cc"/><rect y="364.8" fill="#878dc7"/><rect y="365.8" fill="#949acd"/><rect y="366.8" fill="#848ac5"/><rect y="367.8" fill="#9da2d1"/><rect y="368.8" fill="#8188c4"/><rect y="369.8" fill="#7b82c1"/><rect y="370.8" fill="#d8daed"/><rect y="371.8" fill="#d3d5eb"/><rect y="372.8" fill="#888ec7"/><rect y="373.8" fill="#8a90c8"/><rect y="374.8" fill="#626ab6"/><rect y="375.8" fill="#cdcfe8"/><rect y="376.8" fill="#888ec8"/><rect y="377.8" fill="#4d56ac"/><rect y="378.8" fill="#646cb7"/><rect y="379.8" fill="#4d56ac"/><rect y="380.8" fill="#d7d9ec"/><rect y="381.8" fill="#767dbf"/><rect y="382.8" fill="#4a53aa"/><rect y="383.8" fill="#7a81c1"/><rect y="384.8" fill="#7f85c3"/><rect y="385.8" fill="#757cbe"/><rect y="386.8" fill="#9196cb"/><rect y="387.8" fill="#9ca1d1"/><rect y="388.8" fill="#9fa4d2"/><rect y="389.8" fill="#6c74ba"/><rect y="390.8" fill="#5d65b3"/><rect y="391.7" fill="#9ea3d2"/><rect y="392.7" fill="#3f49a5"/><rect y="393.7" fill="#777ebf"/><rect y="394.7" fill="#878dc7"/><rect y="395.7" fill="#b8bbde"/><rect y="396.7" fill="#6f76bc"/><rect y="397.7" fill="#787fc0"/><rect y="398.7" fill="#a2a7d4"/><rect y="399.7" fill="#7d84c2"/><rect y="400.7" fill="#4e57ac"/><rect y="401.7" fill="#757cbe"/><rect y="402.7" fill="#6b72ba"/><rect y="403.7" fill="#aeb2d9"/><rect y="404.7" fill="#9499cd"/><rect y="405.7" fill="#cbcee7"/><rect y="406.7" fill="#a4a9d5"/><rect y="407.7" fill="#a3a8d4"/><rect y="408.7" fill="#7077bc"/><rect y="409.7" fill="#6c73ba"/><rect y="410.7" fill="#9297cc"/><rect y="411.7" fill="#8f95cb"/><rect y="412.7" fill="#626ab6"/><rect y="413.7" fill="#a4a8d4"/><rect y="414.7" fill="#a2a7d4"/><rect y="415.7" fill="#747bbe"/><rect y="416.7" fill="#babedf"/><rect y="417.7" fill="#7f86c3"/><rect y="418.7" fill="#545daf"/><rect y="419.7" fill="#b0b4da"/><rect y="420.7" fill="#babddf"/><rect y="421.7" fill="#edeef7"/><rect y="422.7" fill="#f5aeb1"/><rect y="423.7" fill="#f7bdbf"/><rect y="424.7" fill="#eb6268"/><rect y="425.7" fill="#f7c4c6"/><rect y="426.7" fill="#f7c2c4"/><rect y="427.7" fill="#ed6f74"/><rect y="428.7" fill="#f8cacc"/><rect y="429.6" fill="#f9d0d2"/><rect y="430.6" fill="#ee767b"/><rect y="431.6" fill="#ed7075"/><rect y="432.6" fill="#f5afb1"/><rect y="433.6" fill="#ee7b80"/><rect y="434.6" fill="#ed7479"/><rect y="435.6" fill="#f6b6b8"/><rect y="436.6" fill="#ea5d63"/><rect y="437.6" fill="#eb6469"/><rect y="438.6" fill="#f9d3d5"/><rect y="439.6" fill="#ea575d"/><rect y="440.6" fill="#f08b8f"/><rect y="441.6" fill="#f0888c"/><rect y="442.6" fill="#f5b2b5"/><rect y="443.6" fill="#f6bbbe"/><rect y="444.6" fill="#ef8387"/><rect y="445.6" fill="#e5343b"/><rect y="446.6" fill="#ee777b"/><rect y="447.6" fill="#f4a9ac"/><rect y="448.6" fill="#f5aeb1"/><rect y="449.6" fill="#ec696e"/><rect y="450.6" fill="#ec6d72"/><rect y="451.6" fill="#ec696e"/><rect y="452.6" fill="#fad7d9"/><rect y="453.6" fill="#f6b6b9"/><rect y="454.6" fill="#f2969a"/><rect y="455.6" fill="#ee7d82"/><rect y="456.6" fill="#ef8185"/><rect y="457.6" fill="#f6b7ba"/><rect y="458.6" fill="#f4abae"/><rect y="459.6" fill="#ef8488"/><rect y="460.6" fill="#fad5d6"/><rect y="461.6" fill="#ea5e64"/><rect y="462.6" fill="#e63c43"/><rect y="463.6" fill="#e84a51"/><rect y="464.6" fill="#f39da1"/><rect y="465.6" fill="#f3a2a5"/><rect y="466.5" fill="#fbe0e2"/><rect y="467.5" fill="#f7c0c3"/><rect y="468.5" fill="#f19093"/><rect y="469.5" fill="#f08a8e"/><rect y="470.5" fill="#ef8085"/><rect y="471.5" fill="#f4a9ac"/><rect y="472.5" fill="#f5aeb1"/><rect y="473.5" fill="#f3a1a4"/><rect y="474.5" fill="#f19598"/><rect y="475.5" fill="#ed7176"/><rect y="476.5" fill="#f18f93"/><rect y="477.5" fill="#eb666b"/><rect y="478.5" fill="#e21c24"/><rect y="479.5" fill="#ed757a"/><rect y="480.5" fill="#f08a8e"/><rect y="481.5" fill="#f0898d"/><rect y="482.5" fill="#f2989c"/><rect y="483.5" fill="#ec686d"/><rect y="484.5" fill="#ee7a7e"/><rect y="485.5" fill="#fad6d7"/><rect y="486.5" fill="#eb6268"/><rect y="487.5" fill="#ef8488"/><rect y="488.5" fill="#e9555b"/><rect y="489.5" fill="#fce9ea"/><rect y="490.5" fill="#e21c24"/><rect y="491.5" fill="#ef7e83"/><rect y="492.5" fill="#f4acaf"/><rect y="493.5" fill="#f3a4a7"/><rect y="494.5" fill="#ee767b"/><rect y="495.5" fill="#f5b3b5"/><rect y="496.5" fill="#f3a3a6"/><rect y="497.5" fill="#ef8286"/><rect y="498.5" fill="#e42c34"/><rect y="499.5" fill="#ec676c"/><rect y="500.5" fill="#ef8287"/><rect y="501.5" fill="#f19497"/><rect y="502.5" fill="#f4a8ab"/><rect y="503.5" fill="#ed757a"/><rect y="504.4" fill="#f4a6a9"/><rect y="505.4" fill="#f7c3c5"/><rect y="506.4" fill="#ea585e"/><rect y="507.4" fill="#e32028"/><rect y="508.4" fill="#f2999d"/><rect y="509.4" fill="#e84e54"/><rect y="510.4" fill="#ee797e"/><rect y="511.4" fill="#f7c2c4"/><rect y="512.4" fill="#f7bdbf"/><rect y="513.4" fill="#ed767b"/><rect y="514.4" fill="#ea5b61"/><rect y="515.4" fill="#ed6f74"/><rect y="516.4" fill="#ea5a60"/><rect y="517.4" fill="#f5b0b3"/><rect y="518.4" fill="#e95158"/><rect y="519.4" fill="#e95057"/><rect y="520.4" fill="#f19094"/><rect y="521.4" fill="#f0888c"/>
</g>
<g transform="translate(122.03,0)">
<rect y="223.2" fill="#fce6e7"/><rect y="224.2" fill="#fdf2f2"/><rect y="225.2" fill="#ebecf6"/><rect y="226.2" fill="#f8c6c8"/><rect y="227.2" fill="#f0878b"/><rect y="228.2" fill="#e6e8f4"/><rect y="229.2" fill="#f4f4fa"/><rect y="230.2" fill="#fcfcfe"/><rect y="231.2" fill="#f3f4fa"/><rect y="232.2" fill="#e1e2f1"/><rect y="233.2" fill="#fdfdfe"/><rect y="234.2" fill="#cccee7"/><rect y="235.2" fill="#fce4e5"/><rect y="236.2" fill="#fdf2f2"/><rect y="237.2" fill="#f8f8fc"/><rect y="238.2" fill="#ffffff"/><rect y="239.2" fill="#dddfef"/><rect y="240.2" fill="#fbfbfd"/><rect y="241.2" fill="#e5e6f3"/><rect y="242.1" fill="#fbfbfd"/><rect y="243.1" fill="#fce5e6"/><rect y="244.1" fill="#f7c3c5"/><rect y="245.1" fill="#fafafd"/><rect y="246.1" fill="#fef6f6"/><rect y="247.1" fill="#fdf0f1"/><rect y="248.1" fill="#f8cacc"/><rect y="249.1" fill="#fdf2f3"/><rect y="250.1" fill="#fffdfd"/><rect y="251.1" fill="#d2d5ea"/><rect y="252.1" fill="#f5f6fa"/><rect y="253.1" fill="#fef9f9"/><rect y="254.1" fill="#cacde6"/><rect y="255.1" fill="#d9daed"/><rect y="256.1" fill="#fffcfc"/><rect y="257.1" fill="#dadcee"/><rect y="258.1" fill="#fadbdc"/><rect y="259.1" fill="#fefefe"/><rect y="260.1" fill="#e9eaf5"/><rect y="261.1" fill="#babedf"/><rect y="262.1" fill="#f3f3f9"/><rect y="263.1" fill="#bcc0e0"/><rect y="264.1" fill="#fef4f5"/><rect y="265.1" fill="#f4f5fa"/><rect y="266.1" fill="#e6e7f3"/><rect y="267.1" fill="#cacde6"/><rect y="268.1" fill="#a1a6d3"/><rect y="269.1" fill="#d1d4ea"/><rect y="270.1" fill="#f0f1f8"/><rect y="271.1" fill="#dbddee"/><rect y="272.1" fill="#fef6f7"/><rect y="273.1" fill="#c5c8e4"/><rect y="274.1" fill="#aeb2d9"/><rect y="275.1" fill="#e2e3f1"/><rect y="276.1" fill="#ebecf5"/><rect y="277.1" fill="#b4b8dc"/><rect y="278.1" fill="#fcfcfe"/><rect y="279.1" fill="#c9cce6"/><rect y="280.0" fill="#c3c6e3"/><rect y="281.0" fill="#fef9fa"/><rect y="282.0" fill="#dcddee"/><rect y="283.0" fill="#e4e5f2"/><rect y="284.0" fill="#eeeff7"/><rect y="285.0" fill="#fdf1f2"/><rect y="286.0" fill="#888ec8"/><rect y="287.0" fill="#eeeff7"/><rect y="288.0" fill="#d3d5ea"/><rect y="289.0" fill="#cccee7"/><rect y="290.0" fill="#a9aed7"/><rect y="291.0" fill="#c6c9e4"/><rect y="292.0" fill="#c3c6e3"/><rect y="293.0" fill="#f5f5fa"/><rect y="294.0" fill="#cfd2e9"/><rect y="295.0" fill="#dedfef"/><rect y="296.0" fill="#c3c6e3"/><rect y="297.0" fill="#b3b7dc"/><rect y="298.0" fill="#dbddee"/><rect y="299.0" fill="#b8bcde"/><rect y="300.0" fill="#c6c9e4"/><rect y="301.0" fill="#aaaed7"/><rect y="302.0" fill="#838ac5"/><rect y="303.0" fill="#cbcee7"/><rect y="304.0" fill="#9398cc"/><rect y="305.0" fill="#a3a8d4"/><rect y="306.0" fill="#9499cd"/><rect y="307.0" fill="#8a90c8"/><rect y="308.0" fill="#7f86c3"/><rect y="309.0" fill="#cbcee7"/><rect y="310.0" fill="#8289c5"/><rect y="311.0" fill="#9ea3d2"/><rect y="312.0" fill="#6e75bb"/><rect y="313.0" fill="#a5aad5"/><rect y="314.0" fill="#afb3da"/><rect y="315.0" fill="#b5b8dc"/><rect y="316.0" fill="#c5c8e4"/><rect y="316.9" fill="#d6d8ec"/><rect y="317.9" fill="#bcc0e0"/><rect y="318.9" fill="#bfc2e1"/><rect y="319.9" fill="#b5b8dc"/><rect y="320.9" fill="#c3c6e3"/><rect y="321.9" fill="#6c74bb"/><rect y="322.9" fill="#8e94ca"/><rect y="323.9" fill="#878dc7"/><rect y="324.9" fill="#646cb7"/><rect y="325.9" fill="#babddf"/><rect y="326.9" fill="#5d65b3"/><rect y="327.9" fill="#adb1d9"/><rect y="328.9" fill="#6f76bc"/><rect y="329.9" fill="#686fb8"/><rect y="330.9" fill="#3842a2"/><rect y="331.9" fill="#adb1d9"/><rect y="332.9" fill="#5e66b4"/><rect y="333.9" fill="#969bce"/><rect y="334.9" fill="#aeb2d9"/><rect y="335.9" fill="#636bb6"/><rect y="336.9" fill="#3842a2"/><rect y="337.9" fill="#b9bdde"/><rect y="338.9" fill="#9197cc"/><rect y="339.9" fill="#d1d3e9"/><rect y="340.9" fill="#d9dbed"/><rect y="341.9" fill="#8087c4"/><rect y="342.9" fill="#adb1d8"/><rect y="343.9" fill="#a4a9d4"/><rect y="344.9" fill="#a4a9d5"/><rect y="345.9" fill="#6d74bb"/><rect y="346.9" fill="#535caf"/><rect y="347.9" fill="#afb3da"/><rect y="348.9" fill="#d6d8ec"/><rect y="349.9" fill="#6a71b9"/><rect y="350.9" fill="#7279bd"/><rect y="351.9" fill="#5961b1"/><rect y="352.9" fill="#9ca1d1"/><rect y="353.9" fill="#737abe"/><rect y="354.8" fill="#8a90c8"/><rect y="355.8" fill="#838ac5"/><rect y="356.8" fill="#a4a8d4"/><rect y="357.8" fill="#9095cb"/><rect y="358.8" fill="#5c64b3"/><rect y="359.8" fill="#ebecf6"/><rect y="360.8" fill="#9ca1d1"/><rect y="361.8" fill="#7d83c2"/><rect y="362.8" fill="#b7bbde"/><rect y="363.8" fill="#949acd"/><rect y="364.8" fill="#8087c4"/><rect y="365.8" fill="#a4a8d4"/><rect y="366.8" fill="#686fb8"/><rect y="367.8" fill="#b7bbde"/><rect y="368.8" fill="#8b91c9"/><rect y="369.8" fill="#555eb0"/><rect y="370.8" fill="#cbcee7"/><rect y="371.8" fill="#b0b4da"/><rect y="372.8" fill="#6d74bb"/><rect y="373.8" fill="#8a90c8"/><rect y="374.8" fill="#6169b5"/><rect y="375.8" fill="#9ca1d1"/><rect y="376.8" fill="#8f95cb"/><rect y="377.8" fill="#5e66b4"/><rect y="378.8" fill="#6f77bc"/><rect y="379.8" fill="#3c46a4"/><rect y="380.8" fill="#babddf"/><rect y="381.8" fill="#575fb0"/><rect y="382.8" fill="#646cb6"/><rect y="383.8" fill="#787ec0"/><rect y="384.8" fill="#9298cc"/><rect y="385.8" fill="#7279bd"/><rect y="386.8" fill="#7e84c3"/><rect y="387.8" fill="#8187c4"/><rect y="388.8" fill="#8389c5"/><rect y="389.8" fill="#a0a5d3"/><rect y="390.8" fill="#4e57ac"/><rect y="391.7" fill="#a1a5d3"/><rect y="392.7" fill="#545daf"/><rect y="393.7" fill="#5861b1"/><rect y="394.7" fill="#7b81c1"/><rect y="395.7" fill="#d0d2e9"/><rect y="396.7" fill="#555eb0"/><rect y="397.7" fill="#9ba0d0"/><rect y="398.7" fill="#7f85c3"/><rect y="399.7" fill="#636bb6"/><rect y="400.7" fill="#4f57ad"/><rect y="401.7" fill="#646cb7"/><rect y="402.7" fill="#959bce"/><rect y="403.7" fill="#afb3d9"/><rect y="404.7" fill="#aaaed7"/><rect y="405.7" fill="#9da2d1"/><rect y="406.7" fill="#b9bdde"/><rect y="407.7" fill="#adb1d9"/><rect y="408.7" fill="#565fb0"/><rect y="409.7" fill="#888ec7"/><rect y="410.7" fill="#9298cc"/><rect y="411.7" fill="#8d92ca"/><rect y="412.7" fill="#5c64b3"/><rect y="413.7" fill="#8187c4"/><rect y="414.7" fill="#c6c8e4"/><rect y="415.7" fill="#787fc0"/><rect y="416.7" fill="#a4a9d5"/><rect y="417.7" fill="#747bbe"/><rect y="418.7" fill="#6a71b9"/><rect y="419.7" fill="#afb3da"/><rect y="420.7" fill="#a3a7d4"/><rect y="421.7" fill="#fceaeb"/><rect y="422.7" fill="#f08a8e"/><rect y="423.7" fill="#f5aeb1"/><rect y="424.7" fill="#e63c43"/><rect y="425.7" fill="#f9d4d5"/><rect y="426.7" fill="#f3a1a4"/><rect y="427.7" fill="#ec6d72"/><rect y="428.7" fill="#f8c4c6"/><rect y="429.6" fill="#f3a4a7"/><rect y="430.6" fill="#f19195"/><rect y="431.6" fill="#e84a51"/><rect y="432.6" fill="#f39ea1"/><rect y="433.6" fill="#f3a1a5"/><rect y="434.6" fill="#ea5d62"/><rect y="435.6" fill="#f08a8e"/><rect y="436.6" fill="#ee767b"/><rect y="437.6" fill="#eb656b"/><rect y="438.6" fill="#f6bcbe"/><rect y="439.6" fill="#ec6a70"/><rect y="440.6" fill="#ef8286"/><rect y="441.6" fill="#ed7176"/><rect y="442.6" fill="#f5b3b5"/><rect y="443.6" fill="#ee7a7f"/><rect y="444.6" fill="#f3a4a7"/><rect y="445.6" fill="#e5363d"/><rect y="446.6" fill="#ef8387"/><rect y="447.6" fill="#f6bbbd"/><rect y="448.6" fill="#f5b0b3"/><rect y="449.6" fill="#e5363d"/><rect y="450.6" fill="#eb6267"/><rect y="451.6" fill="#e95056"/><rect y="452.6" fill="#f8c7c9"/><rect y="453.6" fill="#f5aeb1"/><rect y="454.6" fill="#ed7176"/><rect y="455.6" fill="#eb646a"/><rect y="456.6" fill="#f2979b"/><rect y="457.6" fill="#f8c5c7"/><rect y="458.6" fill="#f4acae"/><rect y="459.6" fill="#f19397"/><rect y="460.6" fill="#f6b6b8"/><rect y="461.6" fill="#eb6166"/><rect y="462.6" fill="#e8494f"/><rect y="463.6" fill="#eb6369"/><rect y="464.6" fill="#eb6469"/><rect y="465.6" fill="#ef7f83"/><rect y="466.5" fill="#f8cccd"/><rect y="467.5" fill="#f6b6b9"/><rect y="468.5" fill="#f5aeb1"/><rect y="469.5" fill="#f3a1a4"/><rect y="470.5" fill="#ee7d82"/><rect y="471.5" fill="#f0868a"/><rect y="472.5" fill="#f2969a"/><rect y="473.5" fill="#f6b5b8"/><rect y="474.5" fill="#eb6369"/><rect y="475.5" fill="#ea585e"/><rect y="476.5" fill="#f5adb0"/><rect y="477.5" fill="#e84c52"/><rect y="478.5" fill="#e21c24"/><rect y="479.5" fill="#ee7d82"/><rect y="480.5" fill="#f19397"/><rect y="481.5" fill="#ef8185"/><rect y="482.5" fill="#f0868a"/><rect y="483.5" fill="#ed6f74"/><rect y="484.5" fill="#ed6e73"/><rect y="485.5" fill="#f6bbbe"/><rect y="486.5" fill="#f0878b"/><rect y="487.5" fill="#ee7d82"/><rect y="488.5" fill="#e95056"/><rect y="489.5" fill="#f9d1d2"/><rect y="490.5" fill="#e21c24"/><rect y="491.5" fill="#ef8287"/><rect y="492.5" fill="#f5aeb1"/><rect y="493.5" fill="#f2989c"/><rect y="494.5" fill="#ed7479"/><rect y="495.5" fill="#f19094"/><rect y="496.5" fill="#f39fa2"/><rect y="497.5" fill="#ed7176"/><rect y="498.5" fill="#e7474d"/><rect y="499.5" fill="#ee7b80"/><rect y="500.5" fill="#e95359"/><rect y="501.5" fill="#ee7a7f"/><rect y="502.5" fill="#f3a3a6"/><rect y="503.5" fill="#e95359"/><rect y="504.4" fill="#ef8387"/><rect y="505.4" fill="#f8c7c9"/><rect y="506.4" fill="#e7464c"/><rect y="507.4" fill="#e21c24"/><rect y="508.4" fill="#f5afb2"/><rect y="509.4" fill="#e53239"/><rect y="510.4" fill="#ed7479"/><rect y="511.4" fill="#f6bbbe"/><rect y="512.4" fill="#f29da1"/><rect y="513.4" fill="#ed757a"/><rect y="514.4" fill="#eb656a"/><rect y="515.4" fill="#ec676c"/><rect y="516.4" fill="#ea575d"/><rect y="517.4" fill="#f19195"/><rect y="518.4" fill="#eb5f64"/><rect y="519.4" fill="#e74249"/><rect y="520.4" fill="#f19296"/><rect y="521.4" fill="#f08c90"/>
</g>
<g transform="translate(133.45,0)">
<rect y="223.2" fill="#f8c5c7"/><rect y="224.2" fill="#fbdedf"/><rect y="225.2" fill="#fef5f5"/><rect y="226.2" fill="#f4acaf"/><rect y="227.2" fill="#f5b0b2"/><rect y="228.2" fill="#f9f9fc"/><rect y="229.2" fill="#fce8e9"/><rect y="230.2" fill="#f8cbcd"/><rect y="231.2" fill="#fdedee"/><rect y="232.2" fill="#fafafd"/><rect y="233.2" fill="#fad5d7"/><rect y="234.2" fill="#cdcfe8"/><rect y="235.2" fill="#f9d3d5"/><rect y="236.2" fill="#fce9ea"/><rect y="237.2" fill="#fef9f9"/><rect y="238.2" fill="#f7f7fb"/><rect y="239.2" fill="#fefafa"/><rect y="240.2" fill="#fef6f6"/><rect y="241.2" fill="#fefeff"/><rect y="242.1" fill="#e8eaf4"/><rect y="243.1" fill="#fce6e7"/><rect y="244.1" fill="#f8c8ca"/><rect y="245.1" fill="#f4f4fa"/><rect y="246.1" fill="#fcfcfe"/><rect y="247.1" fill="#fadadc"/><rect y="248.1" fill="#fbe1e2"/><rect y="249.1" fill="#fffefe"/><rect y="250.1" fill="#fdefef"/><rect y="251.1" fill="#e7e8f4"/><rect y="252.1" fill="#fef4f5"/><rect y="253.1" fill="#f7f8fb"/><rect y="254.1" fill="#d7d9ec"/><rect y="255.1" fill="#e4e6f3"/><rect y="256.1" fill="#fad8da"/><rect y="257.1" fill="#fef9f9"/><rect y="258.1" fill="#fbe2e3"/><rect y="259.1" fill="#fce8e9"/><rect y="260.1" fill="#fadbdd"/><rect y="261.1" fill="#c4c7e3"/><rect y="262.1" fill="#fbfcfd"/><rect y="263.1" fill="#cbcde6"/><rect y="264.1" fill="#fbdcdd"/><rect y="265.1" fill="#e1e3f1"/><rect y="266.1" fill="#f5f6fb"/><rect y="267.1" fill="#f6f6fb"/><rect y="268.1" fill="#b6badd"/><rect y="269.1" fill="#d0d2e9"/><rect y="270.1" fill="#f8cacc"/><rect y="271.1" fill="#f2f3f9"/><rect y="272.1" fill="#fdf2f3"/><rect y="273.1" fill="#9ea3d2"/><rect y="274.1" fill="#c0c3e2"/><rect y="275.1" fill="#fdf3f3"/><rect y="276.1" fill="#fdfdfe"/><rect y="277.1" fill="#d5d7eb"/><rect y="278.1" fill="#ffffff"/><rect y="279.1" fill="#eff0f8"/><rect y="280.0" fill="#f0f1f8"/><rect y="281.0" fill="#fef6f6"/><rect y="282.0" fill="#fbfbfd"/><rect y="283.0" fill="#f7f8fb"/><rect y="284.0" fill="#e8e9f4"/><rect y="285.0" fill="#fadbdc"/><rect y="286.0" fill="#8188c4"/><rect y="287.0" fill="#fafafc"/><rect y="288.0" fill="#e1e3f1"/><rect y="289.0" fill="#dddfef"/><rect y="290.0" fill="#dddfef"/><rect y="291.0" fill="#ffffff"/><rect y="292.0" fill="#eaebf5"/><rect y="293.0" fill="#f2f3f9"/><rect y="294.0" fill="#cdcfe8"/><rect y="295.0" fill="#d2d4ea"/><rect y="296.0" fill="#d3d5eb"/><rect y="297.0" fill="#afb3da"/><rect y="298.0" fill="#d9dbed"/><rect y="299.0" fill="#cfd2e9"/><rect y="300.0" fill="#ebecf6"/><rect y="301.0" fill="#989dcf"/><rect y="302.0" fill="#afb3da"/><rect y="303.0" fill="#dcdeef"/><rect y="304.0" fill="#a2a6d3"/><rect y="305.0" fill="#b3b6db"/><rect y="306.0" fill="#aeb2d9"/><rect y="307.0" fill="#babedf"/><rect y="308.0" fill="#858bc6"/><rect y="309.0" fill="#dee0f0"/><rect y="310.0" fill="#a9aed7"/><rect y="311.0" fill="#c0c3e1"/><rect y="312.0" fill="#959bce"/><rect y="313.0" fill="#a3a7d4"/><rect y="314.0" fill="#c0c3e1"/><rect y="315.0" fill="#cfd1e9"/><rect y="316.0" fill="#ebecf6"/><rect y="316.9" fill="#edeef7"/><rect y="317.9" fill="#d8daed"/><rect y="318.9" fill="#cacde6"/><rect y="319.9" fill="#bbbfdf"/><rect y="320.9" fill="#b7bbdd"/><rect y="321.9" fill="#9197cc"/><rect y="322.9" fill="#878dc7"/><rect y="323.9" fill="#a9add7"/><rect y="324.9" fill="#969bce"/><rect y="325.9" fill="#a3a7d4"/><rect y="326.9" fill="#7980c0"/><rect y="327.9" fill="#c5c8e4"/><rect y="328.9" fill="#9fa4d2"/><rect y="329.9" fill="#6f76bc"/><rect y="330.9" fill="#414ba6"/><rect y="331.9" fill="#b7bbdd"/><rect y="332.9" fill="#858bc6"/><rect y="333.9" fill="#9ea3d2"/><rect y="334.9" fill="#c1c4e2"/><rect y="335.9" fill="#7279bd"/><rect y="336.9" fill="#5760b1"/><rect y="337.9" fill="#d3d5eb"/><rect y="338.9" fill="#9da2d1"/><rect y="339.9" fill="#e6e7f3"/><rect y="340.9" fill="#d8daed"/><rect y="341.9" fill="#767dbf"/><rect y="342.9" fill="#bdc0e0"/><rect y="343.9" fill="#ced0e8"/><rect y="344.9" fill="#9ea3d2"/><rect y="345.9" fill="#9095cb"/><rect y="346.9" fill="#656db7"/><rect y="347.9" fill="#cfd1e9"/><rect y="348.9" fill="#e4e5f2"/><rect y="349.9" fill="#9ba0d0"/><rect y="350.9" fill="#868dc7"/><rect y="351.9" fill="#565eb0"/><rect y="352.9" fill="#9ca1d1"/><rect y="353.9" fill="#989dcf"/><rect y="354.8" fill="#7b82c1"/><rect y="355.8" fill="#8389c5"/><rect y="356.8" fill="#9499cd"/><rect y="357.8" fill="#a7abd6"/><rect y="358.8" fill="#5a62b2"/><rect y="359.8" fill="#eaebf5"/><rect y="360.8" fill="#9ca1d1"/><rect y="361.8" fill="#6d74bb"/><rect y="362.8" fill="#d4d6eb"/><rect y="363.8" fill="#9ca1d1"/><rect y="364.8" fill="#a4a9d5"/><rect y="365.8" fill="#c2c5e2"/><rect y="366.8" fill="#7d83c2"/><rect y="367.8" fill="#c5c8e4"/><rect y="368.8" fill="#acb0d8"/><rect y="369.8" fill="#7e85c3"/><rect y="370.8" fill="#d8daed"/><rect y="371.8" fill="#d8daed"/><rect y="372.8" fill="#747bbe"/><rect y="373.8" fill="#adb1d9"/><rect y="374.8" fill="#9197cc"/><rect y="375.8" fill="#c0c4e2"/><rect y="376.8" fill="#8f95cb"/><rect y="377.8" fill="#636bb6"/><rect y="378.8" fill="#7c82c2"/><rect y="379.8" fill="#3842a2"/><rect y="380.8" fill="#f1f2f8"/><rect y="381.8" fill="#858bc6"/><rect y="382.8" fill="#7e85c3"/><rect y="383.8" fill="#7d83c2"/><rect y="384.8" fill="#8188c4"/><rect y="385.8" fill="#a4a9d5"/><rect y="386.8" fill="#989dcf"/><rect y="387.8" fill="#b5b8dc"/><rect y="388.8" fill="#abafd8"/><rect y="389.8" fill="#8187c4"/><rect y="390.8" fill="#7178bd"/><rect y="391.7" fill="#b9bdde"/><rect y="392.7" fill="#6971b9"/><rect y="393.7" fill="#6a72b9"/><rect y="394.7" fill="#9197cc"/><rect y="395.7" fill="#e8e9f4"/><rect y="396.7" fill="#5860b1"/><rect y="397.7" fill="#9da2d1"/><rect y="398.7" fill="#a6aad5"/><rect y="399.7" fill="#777ebf"/><rect y="400.7" fill="#6971b9"/><rect y="401.7" fill="#9fa4d2"/><rect y="402.7" fill="#898fc8"/><rect y="403.7" fill="#959acd"/><rect y="404.7" fill="#b8bbde"/><rect y="405.7" fill="#aaaed7"/><rect y="406.7" fill="#b5b8dc"/><rect y="407.7" fill="#c0c3e2"/><rect y="408.7" fill="#575fb0"/><rect y="409.7" fill="#747bbe"/><rect y="410.7" fill="#9a9fd0"/><rect y="411.7" fill="#bec1e0"/><rect y="412.7" fill="#8187c4"/><rect y="413.7" fill="#b7bbde"/><rect y="414.7" fill="#bdc0e0"/><rect y="415.7" fill="#7d83c2"/><rect y="416.7" fill="#afb3da"/><rect y="417.7" fill="#7e84c3"/><rect y="418.7" fill="#737abd"/><rect y="419.7" fill="#dfe1f0"/><rect y="420.7" fill="#b1b5da"/><rect y="421.7" fill="#f9cdcf"/><rect y="422.7" fill="#f0888c"/><rect y="423.7" fill="#f4a6a9"/><rect y="424.7" fill="#e63d44"/><rect y="425.7" fill="#f9ccce"/><rect y="426.7" fill="#f19397"/><rect y="427.7" fill="#ea5d63"/><rect y="428.7" fill="#f08c90"/><rect y="429.6" fill="#f4a7ab"/><rect y="430.6" fill="#ec6d73"/><rect y="431.6" fill="#ec6b71"/><rect y="432.6" fill="#ee787d"/><rect y="433.6" fill="#ed757a"/><rect y="434.6" fill="#e53138"/><rect y="435.6" fill="#e95258"/><rect y="436.6" fill="#ea575d"/><rect y="437.6" fill="#e5343b"/><rect y="438.6" fill="#f3a1a5"/><rect y="439.6" fill="#e3262e"/><rect y="440.6" fill="#ec696f"/><rect y="441.6" fill="#ec6d73"/><rect y="442.6" fill="#ef8185"/><rect y="443.6" fill="#ec6d72"/><rect y="444.6" fill="#ea5d63"/><rect y="445.6" fill="#e21c24"/><rect y="446.6" fill="#e84a51"/><rect y="447.6" fill="#f18e92"/><rect y="448.6" fill="#f18e92"/><rect y="449.6" fill="#e21c24"/><rect y="450.6" fill="#e8484e"/><rect y="451.6" fill="#e63b42"/><rect y="452.6" fill="#f19195"/><rect y="453.6" fill="#f29ca0"/><rect y="454.6" fill="#eb6268"/><rect y="455.6" fill="#ef7e82"/><rect y="456.6" fill="#e9545a"/><rect y="457.6" fill="#f5b1b4"/><rect y="458.6" fill="#f19396"/><rect y="459.6" fill="#eb6066"/><rect y="460.6" fill="#f8c8ca"/><rect y="461.6" fill="#e7444b"/><rect y="462.6" fill="#e21c24"/><rect y="463.6" fill="#e63d43"/><rect y="464.6" fill="#eb5f65"/><rect y="465.6" fill="#ee787d"/><rect y="466.5" fill="#f8c8ca"/><rect y="467.5" fill="#f18e92"/><rect y="468.5" fill="#ee7b80"/><rect y="469.5" fill="#ed7378"/><rect y="470.5" fill="#ea5e64"/><rect y="471.5" fill="#ec686d"/><rect y="472.5" fill="#f0888c"/><rect y="473.5" fill="#f0868a"/><rect y="474.5" fill="#e95056"/><rect y="475.5" fill="#e63d44"/><rect y="476.5" fill="#ee7e82"/><rect y="477.5" fill="#e84c53"/><rect y="478.5" fill="#e21c24"/><rect y="479.5" fill="#ea5d62"/><rect y="480.5" fill="#f0898d"/><rect y="481.5" fill="#ea5a5f"/><rect y="482.5" fill="#e7474d"/><rect y="483.5" fill="#e32129"/><rect y="484.5" fill="#e9545a"/><rect y="485.5" fill="#f2979b"/><rect y="486.5" fill="#e8494f"/><rect y="487.5" fill="#eb6066"/><rect y="488.5" fill="#e21e26"/><rect y="489.5" fill="#f5b2b5"/><rect y="490.5" fill="#e21c24"/><rect y="491.5" fill="#ea5d62"/><rect y="492.5" fill="#f0878b"/><rect y="493.5" fill="#e95157"/><rect y="494.5" fill="#ed6f74"/><rect y="495.5" fill="#ee7a7e"/><rect y="496.5" fill="#f0898d"/><rect y="497.5" fill="#ec676c"/><rect y="498.5" fill="#e42b32"/><rect y="499.5" fill="#e5333b"/><rect y="500.5" fill="#e74148"/><rect y="501.5" fill="#e63c43"/><rect y="502.5" fill="#f2969a"/><rect y="503.5" fill="#e42830"/><rect y="504.4" fill="#f0898e"/><rect y="505.4" fill="#fad5d6"/><rect y="506.4" fill="#e53138"/><rect y="507.4" fill="#e21c24"/><rect y="508.4" fill="#eb646a"/><rect y="509.4" fill="#e63b42"/><rect y="510.4" fill="#f2999c"/><rect y="511.4" fill="#f4aaad"/><rect y="512.4" fill="#ef7f83"/><rect y="513.4" fill="#ec676c"/><rect y="514.4" fill="#ea5b61"/><rect y="515.4" fill="#e9565c"/><rect y="516.4" fill="#e84c52"/><rect y="517.4" fill="#f0868a"/><rect y="518.4" fill="#e3262e"/><rect y="519.4" fill="#e74147"/><rect y="520.4" fill="#ed7176"/><rect y="521.4" fill="#ef8084"/>
</g>
<g transform="translate(144.88,0)">
<rect y="223.2" fill="#fceaea"/><rect y="224.2" fill="#fbe0e1"/><rect y="225.2" fill="#fafafd"/><rect y="226.2" fill="#f6bbbe"/><rect y="227.2" fill="#f5b2b5"/><rect y="228.2" fill="#fad8da"/><rect y="229.2" fill="#eaebf5"/><rect y="230.2" fill="#fad9db"/><rect y="231.2" fill="#dedfef"/><rect y="232.2" fill="#e7e8f4"/><rect y="233.2" fill="#e6e7f3"/><rect y="234.2" fill="#d4d6eb"/><rect y="235.2" fill="#fadbdc"/><rect y="236.2" fill="#fce5e6"/><rect y="237.2" fill="#e3e5f2"/><rect y="238.2" fill="#f2f3f9"/><rect y="239.2" fill="#f0f1f8"/><rect y="240.2" fill="#fce8e9"/><rect y="241.2" fill="#f8f9fc"/><rect y="242.1" fill="#f1f1f8"/><rect y="243.1" fill="#fefeff"/><rect y="244.1" fill="#fbe2e3"/><rect y="245.1" fill="#fadcdd"/><rect y="246.1" fill="#ffffff"/><rect y="247.1" fill="#f8c9cb"/><rect y="248.1" fill="#fce4e5"/><rect y="249.1" fill="#f6f6fb"/><rect y="250.1" fill="#fefafa"/><rect y="251.1" fill="#e8e9f4"/><rect y="252.1" fill="#fef6f6"/><rect y="253.1" fill="#cccfe7"/><rect y="254.1" fill="#d2d5ea"/><rect y="255.1" fill="#eaebf5"/><rect y="256.1" fill="#fdecec"/><rect y="257.1" fill="#fbfbfd"/><rect y="258.1" fill="#f1f2f9"/><rect y="259.1" fill="#f0f0f8"/><rect y="260.1" fill="#f4f4fa"/><rect y="261.1" fill="#b4b8dc"/><rect y="262.1" fill="#fef7f8"/><rect y="263.1" fill="#c6c9e5"/><rect y="264.1" fill="#fefafa"/><rect y="265.1" fill="#e8e9f4"/><rect y="266.1" fill="#dcddee"/><rect y="267.1" fill="#c3c6e3"/><rect y="268.1" fill="#a7acd6"/><rect y="269.1" fill="#e0e2f1"/><rect y="270.1" fill="#fef8f8"/><rect y="271.1" fill="#d6d8ec"/><rect y="272.1" fill="#f4f5fa"/><rect y="273.1" fill="#a9aed7"/><rect y="274.1" fill="#b1b5db"/><rect y="275.1" fill="#e8e9f4"/><rect y="276.1" fill="#d8daed"/><rect y="277.1" fill="#c8cbe5"/><rect y="278.1" fill="#f1f1f8"/><rect y="279.1" fill="#eaebf5"/><rect y="280.0" fill="#cfd2e9"/><rect y="281.0" fill="#f3f3f9"/><rect y="282.0" fill="#babddf"/><rect y="283.0" fill="#f6f7fb"/><rect y="284.0" fill="#d7d9ec"/><rect y="285.0" fill="#fdeff0"/><rect y="286.0" fill="#989dcf"/><rect y="287.0" fill="#e8e9f4"/><rect y="288.0" fill="#bfc3e1"/><rect y="289.0" fill="#d3d6eb"/><rect y="290.0" fill="#c8cbe5"/><rect y="291.0" fill="#d0d2e9"/><rect y="292.0" fill="#e2e3f1"/><rect y="293.0" fill="#e0e2f1"/><rect y="294.0" fill="#b9bcde"/><rect y="295.0" fill="#e1e2f1"/><rect y="296.0" fill="#ced1e8"/><rect y="297.0" fill="#b3b7dc"/><rect y="298.0" fill="#b9bcde"/><rect y="299.0" fill="#c1c4e2"/><rect y="300.0" fill="#f2f3f9"/><rect y="301.0" fill="#868cc7"/><rect y="302.0" fill="#9fa4d2"/><rect y="303.0" fill="#c5c8e4"/><rect y="304.0" fill="#8b91c9"/><rect y="305.0" fill="#abafd8"/><rect y="306.0" fill="#9398cd"/><rect y="307.0" fill="#9ea3d2"/><rect y="308.0" fill="#8b91c9"/><rect y="309.0" fill="#c8cbe5"/><rect y="310.0" fill="#898fc8"/><rect y="311.0" fill="#999ecf"/><rect y="312.0" fill="#8b91c9"/><rect y="313.0" fill="#aaafd7"/><rect y="314.0" fill="#afb3da"/><rect y="315.0" fill="#a3a8d4"/><rect y="316.0" fill="#d8daed"/><rect y="316.9" fill="#c9cce6"/><rect y="317.9" fill="#dee0f0"/><rect y="318.9" fill="#b6b9dd"/><rect y="319.9" fill="#aaaed7"/><rect y="320.9" fill="#c9cbe6"/><rect y="321.9" fill="#7178bd"/><rect y="322.9" fill="#8f95cb"/><rect y="323.9" fill="#9298cc"/><rect y="324.9" fill="#787fc0"/><rect y="325.9" fill="#9da2d1"/><rect y="326.9" fill="#7c82c2"/><rect y="327.9" fill="#cfd1e8"/><rect y="328.9" fill="#7178bd"/><rect y="329.9" fill="#7980c0"/><rect y="330.9" fill="#4f58ad"/><rect y="331.9" fill="#d2d4ea"/><rect y="332.9" fill="#747bbe"/><rect y="333.9" fill="#8c92c9"/><rect y="334.9" fill="#afb3da"/><rect y="335.9" fill="#4d56ac"/><rect y="336.9" fill="#5a63b2"/><rect y="337.9" fill="#d6d8ec"/><rect y="338.9" fill="#a0a5d3"/><rect y="339.9" fill="#d2d4ea"/><rect y="340.9" fill="#ebecf6"/><rect y="341.9" fill="#7a80c1"/><rect y="342.9" fill="#bcc0e0"/><rect y="343.9" fill="#9096cb"/><rect y="344.9" fill="#a3a7d4"/><rect y="345.9" fill="#7279bd"/><rect y="346.9" fill="#7f85c3"/><rect y="347.9" fill="#c2c5e2"/><rect y="348.9" fill="#a4a9d5"/><rect y="349.9" fill="#9298cc"/><rect y="350.9" fill="#858cc6"/><rect y="351.9" fill="#6e75bb"/><rect y="352.9" fill="#a0a5d3"/><rect y="353.9" fill="#a4a8d4"/><rect y="354.8" fill="#8188c4"/><rect y="355.8" fill="#737abd"/><rect y="356.8" fill="#a7abd6"/><rect y="357.8" fill="#a2a6d3"/><rect y="358.8" fill="#525bae"/><rect y="359.8" fill="#d6d9ec"/><rect y="360.8" fill="#a7abd6"/><rect y="361.8" fill="#8087c4"/><rect y="362.8" fill="#c8cbe6"/><rect y="363.8" fill="#9a9fd0"/><rect y="364.8" fill="#787fc0"/><rect y="365.8" fill="#9ba0d0"/><rect y="366.8" fill="#646cb7"/><rect y="367.8" fill="#a5aad5"/><rect y="368.8" fill="#878dc7"/><rect y="369.8" fill="#757cbf"/><rect y="370.8" fill="#e2e4f2"/><rect y="371.8" fill="#c0c3e2"/><rect y="372.8" fill="#6169b5"/><rect y="373.8" fill="#898fc8"/><rect y="374.8" fill="#626ab6"/><rect y="375.8" fill="#c4c7e3"/><rect y="376.8" fill="#9fa4d2"/><rect y="377.8" fill="#4c55ab"/><rect y="378.8" fill="#7077bc"/><rect y="379.8" fill="#6068b4"/><rect y="380.8" fill="#efeff7"/><rect y="381.8" fill="#6971b9"/><rect y="382.8" fill="#626ab5"/><rect y="383.8" fill="#6b72ba"/><rect y="384.8" fill="#7a80c1"/><rect y="385.8" fill="#636bb6"/><rect y="386.8" fill="#b1b5db"/><rect y="387.8" fill="#b2b6db"/><rect y="388.8" fill="#b6b9dd"/><rect y="389.8" fill="#858bc6"/><rect y="390.8" fill="#6d75bb"/><rect y="391.7" fill="#b3b7dc"/><rect y="392.7" fill="#5860b1"/><rect y="393.7" fill="#6870b9"/><rect y="394.7" fill="#797fc0"/><rect y="395.7" fill="#c2c5e3"/><rect y="396.7" fill="#777dbf"/><rect y="397.7" fill="#8e93ca"/><rect y="398.7" fill="#7d83c2"/><rect y="399.7" fill="#787fc0"/><rect y="400.7" fill="#565eb0"/><rect y="401.7" fill="#848ac6"/><rect y="402.7" fill="#9ca1d1"/><rect y="403.7" fill="#9ea3d2"/><rect y="404.7" fill="#9398cc"/><rect y="405.7" fill="#9a9fd0"/><rect y="406.7" fill="#b1b5da"/><rect y="407.7" fill="#cbcee7"/><rect y="408.7" fill="#535caf"/><rect y="409.7" fill="#767dbf"/><rect y="410.7" fill="#a0a5d3"/><rect y="411.7" fill="#8289c5"/><rect y="412.7" fill="#4f58ad"/><rect y="413.7" fill="#a6abd5"/><rect y="414.7" fill="#a3a8d4"/><rect y="415.7" fill="#6e75bb"/><rect y="416.7" fill="#bdc0e0"/><rect y="417.7" fill="#949acd"/><rect y="418.7" fill="#7b82c1"/><rect y="419.7" fill="#b0b4da"/><rect y="420.7" fill="#9ca1d1"/><rect y="421.7" fill="#f8cacc"/><rect y="422.7" fill="#f0878b"/><rect y="423.7" fill="#f4a6a9"/><rect y="424.7" fill="#e84e54"/><rect y="425.7" fill="#fdeced"/><rect y="426.7" fill="#f3a1a5"/><rect y="427.7" fill="#ef8185"/><rect y="428.7" fill="#f7c2c4"/><rect y="429.6" fill="#f6bcbe"/><rect y="430.6" fill="#ef8387"/><rect y="431.6" fill="#ec6b70"/><rect y="432.6" fill="#ef8489"/><rect y="433.6" fill="#f08b8f"/><rect y="434.6" fill="#e95056"/><rect y="435.6" fill="#f3a3a6"/><rect y="436.6" fill="#e95157"/><rect y="437.6" fill="#e7454b"/><rect y="438.6" fill="#f2989b"/><rect y="439.6" fill="#e5353c"/><rect y="440.6" fill="#f0888c"/><rect y="441.6" fill="#f0878b"/><rect y="442.6" fill="#f3a3a6"/><rect y="443.6" fill="#f4acaf"/><rect y="444.6" fill="#eb656b"/><rect y="445.6" fill="#e42a31"/><rect y="446.6" fill="#ef8286"/><rect y="447.6" fill="#f4a7aa"/><rect y="448.6" fill="#f5afb1"/><rect y="449.6" fill="#e9545a"/><rect y="450.6" fill="#e6383f"/><rect y="451.6" fill="#e9555b"/><rect y="452.6" fill="#f4a6a9"/><rect y="453.6" fill="#f5aeb1"/><rect y="454.6" fill="#ef8286"/><rect y="455.6" fill="#ed767b"/><rect y="456.6" fill="#ea5a5f"/><rect y="457.6" fill="#f6babd"/><rect y="458.6" fill="#f19497"/><rect y="459.6" fill="#e95258"/><rect y="460.6" fill="#f8c6c8"/><rect y="461.6" fill="#f18e92"/><rect y="462.6" fill="#e74249"/><rect y="463.6" fill="#e7464d"/><rect y="464.6" fill="#f0888c"/><rect y="465.6" fill="#ec6e73"/><rect y="466.5" fill="#f8cccd"/><rect y="467.5" fill="#ef8286"/><rect y="468.5" fill="#f19296"/><rect y="469.5" fill="#ee767b"/><rect y="470.5" fill="#ed7479"/><rect y="471.5" fill="#f39fa2"/><rect y="472.5" fill="#f3a0a4"/><rect y="473.5" fill="#f8c6c8"/><rect y="474.5" fill="#e9555b"/><rect y="475.5" fill="#e3262e"/><rect y="476.5" fill="#f4a9ac"/><rect y="477.5" fill="#ec6b70"/><rect y="478.5" fill="#e21c24"/><rect y="479.5" fill="#eb6267"/><rect y="480.5" fill="#e95056"/><rect y="481.5" fill="#ef7f84"/><rect y="482.5" fill="#ee7b80"/><rect y="483.5" fill="#ed7277"/><rect y="484.5" fill="#ea5d63"/><rect y="485.5" fill="#f3a4a7"/><rect y="486.5" fill="#ee7b7f"/><rect y="487.5" fill="#e95359"/><rect y="488.5" fill="#ec686e"/><rect y="489.5" fill="#fadbdd"/><rect y="490.5" fill="#e21c24"/><rect y="491.5" fill="#ed7176"/><rect y="492.5" fill="#f4a9ac"/><rect y="493.5" fill="#f5b3b5"/><rect y="494.5" fill="#e84c52"/><rect y="495.5" fill="#ef8589"/><rect y="496.5" fill="#ec686d"/><rect y="497.5" fill="#ef8186"/><rect y="498.5" fill="#e84e54"/><rect y="499.5" fill="#ea5b61"/><rect y="500.5" fill="#ee777c"/><rect y="501.5" fill="#ee7a7e"/><rect y="502.5" fill="#f5b4b7"/><rect y="503.5" fill="#e95258"/><rect y="504.4" fill="#ef7f84"/><rect y="505.4" fill="#fad9da"/><rect y="506.4" fill="#e8484e"/><rect y="507.4" fill="#e21c24"/><rect y="508.4" fill="#f0898e"/><rect y="509.4" fill="#e63e45"/><rect y="510.4" fill="#ee777c"/><rect y="511.4" fill="#f9cfd0"/><rect y="512.4" fill="#f6b5b8"/><rect y="513.4" fill="#ee787d"/><rect y="514.4" fill="#ec686d"/><rect y="515.4" fill="#ef7f84"/><rect y="516.4" fill="#eb656b"/><rect y="517.4" fill="#ed7479"/><rect y="518.4" fill="#e74147"/><rect y="519.4" fill="#e9545a"/><rect y="520.4" fill="#ed7579"/><rect y="521.4" fill="#f5afb2"/>
</g>
</g>
<text x="164.20" y="233.70" font-size="7.3" fill="#3a3a3a">age</text>
<rect x="164.2" y="237.90" width="11.8" height="15.1" fill="#15684d"/>
<text x="179.20" y="247.50" font-size="7.3" fill="#3a3a3a" textLength="19.6" lengthAdjust="spacingAndGlyphs">young</text>
<rect x="164.2" y="253.00" width="11.8" height="15.1" fill="#a6a4ae"/>
<text x="179.20" y="262.60" font-size="7.3" fill="#3a3a3a" textLength="19.4" lengthAdjust="spacingAndGlyphs">mixed</text>
<rect x="164.2" y="268.10" width="11.8" height="15.1" fill="#3aaa36"/>
<text x="179.20" y="277.70" font-size="7.3" fill="#3a3a3a" textLength="11.2" lengthAdjust="spacingAndGlyphs">old</text>
<text x="158.40" y="295.40" font-size="7.3" fill="#3a3a3a">z-scored</text>
<text x="158.40" y="304.70" font-size="7.3" fill="#3a3a3a" textLength="41.2" lengthAdjust="spacingAndGlyphs">LFQ intensity</text>
<defs><linearGradient id="zg" x1="0" y1="0" x2="0" y2="1"><stop offset="0" stop-color="#e31a22"/><stop offset="0.5" stop-color="#ffffff"/><stop offset="1" stop-color="#34469e"/></linearGradient><linearGradient id="pg" x1="0" y1="0" x2="0" y2="1"><stop offset="0" stop-color="#ec1426"/><stop offset="0.3" stop-color="#dd1068"/><stop offset="0.55" stop-color="#b3128f"/><stop offset="0.8" stop-color="#6a2098"/><stop offset="1" stop-color="#3b2592"/></linearGradient></defs>
<rect x="164.3" y="314.0" width="11.6" height="48.8" fill="url(#zg)"/>
<text x="179.70" y="319.80" font-size="7.3" fill="#3a3a3a">2</text>
<text x="179.70" y="330.50" font-size="7.3" fill="#3a3a3a">1</text>
<text x="179.70" y="341.40" font-size="7.3" fill="#3a3a3a">0</text>
<text x="179.70" y="352.10" font-size="7.3" fill="#3a3a3a">−1</text>
<text x="179.70" y="363.10" font-size="7.3" fill="#3a3a3a">−2</text>
<text x="158.40" y="375.90" font-size="7.3" fill="#3a3a3a">Σ = 447</text>
<text x="389.20" y="213.50" font-size="9.5" textLength="38.7" lengthAdjust="spacingAndGlyphs">young up</text>
<line x1="384.20" y1="227.70" x2="384.20" y2="349.25" stroke="#231f20" stroke-width="1.3"/>
<line x1="383.55" y1="348.90" x2="433.20" y2="348.90" stroke="#231f20" stroke-width="1.3"/>
<line x1="381.40" y1="235.30" x2="384.20" y2="235.30" stroke="#231f20" stroke-width="1.05"/>
<text x="377.40" y="237.60" font-size="7.15" text-anchor="end" textLength="103.3" lengthAdjust="spacingAndGlyphs">ribosomal small subunit assembly</text>
<line x1="381.40" y1="247.12" x2="384.20" y2="247.12" stroke="#231f20" stroke-width="1.05"/>
<text x="377.40" y="249.42" font-size="7.15" text-anchor="end" textLength="71.0" lengthAdjust="spacingAndGlyphs">cytoplasmic translation</text>
<line x1="381.40" y1="258.94" x2="384.20" y2="258.94" stroke="#231f20" stroke-width="1.05"/>
<text x="377.40" y="261.24" font-size="7.15" text-anchor="end" textLength="108.0" lengthAdjust="spacingAndGlyphs">ribosomal small subunit biogenesis</text>
<line x1="381.40" y1="270.76" x2="384.20" y2="270.76" stroke="#231f20" stroke-width="1.05"/>
<text x="377.40" y="273.06" font-size="7.15" text-anchor="end" textLength="119.0" lengthAdjust="spacingAndGlyphs">ribonucleoprotein complex biogenesis</text>
<line x1="381.40" y1="282.58" x2="384.20" y2="282.58" stroke="#231f20" stroke-width="1.05"/>
<text x="377.40" y="284.88" font-size="7.15" text-anchor="end" textLength="142.9" lengthAdjust="spacingAndGlyphs">cellular component biogenesis at cellular level</text>
<line x1="381.40" y1="294.40" x2="384.20" y2="294.40" stroke="#231f20" stroke-width="1.05"/>
<text x="377.40" y="296.70" font-size="7.15" text-anchor="end" textLength="32.6" lengthAdjust="spacingAndGlyphs">translation</text>
<line x1="381.40" y1="306.22" x2="384.20" y2="306.22" stroke="#231f20" stroke-width="1.05"/>
<text x="377.40" y="308.52" font-size="7.15" text-anchor="end" textLength="53.0" lengthAdjust="spacingAndGlyphs">rRNA processing</text>
<line x1="381.40" y1="318.04" x2="384.20" y2="318.04" stroke="#231f20" stroke-width="1.05"/>
<text x="377.40" y="320.34" font-size="7.15" text-anchor="end" textLength="75.2" lengthAdjust="spacingAndGlyphs">rRNA metabolic process</text>
<line x1="381.40" y1="329.86" x2="384.20" y2="329.86" stroke="#231f20" stroke-width="1.05"/>
<text x="377.40" y="332.16" font-size="7.15" text-anchor="end" textLength="136.5" lengthAdjust="spacingAndGlyphs">cellular macromolecule biosynthetic process</text>
<line x1="381.40" y1="341.68" x2="384.20" y2="341.68" stroke="#231f20" stroke-width="1.05"/>
<text x="377.40" y="343.98" font-size="7.15" text-anchor="end" textLength="112.6" lengthAdjust="spacingAndGlyphs">macromolecule biosynthetic process</text>
<circle cx="413.94" cy="235.30" r="2.90" fill="#ec1c24" stroke="#c0121c" stroke-width="0.6"/>
<circle cx="411.91" cy="247.12" r="4.70" fill="#3b1f94" stroke="#2a1870" stroke-width="0.6"/>
<circle cx="411.33" cy="258.94" r="3.30" fill="#3b1f94" stroke="#2a1870" stroke-width="0.6"/>
<circle cx="407.56" cy="270.76" r="3.50" fill="#3b1f94" stroke="#2a1870" stroke-width="0.6"/>
<circle cx="405.82" cy="282.58" r="3.60" fill="#3b1f94" stroke="#2a1870" stroke-width="0.6"/>
<circle cx="404.37" cy="294.40" r="5.00" fill="#3b1f94" stroke="#2a1870" stroke-width="0.6"/>
<circle cx="403.21" cy="306.22" r="3.40" fill="#3b1f94" stroke="#2a1870" stroke-width="0.6"/>
<circle cx="402.34" cy="318.04" r="3.30" fill="#3b1f94" stroke="#2a1870" stroke-width="0.6"/>
<circle cx="397.70" cy="329.86" r="5.10" fill="#3b1f94" stroke="#2a1870" stroke-width="0.6"/>
<circle cx="397.12" cy="341.68" r="5.20" fill="#3b1f94" stroke="#2a1870" stroke-width="0.6"/>
<line x1="397.70" y1="348.60" x2="397.70" y2="351.20" stroke="#231f20" stroke-width="1.1"/>
<text x="397.70" y="361.80" font-size="7.6" fill="#2a2a2a" text-anchor="middle">5</text>
<line x1="412.20" y1="348.60" x2="412.20" y2="351.20" stroke="#231f20" stroke-width="1.1"/>
<text x="412.20" y="361.80" font-size="7.6" fill="#2a2a2a" text-anchor="middle">10</text>
<line x1="426.70" y1="348.60" x2="426.70" y2="351.20" stroke="#231f20" stroke-width="1.1"/>
<text x="426.70" y="361.80" font-size="7.6" fill="#2a2a2a" text-anchor="middle">15</text>
<text x="412.20" y="375.00" font-size="9.6" fill="#2a2a2a" text-anchor="middle" textLength="36.8" lengthAdjust="spacingAndGlyphs">Enrichment</text>
<text x="395.40" y="395.40" font-size="9.5" textLength="26.6" lengthAdjust="spacingAndGlyphs">old up</text>
<line x1="384.60" y1="400.00" x2="384.60" y2="521.45" stroke="#231f20" stroke-width="1.3"/>
<line x1="383.95" y1="521.10" x2="433.20" y2="521.10" stroke="#231f20" stroke-width="1.3"/>
<line x1="381.80" y1="408.30" x2="384.60" y2="408.30" stroke="#231f20" stroke-width="1.05"/>
<text x="377.40" y="410.60" font-size="7.15" text-anchor="end" textLength="71.1" lengthAdjust="spacingAndGlyphs">complement activation</text>
<line x1="381.80" y1="420.12" x2="384.60" y2="420.12" stroke="#231f20" stroke-width="1.05"/>
<text x="377.40" y="422.42" font-size="7.15" text-anchor="end" textLength="32.1" lengthAdjust="spacingAndGlyphs">fibrinolysis</text>
<line x1="381.80" y1="431.94" x2="384.60" y2="431.94" stroke="#231f20" stroke-width="1.05"/>
<text x="377.40" y="434.24" font-size="7.15" text-anchor="end" textLength="127.9" lengthAdjust="spacingAndGlyphs">complement activation, classical pathway</text>
<line x1="381.80" y1="443.76" x2="384.60" y2="443.76" stroke="#231f20" stroke-width="1.05"/>
<text x="377.40" y="446.06" font-size="7.15" text-anchor="end" textLength="81.2" lengthAdjust="spacingAndGlyphs">protein activation cascade</text>
<line x1="381.80" y1="455.58" x2="384.60" y2="455.58" stroke="#231f20" stroke-width="1.05"/>
<text x="377.40" y="457.88" font-size="7.15" text-anchor="end" textLength="82.6" lengthAdjust="spacingAndGlyphs">humoral immune response</text>
<line x1="381.80" y1="467.40" x2="384.60" y2="467.40" stroke="#231f20" stroke-width="1.05"/>
<text x="377.40" y="469.70" font-size="7.15" text-anchor="end" textLength="127.3" lengthAdjust="spacingAndGlyphs">negative regulation of blood coagulation</text>
<line x1="381.80" y1="479.22" x2="384.60" y2="479.22" stroke="#231f20" stroke-width="1.05"/>
<text x="377.40" y="481.52" font-size="7.15" text-anchor="end" textLength="97.0" lengthAdjust="spacingAndGlyphs">antimicrobial humoral response</text>
<line x1="381.80" y1="491.04" x2="384.60" y2="491.04" stroke="#231f20" stroke-width="1.05"/>
<text x="377.40" y="493.34" font-size="7.15" text-anchor="end" textLength="95.6" lengthAdjust="spacingAndGlyphs">antibacterial humoral response</text>
<line x1="381.80" y1="502.86" x2="384.60" y2="502.86" stroke="#231f20" stroke-width="1.05"/>
<text x="377.40" y="505.16" font-size="7.15" text-anchor="end" textLength="107.1" lengthAdjust="spacingAndGlyphs">negative regulation of coagulation</text>
<line x1="381.80" y1="514.68" x2="384.60" y2="514.68" stroke="#231f20" stroke-width="1.05"/>
<text x="377.40" y="516.98" font-size="7.15" text-anchor="end" textLength="89.8" lengthAdjust="spacingAndGlyphs">acute inflammatory response</text>
<circle cx="431.34" cy="408.30" r="3.50" fill="#3b1f94" stroke="#2a1870" stroke-width="0.6"/>
<circle cx="429.31" cy="420.12" r="3.00" fill="#85208a" stroke="#5e1c66" stroke-width="0.6"/>
<circle cx="429.02" cy="431.94" r="3.40" fill="#3b1f94" stroke="#2a1870" stroke-width="0.6"/>
<circle cx="422.64" cy="443.76" r="4.00" fill="#3b1f94" stroke="#2a1870" stroke-width="0.6"/>
<circle cx="421.77" cy="455.58" r="3.70" fill="#3b1f94" stroke="#2a1870" stroke-width="0.6"/>
<circle cx="421.19" cy="467.40" r="3.20" fill="#3b1f94" stroke="#2a1870" stroke-width="0.6"/>
<circle cx="419.45" cy="479.22" r="3.20" fill="#ec1c24" stroke="#c0121c" stroke-width="0.6"/>
<circle cx="419.45" cy="491.04" r="3.20" fill="#ec1c24" stroke="#c0121c" stroke-width="0.6"/>
<circle cx="419.16" cy="502.86" r="3.20" fill="#3b1f94" stroke="#2a1870" stroke-width="0.6"/>
<circle cx="417.13" cy="514.68" r="3.20" fill="#85208a" stroke="#5e1c66" stroke-width="0.6"/>
<line x1="397.70" y1="520.80" x2="397.70" y2="523.40" stroke="#231f20" stroke-width="1.1"/>
<text x="397.70" y="533.80" font-size="7.6" fill="#2a2a2a" text-anchor="middle">5</text>
<line x1="412.20" y1="520.80" x2="412.20" y2="523.40" stroke="#231f20" stroke-width="1.1"/>
<text x="412.20" y="533.80" font-size="7.6" fill="#2a2a2a" text-anchor="middle">10</text>
<line x1="426.70" y1="520.80" x2="426.70" y2="523.40" stroke="#231f20" stroke-width="1.1"/>
<text x="426.70" y="533.80" font-size="7.6" fill="#2a2a2a" text-anchor="middle">15</text>
<text x="412.20" y="548.20" font-size="9.6" fill="#2a2a2a" text-anchor="middle" textLength="36.8" lengthAdjust="spacingAndGlyphs">Enrichment</text>
<text x="441.30" y="221.50" font-size="7.3" fill="#3a3a3a"><tspan font-style="italic">P</tspan>−value</text>
<rect x="441.0" y="226.7" width="8.4" height="41.5" fill="url(#pg)"/>
<text x="453.90" y="232.50" font-size="7.0" fill="#3a3a3a">5e−11</text>
<text x="453.90" y="240.20" font-size="7.0" fill="#3a3a3a">4e−11</text>
<text x="453.90" y="248.00" font-size="7.0" fill="#3a3a3a">3e−11</text>
<text x="453.90" y="255.80" font-size="7.0" fill="#3a3a3a">2e−11</text>
<text x="453.90" y="263.60" font-size="7.0" fill="#3a3a3a">1e−11</text>
<text x="446.30" y="283.60" font-size="7" fill="#3a3a3a">count</text>
<circle cx="453.20" cy="293.90" r="1.90" fill="#111"/>
<text x="464.80" y="296.00" font-size="7" fill="#3a3a3a">1</text>
<circle cx="453.20" cy="302.60" r="3.80" fill="#111"/>
<text x="464.80" y="304.60" font-size="7" fill="#3a3a3a">24</text>
<circle cx="453.20" cy="312.10" r="4.80" fill="#111"/>
<text x="464.80" y="314.40" font-size="7" fill="#3a3a3a">48</text>
<circle cx="453.20" cy="323.60" r="5.40" fill="#111"/>
<text x="464.80" y="326.50" font-size="7" fill="#3a3a3a">71</text>
<circle cx="453.20" cy="336.90" r="6.00" fill="#111"/>
<text x="464.80" y="339.20" font-size="7" fill="#3a3a3a">94</text>
<text x="57.50" y="583.80" font-size="9.3" textLength="40.8" lengthAdjust="spacingAndGlyphs">C57BL/6J</text>
<line x1="34.30" y1="589.30" x2="122.50" y2="589.30" stroke="#231f20" stroke-width="0.9"/>
<text x="187.90" y="583.80" font-size="9.4" textLength="184.6" lengthAdjust="spacingAndGlyphs">Proteomics data validated by flow cytometry</text>
<line x1="164.20" y1="589.20" x2="396.70" y2="589.20" stroke="#231f20" stroke-width="0.9"/>
<use href="#ms" x="28.00" y="602.00" width="30" height="24"/>
<use href="#ms" x="65.30" y="615.60" width="30" height="24"/>
<use href="#ms" x="103.10" y="638.30" width="30" height="24"/>
<line x1="43.50" y1="640.90" x2="43.50" y2="651.90" stroke="#666" stroke-width="1.0"/>
<line x1="43.50" y1="654.30" x2="43.50" y2="684.20" stroke="#6a6a6a" stroke-width="1.1" stroke-dasharray="1.4 1.4"/>
<circle cx="43.50" cy="639.70" r="1.15" fill="#fff" stroke="#7a7a7a" stroke-width="0.7"/>
<circle cx="43.50" cy="653.10" r="1.15" fill="#fff" stroke="#7a7a7a" stroke-width="0.7"/>
<circle cx="43.50" cy="685.40" r="1.15" fill="#fff" stroke="#7a7a7a" stroke-width="0.7"/>
<line x1="30.50" y1="640.20" x2="39.00" y2="640.20" stroke="#c0262d" stroke-width="0.9"/>
<path d="M38.00 638.20 L41.90 640.20 L38.00 642.20 Z" fill="#c0262d"/>
<line x1="30.50" y1="653.60" x2="39.00" y2="653.60" stroke="#3aa845" stroke-width="0.9"/>
<path d="M38.00 651.60 L41.90 653.60 L38.00 655.60 Z" fill="#3aa845"/>
<text x="45.50" y="642.90" font-size="7.6">0</text>
<text x="45.50" y="655.60" font-size="7.6">12</text>
<text x="45.50" y="688.00" font-size="7.6">108h</text>
<line x1="81.20" y1="654.30" x2="81.20" y2="664.60" stroke="#666" stroke-width="1.0"/>
<line x1="81.20" y1="667.00" x2="81.20" y2="684.20" stroke="#6a6a6a" stroke-width="1.1" stroke-dasharray="1.4 1.4"/>
<circle cx="81.20" cy="653.10" r="1.15" fill="#fff" stroke="#7a7a7a" stroke-width="0.7"/>
<circle cx="81.20" cy="665.80" r="1.15" fill="#fff" stroke="#7a7a7a" stroke-width="0.7"/>
<circle cx="81.20" cy="685.40" r="1.15" fill="#fff" stroke="#7a7a7a" stroke-width="0.7"/>
<line x1="68.20" y1="653.60" x2="76.70" y2="653.60" stroke="#c0262d" stroke-width="0.9"/>
<path d="M75.70 651.60 L79.60 653.60 L75.70 655.60 Z" fill="#c0262d"/>
<line x1="68.20" y1="666.30" x2="76.70" y2="666.30" stroke="#3aa845" stroke-width="0.9"/>
<path d="M75.70 664.30 L79.60 666.30 L75.70 668.30 Z" fill="#3aa845"/>
<text x="83.20" y="656.30" font-size="7.6">0</text>
<text x="83.20" y="668.40" font-size="7.6">12</text>
<text x="83.20" y="688.00" font-size="7.6">60h</text>
<line x1="118.80" y1="676.70" x2="118.80" y2="687.20" stroke="#666" stroke-width="1.0"/>
<circle cx="118.80" cy="675.50" r="1.15" fill="#fff" stroke="#7a7a7a" stroke-width="0.7"/>
<circle cx="118.80" cy="688.40" r="1.15" fill="#fff" stroke="#7a7a7a" stroke-width="0.7"/>
<line x1="105.80" y1="676.00" x2="114.30" y2="676.00" stroke="#c0262d" stroke-width="0.9"/>
<path d="M113.30 674.00 L117.20 676.00 L113.30 678.00 Z" fill="#c0262d"/>
<line x1="105.80" y1="688.90" x2="114.30" y2="688.90" stroke="#3aa845" stroke-width="0.9"/>
<path d="M113.30 686.90 L117.20 688.90 L113.30 690.90 Z" fill="#3aa845"/>
<text x="120.60" y="678.60" font-size="7.6">0</text>
<text x="120.60" y="690.90" font-size="7.6">12h</text>
<line x1="50.00" y1="699.00" x2="50.00" y2="707.00" stroke="#111" stroke-width="0.9"/>
<path d="M47.80 705.6 L52.20 705.6 L50.00 710.0 Z" fill="#111"/>
<line x1="85.80" y1="699.00" x2="85.80" y2="707.00" stroke="#111" stroke-width="0.9"/>
<path d="M83.60 705.6 L88.00 705.6 L85.80 710.0 Z" fill="#111"/>
<line x1="119.70" y1="699.00" x2="119.70" y2="707.00" stroke="#111" stroke-width="0.9"/>
<path d="M117.50 705.6 L121.90 705.6 L119.70 710.0 Z" fill="#111"/>
<text x="71.20" y="718.90" font-size="7.2" fill="#3a3a3a" textLength="29.1" lengthAdjust="spacingAndGlyphs">Sampling</text>
<rect x="192.40" y="678.93" width="7.4" height="15.27" fill="#1b6a4f"/>
<rect x="203.90" y="661.05" width="7.4" height="33.15" fill="#3aa635"/>
<rect x="215.30" y="640.98" width="7.4" height="53.22" fill="#a9d68f"/>
<line x1="196.10" y1="676.75" x2="196.10" y2="681.11" stroke="#1f5a3c" stroke-width="0.8"/>
<line x1="194.50" y1="676.75" x2="197.70" y2="676.75" stroke="#1f5a3c" stroke-width="0.8"/>
<line x1="207.60" y1="656.68" x2="207.60" y2="665.41" stroke="#1f5a3c" stroke-width="0.8"/>
<line x1="206.00" y1="656.68" x2="209.20" y2="656.68" stroke="#1f5a3c" stroke-width="0.8"/>
<line x1="219.00" y1="634.00" x2="219.00" y2="647.09" stroke="#1f5a3c" stroke-width="0.8"/>
<line x1="217.40" y1="634.00" x2="220.60" y2="634.00" stroke="#1f5a3c" stroke-width="0.8"/>
<circle cx="196.10" cy="672.74" r="1.80" fill="#1b6a4f" stroke="#1f5a3c" stroke-width="0.95" fill-opacity="0.7"/>
<circle cx="194.80" cy="676.92" r="1.80" fill="#1b6a4f" stroke="#1f5a3c" stroke-width="0.95" fill-opacity="0.7"/>
<circle cx="197.50" cy="677.97" r="1.80" fill="#1b6a4f" stroke="#1f5a3c" stroke-width="0.95" fill-opacity="0.7"/>
<circle cx="196.10" cy="678.84" r="1.80" fill="#1b6a4f" stroke="#1f5a3c" stroke-width="0.95" fill-opacity="0.7"/>
<circle cx="207.60" cy="652.32" r="1.80" fill="#3aa635" stroke="#1f5a3c" stroke-width="0.95" fill-opacity="0.7"/>
<circle cx="207.60" cy="657.73" r="1.80" fill="#3aa635" stroke="#1f5a3c" stroke-width="0.95" fill-opacity="0.7"/>
<circle cx="205.90" cy="664.88" r="1.80" fill="#3aa635" stroke="#1f5a3c" stroke-width="0.95" fill-opacity="0.7"/>
<circle cx="209.30" cy="664.88" r="1.80" fill="#3aa635" stroke="#1f5a3c" stroke-width="0.95" fill-opacity="0.7"/>
<circle cx="216.90" cy="629.63" r="1.80" fill="#c8e6b5" stroke="#1f5a3c" stroke-width="0.95" fill-opacity="0.7"/>
<circle cx="220.90" cy="629.63" r="1.80" fill="#c8e6b5" stroke="#1f5a3c" stroke-width="0.95" fill-opacity="0.7"/>
<circle cx="219.00" cy="649.27" r="1.80" fill="#c8e6b5" stroke="#1f5a3c" stroke-width="0.95" fill-opacity="0.7"/>
<circle cx="219.00" cy="654.76" r="1.80" fill="#c8e6b5" stroke="#1f5a3c" stroke-width="0.95" fill-opacity="0.7"/>
<line x1="188.30" y1="621.80" x2="188.30" y2="694.85" stroke="#231f20" stroke-width="1.3"/>
<line x1="187.65" y1="694.20" x2="227.20" y2="694.20" stroke="#231f20" stroke-width="1.3"/>
<line x1="185.90" y1="694.20" x2="188.30" y2="694.20" stroke="#231f20" stroke-width="0.9"/>
<text x="181.80" y="696.60" font-size="6.9" text-anchor="end">0</text>
<line x1="185.90" y1="676.75" x2="188.30" y2="676.75" stroke="#231f20" stroke-width="0.9"/>
<text x="181.80" y="679.15" font-size="6.9" text-anchor="end">200</text>
<line x1="185.90" y1="659.30" x2="188.30" y2="659.30" stroke="#231f20" stroke-width="0.9"/>
<text x="181.80" y="661.70" font-size="6.9" text-anchor="end">400</text>
<line x1="185.90" y1="641.85" x2="188.30" y2="641.85" stroke="#231f20" stroke-width="0.9"/>
<text x="181.80" y="644.25" font-size="6.9" text-anchor="end">600</text>
<line x1="185.90" y1="624.40" x2="188.30" y2="624.40" stroke="#231f20" stroke-width="0.9"/>
<text x="181.80" y="626.80" font-size="6.9" text-anchor="end">800</text>
<line x1="196.10" y1="694.20" x2="196.10" y2="696.00" stroke="#231f20" stroke-width="0.9"/>
<text x="198.80" y="703.00" font-size="6.8" text-anchor="end" transform="rotate(-45 198.80 703.00)">0-12h</text>
<line x1="207.60" y1="694.20" x2="207.60" y2="696.00" stroke="#231f20" stroke-width="0.9"/>
<text x="210.30" y="703.00" font-size="6.8" text-anchor="end" transform="rotate(-45 210.30 703.00)">48-60h</text>
<line x1="219.00" y1="694.20" x2="219.00" y2="696.00" stroke="#231f20" stroke-width="0.9"/>
<text x="221.70" y="703.00" font-size="6.8" text-anchor="end" transform="rotate(-45 221.70 703.00)">96-108h</text>
<text x="164.20" y="656.80" font-size="8.8" fill="#2a2a2a" text-anchor="middle" textLength="36.5" lengthAdjust="spacingAndGlyphs" transform="rotate(-90 164.20 656.80)">CD36 [MFI]</text>
<path d="M195.50 617.90 V612.40 H218.90 V617.90" fill="none" stroke="#6d6d6d" stroke-width="0.85"/>
<text x="207.20" y="613.60" font-size="8" text-anchor="middle">***</text>
<path d="M195.50 662.50 V636.80 H207.50 V642.30" fill="none" stroke="#6d6d6d" stroke-width="0.85"/>
<text x="201.50" y="633.60" font-size="6.6" fill="#3a3a3a" text-anchor="middle">ns</text>
<rect x="275.60" y="677.62" width="7.4" height="16.58" fill="#1b6a4f"/>
<rect x="286.90" y="640.98" width="7.4" height="53.22" fill="#3aa635"/>
<rect x="298.30" y="648.83" width="7.4" height="45.37" fill="#a9d68f"/>
<line x1="279.30" y1="674.66" x2="279.30" y2="680.94" stroke="#1f5a3c" stroke-width="0.8"/>
<line x1="277.70" y1="674.66" x2="280.90" y2="674.66" stroke="#1f5a3c" stroke-width="0.8"/>
<line x1="290.60" y1="634.87" x2="290.60" y2="645.34" stroke="#1f5a3c" stroke-width="0.8"/>
<line x1="289.00" y1="634.87" x2="292.20" y2="634.87" stroke="#1f5a3c" stroke-width="0.8"/>
<line x1="302.00" y1="643.60" x2="302.00" y2="653.02" stroke="#1f5a3c" stroke-width="0.8"/>
<line x1="300.40" y1="643.60" x2="303.60" y2="643.60" stroke="#1f5a3c" stroke-width="0.8"/>
<circle cx="277.60" cy="674.31" r="1.80" fill="#1b6a4f" stroke="#1f5a3c" stroke-width="0.95" fill-opacity="0.7"/>
<circle cx="281.10" cy="672.56" r="1.80" fill="#1b6a4f" stroke="#1f5a3c" stroke-width="0.95" fill-opacity="0.7"/>
<circle cx="279.30" cy="680.24" r="1.80" fill="#1b6a4f" stroke="#1f5a3c" stroke-width="0.95" fill-opacity="0.7"/>
<circle cx="279.30" cy="682.68" r="1.80" fill="#1b6a4f" stroke="#1f5a3c" stroke-width="0.95" fill-opacity="0.7"/>
<circle cx="288.60" cy="632.43" r="1.80" fill="#3aa635" stroke="#1f5a3c" stroke-width="0.95" fill-opacity="0.7"/>
<circle cx="292.70" cy="635.92" r="1.80" fill="#3aa635" stroke="#1f5a3c" stroke-width="0.95" fill-opacity="0.7"/>
<circle cx="290.60" cy="646.39" r="1.80" fill="#3aa635" stroke="#1f5a3c" stroke-width="0.95" fill-opacity="0.7"/>
<circle cx="290.10" cy="653.02" r="1.80" fill="#3aa635" stroke="#1f5a3c" stroke-width="0.95" fill-opacity="0.7"/>
<circle cx="301.80" cy="637.31" r="1.80" fill="#c8e6b5" stroke="#1f5a3c" stroke-width="0.95" fill-opacity="0.7"/>
<circle cx="301.80" cy="642.55" r="1.80" fill="#c8e6b5" stroke="#1f5a3c" stroke-width="0.95" fill-opacity="0.7"/>
<circle cx="300.40" cy="658.25" r="1.80" fill="#c8e6b5" stroke="#1f5a3c" stroke-width="0.95" fill-opacity="0.7"/>
<circle cx="303.90" cy="655.81" r="1.80" fill="#c8e6b5" stroke="#1f5a3c" stroke-width="0.95" fill-opacity="0.7"/>
<line x1="271.20" y1="621.80" x2="271.20" y2="694.85" stroke="#231f20" stroke-width="1.3"/>
<line x1="270.55" y1="694.20" x2="310.20" y2="694.20" stroke="#231f20" stroke-width="1.3"/>
<line x1="268.80" y1="694.20" x2="271.20" y2="694.20" stroke="#231f20" stroke-width="0.9"/>
<text x="265.40" y="696.60" font-size="6.9" text-anchor="end">0</text>
<line x1="268.80" y1="676.75" x2="271.20" y2="676.75" stroke="#231f20" stroke-width="0.9"/>
<text x="265.40" y="679.15" font-size="6.9" text-anchor="end">50</text>
<line x1="268.80" y1="659.30" x2="271.20" y2="659.30" stroke="#231f20" stroke-width="0.9"/>
<text x="265.40" y="661.70" font-size="6.9" text-anchor="end">100</text>
<line x1="268.80" y1="641.85" x2="271.20" y2="641.85" stroke="#231f20" stroke-width="0.9"/>
<text x="265.40" y="644.25" font-size="6.9" text-anchor="end">150</text>
<line x1="268.80" y1="624.40" x2="271.20" y2="624.40" stroke="#231f20" stroke-width="0.9"/>
<text x="265.40" y="626.80" font-size="6.9" text-anchor="end">200</text>
<line x1="279.30" y1="694.20" x2="279.30" y2="696.00" stroke="#231f20" stroke-width="0.9"/>
<text x="282.00" y="703.00" font-size="6.8" text-anchor="end" transform="rotate(-45 282.00 703.00)">0-12h</text>
<line x1="290.60" y1="694.20" x2="290.60" y2="696.00" stroke="#231f20" stroke-width="0.9"/>
<text x="293.30" y="703.00" font-size="6.8" text-anchor="end" transform="rotate(-45 293.30 703.00)">48-60h</text>
<line x1="302.00" y1="694.20" x2="302.00" y2="696.00" stroke="#231f20" stroke-width="0.9"/>
<text x="304.70" y="703.00" font-size="6.8" text-anchor="end" transform="rotate(-45 304.70 703.00)">96-108h</text>
<text x="248.40" y="656.80" font-size="8.8" fill="#2a2a2a" text-anchor="middle" textLength="23.5" lengthAdjust="spacingAndGlyphs" transform="rotate(-90 248.40 656.80)">C3 [MFI]</text>
<path d="M278.70 606.60 V602.50 H301.80 V626.40" fill="none" stroke="#6d6d6d" stroke-width="0.85"/>
<text x="290.25" y="603.70" font-size="8" text-anchor="middle">**</text>
<path d="M278.70 662.50 V618.30 H290.40 V626.10" fill="none" stroke="#6d6d6d" stroke-width="0.85"/>
<text x="284.55" y="619.50" font-size="8" text-anchor="middle">**</text>
<rect x="362.20" y="691.58" width="7.4" height="2.62" fill="#1b6a4f"/>
<rect x="373.70" y="687.92" width="7.4" height="6.28" fill="#3aa635"/>
<rect x="385.40" y="656.68" width="7.4" height="37.52" fill="#a9d68f"/>
<line x1="365.90" y1="690.36" x2="365.90" y2="692.80" stroke="#1f5a3c" stroke-width="0.8"/>
<line x1="364.30" y1="690.36" x2="367.50" y2="690.36" stroke="#1f5a3c" stroke-width="0.8"/>
<line x1="377.40" y1="686.17" x2="377.40" y2="689.66" stroke="#1f5a3c" stroke-width="0.8"/>
<line x1="375.80" y1="686.17" x2="379.00" y2="686.17" stroke="#1f5a3c" stroke-width="0.8"/>
<line x1="389.10" y1="647.09" x2="389.10" y2="666.28" stroke="#1f5a3c" stroke-width="0.8"/>
<line x1="387.50" y1="647.09" x2="390.70" y2="647.09" stroke="#1f5a3c" stroke-width="0.8"/>
<circle cx="365.00" cy="688.62" r="1.80" fill="#1b6a4f" stroke="#1f5a3c" stroke-width="0.95" fill-opacity="0.7"/>
<circle cx="367.10" cy="691.06" r="1.80" fill="#1b6a4f" stroke="#1f5a3c" stroke-width="0.95" fill-opacity="0.7"/>
<circle cx="364.40" cy="692.28" r="1.80" fill="#1b6a4f" stroke="#1f5a3c" stroke-width="0.95" fill-opacity="0.7"/>
<circle cx="366.40" cy="693.15" r="1.80" fill="#1b6a4f" stroke="#1f5a3c" stroke-width="0.95" fill-opacity="0.7"/>
<circle cx="375.60" cy="683.56" r="1.80" fill="#3aa635" stroke="#1f5a3c" stroke-width="0.95" fill-opacity="0.7"/>
<circle cx="378.80" cy="684.43" r="1.80" fill="#3aa635" stroke="#1f5a3c" stroke-width="0.95" fill-opacity="0.7"/>
<circle cx="376.50" cy="687.92" r="1.80" fill="#3aa635" stroke="#1f5a3c" stroke-width="0.95" fill-opacity="0.7"/>
<circle cx="379.50" cy="687.22" r="1.80" fill="#3aa635" stroke="#1f5a3c" stroke-width="0.95" fill-opacity="0.7"/>
<circle cx="389.10" cy="636.27" r="1.80" fill="#c8e6b5" stroke="#1f5a3c" stroke-width="0.95" fill-opacity="0.7"/>
<circle cx="389.10" cy="646.39" r="1.80" fill="#c8e6b5" stroke="#1f5a3c" stroke-width="0.95" fill-opacity="0.7"/>
<circle cx="389.10" cy="667.33" r="1.80" fill="#c8e6b5" stroke="#1f5a3c" stroke-width="0.95" fill-opacity="0.7"/>
<circle cx="389.10" cy="677.45" r="1.80" fill="#c8e6b5" stroke="#1f5a3c" stroke-width="0.95" fill-opacity="0.7"/>
<line x1="358.60" y1="621.80" x2="358.60" y2="694.85" stroke="#231f20" stroke-width="1.3"/>
<line x1="357.95" y1="694.20" x2="397.30" y2="694.20" stroke="#231f20" stroke-width="1.3"/>
<line x1="356.20" y1="694.20" x2="358.60" y2="694.20" stroke="#231f20" stroke-width="0.9"/>
<text x="352.40" y="696.60" font-size="6.9" text-anchor="end">0</text>
<line x1="356.20" y1="676.75" x2="358.60" y2="676.75" stroke="#231f20" stroke-width="0.9"/>
<text x="352.40" y="679.15" font-size="6.9" text-anchor="end">1000</text>
<line x1="356.20" y1="659.30" x2="358.60" y2="659.30" stroke="#231f20" stroke-width="0.9"/>
<text x="352.40" y="661.70" font-size="6.9" text-anchor="end">2000</text>
<line x1="356.20" y1="641.85" x2="358.60" y2="641.85" stroke="#231f20" stroke-width="0.9"/>
<text x="352.40" y="644.25" font-size="6.9" text-anchor="end">3000</text>
<line x1="356.20" y1="624.40" x2="358.60" y2="624.40" stroke="#231f20" stroke-width="0.9"/>
<text x="352.40" y="626.80" font-size="6.9" text-anchor="end">4000</text>
<line x1="365.90" y1="694.20" x2="365.90" y2="696.00" stroke="#231f20" stroke-width="0.9"/>
<text x="368.60" y="703.00" font-size="6.8" text-anchor="end" transform="rotate(-45 368.60 703.00)">0-12h</text>
<line x1="377.40" y1="694.20" x2="377.40" y2="696.00" stroke="#231f20" stroke-width="0.9"/>
<text x="380.10" y="703.00" font-size="6.8" text-anchor="end" transform="rotate(-45 380.10 703.00)">48-60h</text>
<line x1="389.10" y1="694.20" x2="389.10" y2="696.00" stroke="#231f20" stroke-width="0.9"/>
<text x="391.80" y="703.00" font-size="6.8" text-anchor="end" transform="rotate(-45 391.80 703.00)">96-108h</text>
<text x="330.20" y="656.80" font-size="8.8" fill="#2a2a2a" text-anchor="middle" textLength="54.5" lengthAdjust="spacingAndGlyphs" transform="rotate(-90 330.20 656.80)">Fibrinogen [MFI]</text>
<path d="M365.70 637.10 V613.00 H388.80 V624.70" fill="none" stroke="#6d6d6d" stroke-width="0.85"/>
<text x="377.25" y="614.20" font-size="8" text-anchor="middle">**</text>
<path d="M365.70 679.40 V655.20 H377.40 V673.50" fill="none" stroke="#6d6d6d" stroke-width="0.85"/>
<text x="371.55" y="652.00" font-size="6.6" fill="#3a3a3a" text-anchor="middle">ns</text>
</svg>
</body></html>
